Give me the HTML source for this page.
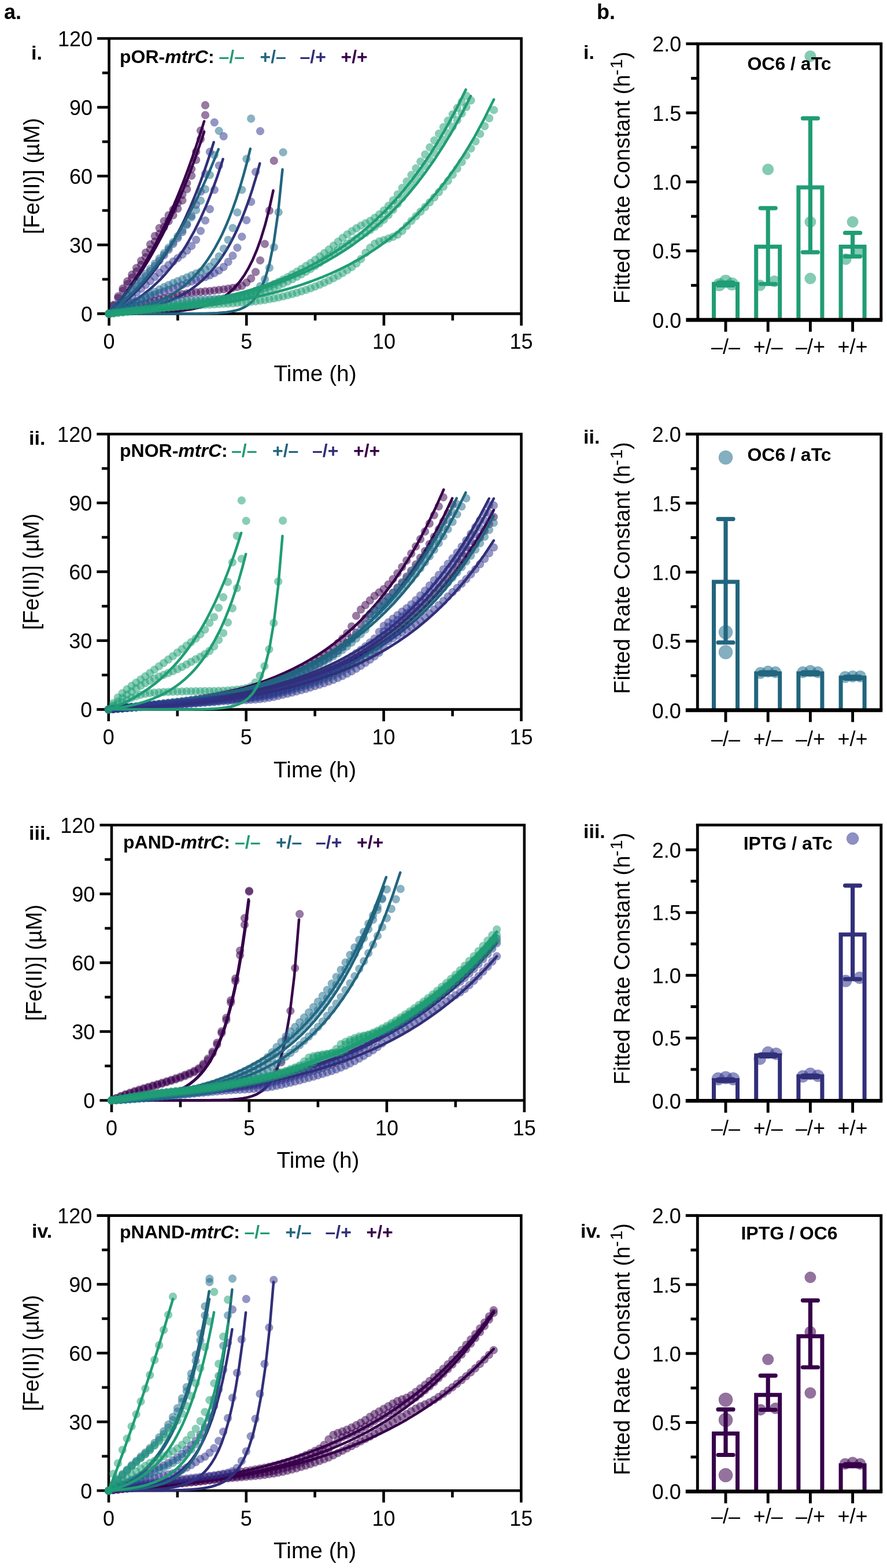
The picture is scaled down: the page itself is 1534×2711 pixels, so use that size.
<!DOCTYPE html>
<html lang="en"><head><meta charset="utf-8"><title>Figure</title>
<style>html,body{margin:0;padding:0;background:#fff}body{width:1534px;height:2711px;overflow:hidden}svg{display:block}text{font-family:'Liberation Sans', Arial, Helvetica, sans-serif}</style></head><body>
<svg width="1534" height="2711" viewBox="0 0 1534 2711">
<rect width="1534" height="2711" fill="#fff"/>
<text x="7" y="33" font-size="36" font-weight="bold">a.</text>
<text x="1032" y="33" font-size="36" font-weight="bold">b.</text>
<g>
<g stroke="#000" stroke-width="4.6" fill="none" stroke-linecap="butt">
<path d="M168.1 66.5 H901.6 V562.9"/>
<path d="M188.6 66.5 V562.9"/>
<path d="M168.1 542.4 H901.6"/>
<path d="M168.1 423.4 H188.6"/>
<path d="M168.1 304.4 H188.6"/>
<path d="M168.1 185.5 H188.6"/>
<path d="M176.8 482.9 H188.6"/>
<path d="M176.8 363.9 H188.6"/>
<path d="M176.8 245 H188.6"/>
<path d="M176.8 126 H188.6"/>
<path d="M426.3 542.4 V562.9"/>
<path d="M663.9 542.4 V562.9"/>
<path d="M307.4 542.4 V554.2"/>
<path d="M545.1 542.4 V554.2"/>
<path d="M782.8 542.4 V554.2"/>
</g>
<g fill="#3A004E" fill-opacity="0.52" stroke="#3A004E" stroke-opacity="0.25" stroke-width="1.0"><circle cx="188.6" cy="542.4" r="6.8"/><circle cx="196.5" cy="527" r="6.8"/><circle cx="204.4" cy="512.4" r="6.8"/><circle cx="212.4" cy="498.8" r="6.8"/><circle cx="220.3" cy="486.4" r="6.8"/><circle cx="228.2" cy="474.8" r="6.8"/><circle cx="236.1" cy="463.2" r="6.8"/><circle cx="244.1" cy="450.7" r="6.8"/><circle cx="252" cy="436.9" r="6.8"/><circle cx="259.9" cy="422.5" r="6.8"/><circle cx="267.8" cy="408.1" r="6.8"/><circle cx="275.7" cy="394.4" r="6.8"/><circle cx="283.7" cy="382.3" r="6.8"/><circle cx="291.6" cy="372.1" r="6.8"/><circle cx="299.5" cy="362.2" r="6.8"/><circle cx="307.4" cy="350.9" r="6.8"/><circle cx="315.4" cy="336.6" r="6.8"/><circle cx="323.3" cy="316.5" r="6.8"/><circle cx="331.2" cy="292.2" r="6.8"/><circle cx="339.1" cy="262.5" r="6.8"/><circle cx="347" cy="225.8" r="6.8"/><circle cx="355" cy="181.9" r="6.8"/></g>
<path d="M188.6 542.4 L192.7 537.6 L196.8 532.7 L200.9 527.6 L205 522.4 L209.2 517.1 L213.3 511.7 L217.4 506.1 L221.5 500.3 L225.6 494.4 L229.7 488.3 L233.8 482.1 L237.9 475.7 L242.1 469.2 L246.2 462.5 L250.3 455.6 L254.4 448.5 L258.5 441.2 L262.6 433.8 L266.7 426.1 L270.8 418.3 L274.9 410.2 L279.1 401.9 L283.2 393.4 L287.3 384.7 L291.4 375.8 L295.5 366.6 L299.6 357.2 L303.7 347.5 L307.8 337.6 L311.9 327.4 L316.1 317 L320.2 306.2 L324.3 295.2 L328.4 283.9 L332.5 272.4 L336.6 260.5 L340.7 248.3 L344.8 235.7 L349 222.9 L353.1 209.7" fill="none" stroke="#37004A" stroke-width="4.5" stroke-linecap="round" stroke-linejoin="round"/>
<g fill="#3A004E" fill-opacity="0.52" stroke="#3A004E" stroke-opacity="0.25" stroke-width="1.0"><circle cx="188.6" cy="542.4" r="6.8"/><circle cx="196.5" cy="528.5" r="6.8"/><circle cx="204.4" cy="515.3" r="6.8"/><circle cx="212.4" cy="502.7" r="6.8"/><circle cx="220.3" cy="491.2" r="6.8"/><circle cx="228.2" cy="480.4" r="6.8"/><circle cx="236.1" cy="469.5" r="6.8"/><circle cx="244.1" cy="457.7" r="6.8"/><circle cx="252" cy="444.8" r="6.8"/><circle cx="259.9" cy="431.2" r="6.8"/><circle cx="267.8" cy="417.7" r="6.8"/><circle cx="275.7" cy="404.6" r="6.8"/><circle cx="283.7" cy="392.7" r="6.8"/><circle cx="291.6" cy="382.4" r="6.8"/><circle cx="299.5" cy="372.3" r="6.8"/><circle cx="307.4" cy="360.8" r="6.8"/><circle cx="315.4" cy="346.5" r="6.8"/><circle cx="323.3" cy="326.9" r="6.8"/><circle cx="331.2" cy="303.7" r="6.8"/><circle cx="339.1" cy="276.4" r="6.8"/><circle cx="347" cy="240.5" r="6.8"/><circle cx="355" cy="199" r="6.8"/></g>
<path d="M188.6 542.4 L192.7 537.9 L196.8 533.2 L200.9 528.4 L205 523.5 L209.2 518.5 L213.3 513.3 L217.4 508 L221.5 502.6 L225.6 497 L229.7 491.3 L233.8 485.4 L237.9 479.4 L242.1 473.2 L246.2 466.9 L250.3 460.3 L254.4 453.6 L258.5 446.8 L262.6 439.7 L266.7 432.5 L270.8 425.1 L274.9 417.4 L279.1 409.6 L283.2 401.6 L287.3 393.4 L291.4 384.9 L295.5 376.2 L299.6 367.3 L303.7 358.2 L307.8 348.8 L311.9 339.2 L316.1 329.3 L320.2 319.2 L324.3 308.8 L328.4 298.1 L332.5 287.2 L336.6 275.9 L340.7 264.4 L344.8 252.5 L349 240.4 L353.1 227.9" fill="none" stroke="#37004A" stroke-width="4.5" stroke-linecap="round" stroke-linejoin="round"/>
<g fill="#3A004E" fill-opacity="0.52" stroke="#3A004E" stroke-opacity="0.25" stroke-width="1.0"><circle cx="188.6" cy="542.4" r="6.8"/><circle cx="196.5" cy="540" r="6.8"/><circle cx="204.4" cy="537.7" r="6.8"/><circle cx="212.4" cy="535.4" r="6.8"/><circle cx="220.3" cy="533.1" r="6.8"/><circle cx="228.2" cy="530.9" r="6.8"/><circle cx="236.1" cy="528.6" r="6.8"/><circle cx="244.1" cy="526.4" r="6.8"/><circle cx="252" cy="524.3" r="6.8"/><circle cx="259.9" cy="522.1" r="6.8"/><circle cx="267.8" cy="519.9" r="6.8"/><circle cx="275.7" cy="517.8" r="6.8"/><circle cx="283.7" cy="515.8" r="6.8"/><circle cx="291.6" cy="513.9" r="6.8"/><circle cx="299.5" cy="512" r="6.8"/><circle cx="307.4" cy="510.2" r="6.8"/><circle cx="315.4" cy="508.6" r="6.8"/><circle cx="323.3" cy="507.2" r="6.8"/><circle cx="331.2" cy="506.1" r="6.8"/><circle cx="339.1" cy="505.3" r="6.8"/><circle cx="347" cy="504.6" r="6.8"/><circle cx="355" cy="503.9" r="6.8"/><circle cx="362.9" cy="503.2" r="6.8"/><circle cx="370.8" cy="502.3" r="6.8"/><circle cx="378.7" cy="501.3" r="6.8"/><circle cx="386.7" cy="500.2" r="6.8"/><circle cx="394.6" cy="499" r="6.8"/><circle cx="402.5" cy="497.7" r="6.8"/><circle cx="410.4" cy="496.2" r="6.8"/><circle cx="418.3" cy="494.1" r="6.8"/><circle cx="426.3" cy="488.5" r="6.8"/><circle cx="434.2" cy="481.4" r="6.8"/><circle cx="442.1" cy="470.2" r="6.8"/><circle cx="450" cy="450.2" r="6.8"/><circle cx="458" cy="421.7" r="6.8"/><circle cx="465.9" cy="364.1" r="6.8"/><circle cx="473.8" cy="277.9" r="6.8"/></g>
<path d="M188.6 542.4 L195.7 542.3 L202.8 542.3 L209.9 542.2 L217 542.1 L224.1 542 L231.2 541.9 L238.3 541.8 L245.4 541.6 L252.5 541.4 L259.6 541.2 L266.7 540.9 L273.8 540.6 L280.9 540.2 L288 539.7 L295.1 539.2 L302.2 538.6 L309.3 537.8 L316.4 537 L323.5 535.9 L330.6 534.7 L337.7 533.3 L344.8 531.6 L351.9 529.6 L359 527.3 L366.1 524.6 L373.2 521.3 L380.3 517.5 L387.4 513 L394.5 507.7 L401.6 501.5 L408.7 494.1 L415.8 485.4 L422.9 475.2 L430 463.1 L437.1 448.9 L444.2 432.2 L451.3 412.4 L458.4 389.2 L465.5 361.7 L472.6 329.4" fill="none" stroke="#37004A" stroke-width="4.5" stroke-linecap="round" stroke-linejoin="round"/>
<g fill="#30358E" fill-opacity="0.52" stroke="#30358E" stroke-opacity="0.25" stroke-width="1.0"><circle cx="188.6" cy="542.4" r="6.8"/><circle cx="196.5" cy="534.9" r="6.8"/><circle cx="204.4" cy="527.2" r="6.8"/><circle cx="212.4" cy="519.4" r="6.8"/><circle cx="220.3" cy="511.4" r="6.8"/><circle cx="228.2" cy="503.2" r="6.8"/><circle cx="236.1" cy="494.8" r="6.8"/><circle cx="244.1" cy="486.3" r="6.8"/><circle cx="252" cy="477.7" r="6.8"/><circle cx="259.9" cy="468.9" r="6.8"/><circle cx="267.8" cy="459.9" r="6.8"/><circle cx="275.7" cy="450.7" r="6.8"/><circle cx="283.7" cy="441.3" r="6.8"/><circle cx="291.6" cy="431.6" r="6.8"/><circle cx="299.5" cy="421.6" r="6.8"/><circle cx="307.4" cy="411.7" r="6.8"/><circle cx="315.4" cy="401.1" r="6.8"/><circle cx="323.3" cy="388.7" r="6.8"/><circle cx="331.2" cy="373.1" r="6.8"/><circle cx="339.1" cy="354.1" r="6.8"/><circle cx="347" cy="331.4" r="6.8"/><circle cx="355" cy="300.5" r="6.8"/><circle cx="362.9" cy="262.5" r="6.8"/><circle cx="370.8" cy="211.6" r="6.8"/></g>
<path d="M188.6 542.4 L193.1 539.3 L197.7 536.2 L202.2 532.8 L206.7 529.4 L211.2 525.8 L215.8 522 L220.3 518.2 L224.8 514.1 L229.3 509.9 L233.9 505.5 L238.4 500.9 L242.9 496.2 L247.5 491.2 L252 486.1 L256.5 480.7 L261 475.1 L265.6 469.3 L270.1 463.3 L274.6 457 L279.2 450.4 L283.7 443.6 L288.2 436.5 L292.7 429.1 L297.3 421.5 L301.8 413.5 L306.3 405.1 L310.8 396.5 L315.4 387.5 L319.9 378.1 L324.4 368.3 L329 358.1 L333.5 347.5 L338 336.5 L342.5 325.1 L347.1 313.1 L351.6 300.7 L356.1 287.8 L360.6 274.3 L365.2 260.3 L369.7 245.8" fill="none" stroke="#312F79" stroke-width="4.5" stroke-linecap="round" stroke-linejoin="round"/>
<g fill="#30358E" fill-opacity="0.52" stroke="#30358E" stroke-opacity="0.25" stroke-width="1.0"><circle cx="188.6" cy="542.4" r="6.8"/><circle cx="196.5" cy="536.6" r="6.8"/><circle cx="204.4" cy="530.7" r="6.8"/><circle cx="212.4" cy="524.6" r="6.8"/><circle cx="220.3" cy="518.5" r="6.8"/><circle cx="228.2" cy="512.2" r="6.8"/><circle cx="236.1" cy="505.8" r="6.8"/><circle cx="244.1" cy="499.3" r="6.8"/><circle cx="252" cy="492.6" r="6.8"/><circle cx="259.9" cy="485.7" r="6.8"/><circle cx="267.8" cy="478.7" r="6.8"/><circle cx="275.7" cy="471.6" r="6.8"/><circle cx="283.7" cy="464.7" r="6.8"/><circle cx="291.6" cy="458.2" r="6.8"/><circle cx="299.5" cy="452.2" r="6.8"/><circle cx="307.4" cy="446.3" r="6.8"/><circle cx="315.4" cy="440.2" r="6.8"/><circle cx="323.3" cy="433.3" r="6.8"/><circle cx="331.2" cy="425.3" r="6.8"/><circle cx="339.1" cy="414.6" r="6.8"/><circle cx="347" cy="399.3" r="6.8"/><circle cx="355" cy="381.3" r="6.8"/><circle cx="362.9" cy="361.6" r="6.8"/><circle cx="370.8" cy="328.2" r="6.8"/><circle cx="378.7" cy="286.2" r="6.8"/><circle cx="386.7" cy="235.6" r="6.8"/></g>
<path d="M188.6 542.4 L193.5 540.4 L198.5 538.2 L203.4 535.9 L208.3 533.5 L213.2 531 L218.2 528.4 L223.1 525.6 L228 522.6 L232.9 519.5 L237.9 516.3 L242.8 512.8 L247.7 509.2 L252.6 505.4 L257.6 501.4 L262.5 497.2 L267.4 492.7 L272.3 488 L277.3 483.1 L282.2 477.9 L287.1 472.4 L292 466.6 L297 460.6 L301.9 454.2 L306.8 447.4 L311.7 440.3 L316.7 432.8 L321.6 425 L326.5 416.7 L331.4 407.9 L336.4 398.8 L341.3 389.1 L346.2 378.9 L351.1 368.1 L356.1 356.8 L361 344.9 L365.9 332.3 L370.8 319.1 L375.8 305.2 L380.7 290.5 L385.6 275.1" fill="none" stroke="#312F79" stroke-width="4.5" stroke-linecap="round" stroke-linejoin="round"/>
<g fill="#30358E" fill-opacity="0.52" stroke="#30358E" stroke-opacity="0.25" stroke-width="1.0"><circle cx="188.6" cy="542.4" r="6.8"/><circle cx="196.5" cy="538.4" r="6.8"/><circle cx="204.4" cy="534.5" r="6.8"/><circle cx="212.4" cy="530.8" r="6.8"/><circle cx="220.3" cy="527.2" r="6.8"/><circle cx="228.2" cy="523.8" r="6.8"/><circle cx="236.1" cy="520.6" r="6.8"/><circle cx="244.1" cy="517.5" r="6.8"/><circle cx="252" cy="514.7" r="6.8"/><circle cx="259.9" cy="512" r="6.8"/><circle cx="267.8" cy="509.3" r="6.8"/><circle cx="275.7" cy="506.6" r="6.8"/><circle cx="283.7" cy="503.9" r="6.8"/><circle cx="291.6" cy="501.1" r="6.8"/><circle cx="299.5" cy="498.2" r="6.8"/><circle cx="307.4" cy="495.3" r="6.8"/><circle cx="315.4" cy="492.5" r="6.8"/><circle cx="323.3" cy="489.6" r="6.8"/><circle cx="331.2" cy="486.8" r="6.8"/><circle cx="339.1" cy="484.2" r="6.8"/><circle cx="347" cy="481.6" r="6.8"/><circle cx="355" cy="478.9" r="6.8"/><circle cx="362.9" cy="475.9" r="6.8"/><circle cx="370.8" cy="472.3" r="6.8"/><circle cx="378.7" cy="467.8" r="6.8"/><circle cx="386.7" cy="461.6" r="6.8"/><circle cx="394.6" cy="452.8" r="6.8"/><circle cx="402.5" cy="442.1" r="6.8"/><circle cx="410.4" cy="428.2" r="6.8"/><circle cx="418.3" cy="409.3" r="6.8"/><circle cx="426.3" cy="380.7" r="6.8"/><circle cx="434.2" cy="348.9" r="6.8"/><circle cx="442.1" cy="297.2" r="6.8"/><circle cx="450" cy="226.7" r="6.8"/></g>
<path d="M188.6 542.4 L195.1 541.8 L201.6 541.1 L208.2 540.3 L214.7 539.5 L221.2 538.6 L227.7 537.6 L234.2 536.5 L240.7 535.3 L247.3 534 L253.8 532.6 L260.3 531 L266.8 529.2 L273.3 527.3 L279.9 525.2 L286.4 522.9 L292.9 520.4 L299.4 517.6 L305.9 514.6 L312.4 511.2 L319 507.6 L325.5 503.5 L332 499.1 L338.5 494.2 L345 488.9 L351.6 483.1 L358.1 476.6 L364.6 469.6 L371.1 461.9 L377.6 453.4 L384.1 444 L390.7 433.8 L397.2 422.6 L403.7 410.2 L410.2 396.7 L416.7 381.8 L423.2 365.5 L429.8 347.6 L436.3 327.9 L442.8 306.3 L449.3 282.6" fill="none" stroke="#312F79" stroke-width="4.5" stroke-linecap="round" stroke-linejoin="round"/>
<g fill="#1F6E8C" fill-opacity="0.52" stroke="#1F6E8C" stroke-opacity="0.25" stroke-width="1.0"><circle cx="188.6" cy="542.4" r="6.8"/><circle cx="196.5" cy="534" r="6.8"/><circle cx="204.4" cy="525.5" r="6.8"/><circle cx="212.4" cy="516.9" r="6.8"/><circle cx="220.3" cy="508.3" r="6.8"/><circle cx="228.2" cy="499.6" r="6.8"/><circle cx="236.1" cy="490.8" r="6.8"/><circle cx="244.1" cy="482.1" r="6.8"/><circle cx="252" cy="473.4" r="6.8"/><circle cx="259.9" cy="464.7" r="6.8"/><circle cx="267.8" cy="455.8" r="6.8"/><circle cx="275.7" cy="446.9" r="6.8"/><circle cx="283.7" cy="437.7" r="6.8"/><circle cx="291.6" cy="428.3" r="6.8"/><circle cx="299.5" cy="418.5" r="6.8"/><circle cx="307.4" cy="408.4" r="6.8"/><circle cx="315.4" cy="397.8" r="6.8"/><circle cx="323.3" cy="386.9" r="6.8"/><circle cx="331.2" cy="375.7" r="6.8"/><circle cx="339.1" cy="363.2" r="6.8"/><circle cx="347" cy="346.8" r="6.8"/><circle cx="355" cy="327.1" r="6.8"/><circle cx="362.9" cy="302.5" r="6.8"/><circle cx="370.8" cy="268.3" r="6.8"/><circle cx="378.7" cy="226.3" r="6.8"/></g>
<path d="M188.6 542.4 L193.3 538.7 L198.1 534.8 L202.8 530.8 L207.5 526.7 L212.2 522.5 L217 518.2 L221.7 513.7 L226.4 509.1 L231.2 504.3 L235.9 499.4 L240.6 494.4 L245.4 489.2 L250.1 483.8 L254.8 478.3 L259.5 472.6 L264.3 466.7 L269 460.7 L273.7 454.5 L278.5 448.1 L283.2 441.4 L287.9 434.6 L292.7 427.6 L297.4 420.4 L302.1 413 L306.8 405.3 L311.6 397.4 L316.3 389.3 L321 380.9 L325.8 372.2 L330.5 363.3 L335.2 354.2 L339.9 344.7 L344.7 335 L349.4 324.9 L354.1 314.6 L358.9 304 L363.6 293 L368.3 281.7 L373.1 270 L377.8 258" fill="none" stroke="#22657E" stroke-width="4.5" stroke-linecap="round" stroke-linejoin="round"/>
<g fill="#1F6E8C" fill-opacity="0.52" stroke="#1F6E8C" stroke-opacity="0.25" stroke-width="1.0"><circle cx="188.6" cy="542.4" r="6.8"/><circle cx="196.5" cy="539" r="6.8"/><circle cx="204.4" cy="535.5" r="6.8"/><circle cx="212.4" cy="531.9" r="6.8"/><circle cx="220.3" cy="528.3" r="6.8"/><circle cx="228.2" cy="524.6" r="6.8"/><circle cx="236.1" cy="520.8" r="6.8"/><circle cx="244.1" cy="517" r="6.8"/><circle cx="252" cy="513.1" r="6.8"/><circle cx="259.9" cy="508.9" r="6.8"/><circle cx="267.8" cy="504.6" r="6.8"/><circle cx="275.7" cy="500.4" r="6.8"/><circle cx="283.7" cy="496.4" r="6.8"/><circle cx="291.6" cy="492.7" r="6.8"/><circle cx="299.5" cy="489.3" r="6.8"/><circle cx="307.4" cy="486.1" r="6.8"/><circle cx="315.4" cy="482.9" r="6.8"/><circle cx="323.3" cy="479.5" r="6.8"/><circle cx="331.2" cy="476.1" r="6.8"/><circle cx="339.1" cy="472.9" r="6.8"/><circle cx="347" cy="469.6" r="6.8"/><circle cx="355" cy="465.7" r="6.8"/><circle cx="362.9" cy="460.9" r="6.8"/><circle cx="370.8" cy="453" r="6.8"/><circle cx="378.7" cy="443.3" r="6.8"/><circle cx="386.7" cy="430" r="6.8"/><circle cx="394.6" cy="414.7" r="6.8"/><circle cx="402.5" cy="394.3" r="6.8"/><circle cx="410.4" cy="367.2" r="6.8"/><circle cx="418.3" cy="328.2" r="6.8"/><circle cx="426.3" cy="274.7" r="6.8"/><circle cx="434.2" cy="205.1" r="6.8"/></g>
<path d="M188.6 542.4 L194.7 541.6 L200.8 540.7 L206.9 539.7 L213 538.7 L219.1 537.5 L225.2 536.3 L231.4 534.9 L237.5 533.4 L243.6 531.7 L249.7 529.9 L255.8 528 L261.9 525.9 L268 523.5 L274.1 521 L280.2 518.2 L286.3 515.2 L292.4 511.9 L298.5 508.3 L304.7 504.4 L310.8 500.1 L316.9 495.4 L323 490.3 L329.1 484.7 L335.2 478.7 L341.3 472 L347.4 464.8 L353.5 456.9 L359.6 448.3 L365.7 438.9 L371.8 428.6 L377.9 417.4 L384.1 405.2 L390.2 391.8 L396.3 377.2 L402.4 361.3 L408.5 344 L414.6 325.1 L420.7 304.4 L426.8 281.9 L432.9 257.3" fill="none" stroke="#22657E" stroke-width="4.5" stroke-linecap="round" stroke-linejoin="round"/>
<g fill="#1F6E8C" fill-opacity="0.52" stroke="#1F6E8C" stroke-opacity="0.25" stroke-width="1.0"><circle cx="188.6" cy="542.4" r="6.8"/><circle cx="196.5" cy="540.1" r="6.8"/><circle cx="204.4" cy="538" r="6.8"/><circle cx="212.4" cy="535.9" r="6.8"/><circle cx="220.3" cy="534" r="6.8"/><circle cx="228.2" cy="532.2" r="6.8"/><circle cx="236.1" cy="530.5" r="6.8"/><circle cx="244.1" cy="528.9" r="6.8"/><circle cx="252" cy="527.4" r="6.8"/><circle cx="259.9" cy="526" r="6.8"/><circle cx="267.8" cy="524.7" r="6.8"/><circle cx="275.7" cy="523.6" r="6.8"/><circle cx="283.7" cy="522.6" r="6.8"/><circle cx="291.6" cy="521.7" r="6.8"/><circle cx="299.5" cy="521" r="6.8"/><circle cx="307.4" cy="520.3" r="6.8"/><circle cx="315.4" cy="519.6" r="6.8"/><circle cx="323.3" cy="519.1" r="6.8"/><circle cx="331.2" cy="518.6" r="6.8"/><circle cx="339.1" cy="518.2" r="6.8"/><circle cx="347" cy="517.9" r="6.8"/><circle cx="355" cy="517.7" r="6.8"/><circle cx="362.9" cy="517.4" r="6.8"/><circle cx="370.8" cy="517.1" r="6.8"/><circle cx="378.7" cy="516.6" r="6.8"/><circle cx="386.7" cy="516.1" r="6.8"/><circle cx="394.6" cy="515.4" r="6.8"/><circle cx="402.5" cy="514.6" r="6.8"/><circle cx="410.4" cy="513.6" r="6.8"/><circle cx="418.3" cy="512.3" r="6.8"/><circle cx="426.3" cy="510.7" r="6.8"/><circle cx="434.2" cy="507.6" r="6.8"/><circle cx="442.1" cy="502.7" r="6.8"/><circle cx="450" cy="494.8" r="6.8"/><circle cx="458" cy="482.9" r="6.8"/><circle cx="465.9" cy="463" r="6.8"/><circle cx="473.8" cy="427.4" r="6.8"/><circle cx="481.7" cy="366.9" r="6.8"/><circle cx="489.6" cy="263.2" r="6.8"/></g>
<path d="M188.6 542.4 L196.1 542.4 L203.6 542.4 L211.1 542.4 L218.6 542.4 L226.1 542.4 L233.6 542.4 L241.1 542.4 L248.6 542.4 L256.1 542.4 L263.6 542.4 L271.1 542.4 L278.6 542.4 L286.1 542.4 L293.6 542.4 L301.1 542.4 L308.6 542.3 L316.1 542.3 L323.6 542.3 L331.1 542.3 L338.6 542.2 L346.1 542.1 L353.6 542 L361.1 541.8 L368.6 541.5 L376.1 541.2 L383.6 540.6 L391.1 539.9 L398.6 538.8 L406.1 537.3 L413.6 535.1 L421 532 L428.5 527.6 L436 521.4 L443.5 512.5 L451 499.8 L458.5 481.7 L466 456 L473.5 419.4 L481 367.2 L488.5 292.9" fill="none" stroke="#22657E" stroke-width="4.5" stroke-linecap="round" stroke-linejoin="round"/>
<g fill="#1FA075" fill-opacity="0.52" stroke="#1FA075" stroke-opacity="0.25" stroke-width="1.0"><circle cx="188.6" cy="542.4" r="6.8"/><circle cx="196.5" cy="541.4" r="6.8"/><circle cx="204.4" cy="540.4" r="6.8"/><circle cx="212.4" cy="539.4" r="6.8"/><circle cx="220.3" cy="538.4" r="6.8"/><circle cx="228.2" cy="537.4" r="6.8"/><circle cx="236.1" cy="536.5" r="6.8"/><circle cx="244.1" cy="535.5" r="6.8"/><circle cx="252" cy="534.5" r="6.8"/><circle cx="259.9" cy="533.6" r="6.8"/><circle cx="267.8" cy="532.6" r="6.8"/><circle cx="275.7" cy="531.7" r="6.8"/><circle cx="283.7" cy="530.7" r="6.8"/><circle cx="291.6" cy="529.8" r="6.8"/><circle cx="299.5" cy="528.8" r="6.8"/><circle cx="307.4" cy="527.8" r="6.8"/><circle cx="315.4" cy="526.7" r="6.8"/><circle cx="323.3" cy="525.7" r="6.8"/><circle cx="331.2" cy="524.6" r="6.8"/><circle cx="339.1" cy="523.4" r="6.8"/><circle cx="347" cy="522.3" r="6.8"/><circle cx="355" cy="521.2" r="6.8"/><circle cx="362.9" cy="520.1" r="6.8"/><circle cx="370.8" cy="519" r="6.8"/><circle cx="378.7" cy="517.8" r="6.8"/><circle cx="386.7" cy="516.5" r="6.8"/><circle cx="394.6" cy="515.2" r="6.8"/><circle cx="402.5" cy="513.7" r="6.8"/><circle cx="410.4" cy="512.2" r="6.8"/><circle cx="418.3" cy="510.5" r="6.8"/><circle cx="426.3" cy="508.7" r="6.8"/><circle cx="434.2" cy="506.6" r="6.8"/><circle cx="442.1" cy="504" r="6.8"/><circle cx="450" cy="501.1" r="6.8"/><circle cx="458" cy="497.9" r="6.8"/><circle cx="465.9" cy="494.6" r="6.8"/><circle cx="473.8" cy="491.1" r="6.8"/><circle cx="481.7" cy="487.4" r="6.8"/><circle cx="489.6" cy="483.3" r="6.8"/><circle cx="497.6" cy="479" r="6.8"/><circle cx="505.5" cy="474.4" r="6.8"/><circle cx="513.4" cy="469.7" r="6.8"/><circle cx="521.3" cy="464.8" r="6.8"/><circle cx="529.3" cy="459.8" r="6.8"/><circle cx="537.2" cy="454.7" r="6.8"/><circle cx="545.1" cy="449.2" r="6.8"/><circle cx="553" cy="443.4" r="6.8"/><circle cx="560.9" cy="437.5" r="6.8"/><circle cx="568.9" cy="431.4" r="6.8"/><circle cx="576.8" cy="424.8" r="6.8"/><circle cx="584.7" cy="417.9" r="6.8"/><circle cx="592.6" cy="411.3" r="6.8"/><circle cx="600.6" cy="405.2" r="6.8"/><circle cx="608.5" cy="399.7" r="6.8"/><circle cx="616.4" cy="394.6" r="6.8"/><circle cx="624.3" cy="390" r="6.8"/><circle cx="632.2" cy="386" r="6.8"/><circle cx="640.2" cy="381.8" r="6.8"/><circle cx="648.1" cy="376.6" r="6.8"/><circle cx="656" cy="370.7" r="6.8"/><circle cx="663.9" cy="363.9" r="6.8"/><circle cx="671.9" cy="355.8" r="6.8"/><circle cx="679.8" cy="346.4" r="6.8"/><circle cx="687.7" cy="336" r="6.8"/><circle cx="695.6" cy="324.9" r="6.8"/><circle cx="703.5" cy="313.7" r="6.8"/><circle cx="711.5" cy="302.5" r="6.8"/><circle cx="719.4" cy="291.1" r="6.8"/><circle cx="727.3" cy="279.2" r="6.8"/><circle cx="735.2" cy="267.1" r="6.8"/><circle cx="743.2" cy="254.8" r="6.8"/><circle cx="751.1" cy="242.7" r="6.8"/><circle cx="759" cy="231.1" r="6.8"/><circle cx="766.9" cy="219.8" r="6.8"/><circle cx="774.8" cy="208.6" r="6.8"/><circle cx="782.8" cy="197.6" r="6.8"/><circle cx="790.7" cy="186.8" r="6.8"/><circle cx="798.6" cy="176.1" r="6.8"/><circle cx="806.5" cy="165.6" r="6.8"/></g>
<path d="M188.6 542.4 L204 541.1 L219.4 539.6 L234.9 538.1 L250.3 536.4 L265.7 534.5 L281.1 532.5 L296.6 530.4 L312 528 L327.4 525.5 L342.8 522.7 L358.3 519.8 L373.7 516.5 L389.1 513 L404.5 509.2 L420 505.1 L435.4 500.6 L450.8 495.7 L466.2 490.4 L481.7 484.7 L497.1 478.5 L512.5 471.8 L527.9 464.5 L543.4 456.6 L558.8 448 L574.2 438.7 L589.6 428.6 L605.1 417.7 L620.5 405.8 L635.9 392.9 L651.3 379 L666.8 363.8 L682.2 347.4 L697.6 329.6 L713 310.3 L728.5 289.4 L743.9 266.7 L759.3 242 L774.7 215.3 L790.2 186.4 L805.6 154.9" fill="none" stroke="#209D75" stroke-width="4.5" stroke-linecap="round" stroke-linejoin="round"/>
<g fill="#1FA075" fill-opacity="0.52" stroke="#1FA075" stroke-opacity="0.25" stroke-width="1.0"><circle cx="188.6" cy="542.4" r="6.8"/><circle cx="196.5" cy="541.6" r="6.8"/><circle cx="204.4" cy="540.8" r="6.8"/><circle cx="212.4" cy="540.1" r="6.8"/><circle cx="220.3" cy="539.3" r="6.8"/><circle cx="228.2" cy="538.5" r="6.8"/><circle cx="236.1" cy="537.6" r="6.8"/><circle cx="244.1" cy="536.8" r="6.8"/><circle cx="252" cy="536" r="6.8"/><circle cx="259.9" cy="535.2" r="6.8"/><circle cx="267.8" cy="534.4" r="6.8"/><circle cx="275.7" cy="533.6" r="6.8"/><circle cx="283.7" cy="532.8" r="6.8"/><circle cx="291.6" cy="531.9" r="6.8"/><circle cx="299.5" cy="531.1" r="6.8"/><circle cx="307.4" cy="530.2" r="6.8"/><circle cx="315.4" cy="529.3" r="6.8"/><circle cx="323.3" cy="528.3" r="6.8"/><circle cx="331.2" cy="527.3" r="6.8"/><circle cx="339.1" cy="526.3" r="6.8"/><circle cx="347" cy="525.3" r="6.8"/><circle cx="355" cy="524.3" r="6.8"/><circle cx="362.9" cy="523.3" r="6.8"/><circle cx="370.8" cy="522.2" r="6.8"/><circle cx="378.7" cy="521.1" r="6.8"/><circle cx="386.7" cy="519.9" r="6.8"/><circle cx="394.6" cy="518.6" r="6.8"/><circle cx="402.5" cy="517.3" r="6.8"/><circle cx="410.4" cy="515.8" r="6.8"/><circle cx="418.3" cy="514.3" r="6.8"/><circle cx="426.3" cy="512.7" r="6.8"/><circle cx="434.2" cy="510.8" r="6.8"/><circle cx="442.1" cy="508.5" r="6.8"/><circle cx="450" cy="506" r="6.8"/><circle cx="458" cy="503.2" r="6.8"/><circle cx="465.9" cy="500.3" r="6.8"/><circle cx="473.8" cy="497.3" r="6.8"/><circle cx="481.7" cy="494" r="6.8"/><circle cx="489.6" cy="490.4" r="6.8"/><circle cx="497.6" cy="486.7" r="6.8"/><circle cx="505.5" cy="482.7" r="6.8"/><circle cx="513.4" cy="478.5" r="6.8"/><circle cx="521.3" cy="474.1" r="6.8"/><circle cx="529.3" cy="469.7" r="6.8"/><circle cx="537.2" cy="464.9" r="6.8"/><circle cx="545.1" cy="459.7" r="6.8"/><circle cx="553" cy="454.3" r="6.8"/><circle cx="560.9" cy="448.7" r="6.8"/><circle cx="568.9" cy="443.3" r="6.8"/><circle cx="576.8" cy="437.7" r="6.8"/><circle cx="584.7" cy="432" r="6.8"/><circle cx="592.6" cy="426.5" r="6.8"/><circle cx="600.6" cy="421.5" r="6.8"/><circle cx="608.5" cy="416.9" r="6.8"/><circle cx="616.4" cy="412.3" r="6.8"/><circle cx="624.3" cy="407.6" r="6.8"/><circle cx="632.2" cy="402.8" r="6.8"/><circle cx="640.2" cy="397.6" r="6.8"/><circle cx="648.1" cy="392.2" r="6.8"/><circle cx="656" cy="386.4" r="6.8"/><circle cx="663.9" cy="379.8" r="6.8"/><circle cx="671.9" cy="371.8" r="6.8"/><circle cx="679.8" cy="362.6" r="6.8"/><circle cx="687.7" cy="352.5" r="6.8"/><circle cx="695.6" cy="341.9" r="6.8"/><circle cx="703.5" cy="331" r="6.8"/><circle cx="711.5" cy="320.3" r="6.8"/><circle cx="719.4" cy="309.6" r="6.8"/><circle cx="727.3" cy="298.5" r="6.8"/><circle cx="735.2" cy="287.2" r="6.8"/><circle cx="743.2" cy="275.7" r="6.8"/><circle cx="751.1" cy="264.3" r="6.8"/><circle cx="759" cy="252.9" r="6.8"/><circle cx="766.9" cy="241.6" r="6.8"/><circle cx="774.8" cy="230.3" r="6.8"/><circle cx="782.8" cy="219" r="6.8"/><circle cx="790.7" cy="207.7" r="6.8"/><circle cx="798.6" cy="196.3" r="6.8"/><circle cx="806.5" cy="185" r="6.8"/><circle cx="814.5" cy="173.6" r="6.8"/></g>
<path d="M188.6 542.4 L204.2 541.2 L219.9 539.8 L235.5 538.3 L251.2 536.7 L266.8 535 L282.4 533.1 L298.1 531.1 L313.7 528.8 L329.3 526.4 L345 523.8 L360.6 521 L376.3 517.9 L391.9 514.5 L407.5 510.9 L423.2 507 L438.8 502.7 L454.5 498 L470.1 493 L485.7 487.5 L501.4 481.5 L517 475 L532.6 468 L548.3 460.4 L563.9 452.1 L579.6 443.1 L595.2 433.4 L610.8 422.8 L626.5 411.3 L642.1 398.8 L657.8 385.2 L673.4 370.5 L689 354.5 L704.7 337.2 L720.3 318.3 L735.9 297.9 L751.6 275.6 L767.2 251.5 L782.9 225.3 L798.5 196.9 L814.1 166" fill="none" stroke="#209D75" stroke-width="4.5" stroke-linecap="round" stroke-linejoin="round"/>
<g fill="#1FA075" fill-opacity="0.52" stroke="#1FA075" stroke-opacity="0.25" stroke-width="1.0"><circle cx="188.6" cy="542.4" r="6.8"/><circle cx="196.5" cy="541.3" r="6.8"/><circle cx="204.4" cy="540.2" r="6.8"/><circle cx="212.4" cy="539.2" r="6.8"/><circle cx="220.3" cy="538.2" r="6.8"/><circle cx="228.2" cy="537.3" r="6.8"/><circle cx="236.1" cy="536.5" r="6.8"/><circle cx="244.1" cy="535.7" r="6.8"/><circle cx="252" cy="534.9" r="6.8"/><circle cx="259.9" cy="534.2" r="6.8"/><circle cx="267.8" cy="533.5" r="6.8"/><circle cx="275.7" cy="532.8" r="6.8"/><circle cx="283.7" cy="532.1" r="6.8"/><circle cx="291.6" cy="531.5" r="6.8"/><circle cx="299.5" cy="530.9" r="6.8"/><circle cx="307.4" cy="530.3" r="6.8"/><circle cx="315.4" cy="529.7" r="6.8"/><circle cx="323.3" cy="529.1" r="6.8"/><circle cx="331.2" cy="528.5" r="6.8"/><circle cx="339.1" cy="528" r="6.8"/><circle cx="347" cy="527.5" r="6.8"/><circle cx="355" cy="527" r="6.8"/><circle cx="362.9" cy="526.6" r="6.8"/><circle cx="370.8" cy="526.2" r="6.8"/><circle cx="378.7" cy="525.8" r="6.8"/><circle cx="386.7" cy="525.3" r="6.8"/><circle cx="394.6" cy="524.9" r="6.8"/><circle cx="402.5" cy="524.4" r="6.8"/><circle cx="410.4" cy="523.8" r="6.8"/><circle cx="418.3" cy="523.2" r="6.8"/><circle cx="426.3" cy="522.6" r="6.8"/><circle cx="434.2" cy="521.8" r="6.8"/><circle cx="442.1" cy="520.9" r="6.8"/><circle cx="450" cy="519.8" r="6.8"/><circle cx="458" cy="518.6" r="6.8"/><circle cx="465.9" cy="517.3" r="6.8"/><circle cx="473.8" cy="515.9" r="6.8"/><circle cx="481.7" cy="514.3" r="6.8"/><circle cx="489.6" cy="512.5" r="6.8"/><circle cx="497.6" cy="510.5" r="6.8"/><circle cx="505.5" cy="508.4" r="6.8"/><circle cx="513.4" cy="506.1" r="6.8"/><circle cx="521.3" cy="503.6" r="6.8"/><circle cx="529.3" cy="501.1" r="6.8"/><circle cx="537.2" cy="498.4" r="6.8"/><circle cx="545.1" cy="495.4" r="6.8"/><circle cx="553" cy="492.1" r="6.8"/><circle cx="560.9" cy="488.6" r="6.8"/><circle cx="568.9" cy="484.9" r="6.8"/><circle cx="576.8" cy="481" r="6.8"/><circle cx="584.7" cy="476.7" r="6.8"/><circle cx="592.6" cy="472" r="6.8"/><circle cx="600.6" cy="467" r="6.8"/><circle cx="608.5" cy="461.6" r="6.8"/><circle cx="616.4" cy="455.5" r="6.8"/><circle cx="624.3" cy="447.7" r="6.8"/><circle cx="632.2" cy="437.1" r="6.8"/><circle cx="640.2" cy="428.4" r="6.8"/><circle cx="648.1" cy="421.3" r="6.8"/><circle cx="656" cy="417.4" r="6.8"/><circle cx="663.9" cy="415.1" r="6.8"/><circle cx="671.9" cy="412.4" r="6.8"/><circle cx="679.8" cy="409.4" r="6.8"/><circle cx="687.7" cy="405.6" r="6.8"/><circle cx="695.6" cy="399.2" r="6.8"/><circle cx="703.5" cy="390.5" r="6.8"/><circle cx="711.5" cy="381.8" r="6.8"/><circle cx="719.4" cy="373.8" r="6.8"/><circle cx="727.3" cy="365.9" r="6.8"/><circle cx="735.2" cy="357.9" r="6.8"/><circle cx="743.2" cy="349.7" r="6.8"/><circle cx="751.1" cy="341.2" r="6.8"/><circle cx="759" cy="332.2" r="6.8"/><circle cx="766.9" cy="322.7" r="6.8"/><circle cx="774.8" cy="312.7" r="6.8"/><circle cx="782.8" cy="302.3" r="6.8"/><circle cx="790.7" cy="291.5" r="6.8"/><circle cx="798.6" cy="280.3" r="6.8"/><circle cx="806.5" cy="268.8" r="6.8"/><circle cx="814.5" cy="256.8" r="6.8"/><circle cx="822.4" cy="244.4" r="6.8"/><circle cx="830.3" cy="231.5" r="6.8"/><circle cx="838.2" cy="218.1" r="6.8"/><circle cx="846.1" cy="204.4" r="6.8"/><circle cx="854.1" cy="190.2" r="6.8"/></g>
<path d="M188.6 542.4 L205.2 541.5 L221.9 540.5 L238.5 539.4 L255.1 538.2 L271.8 536.9 L288.4 535.5 L305.1 533.9 L321.7 532.2 L338.3 530.3 L355 528.2 L371.6 525.9 L388.2 523.4 L404.9 520.7 L421.5 517.6 L438.1 514.3 L454.8 510.7 L471.4 506.7 L488.1 502.3 L504.7 497.6 L521.3 492.3 L538 486.5 L554.6 480.2 L571.2 473.2 L587.9 465.6 L604.5 457.2 L621.2 448.1 L637.8 438 L654.4 426.9 L671.1 414.8 L687.7 401.5 L704.3 386.9 L721 370.9 L737.6 353.3 L754.2 334 L770.9 312.9 L787.5 289.7 L804.2 264.2 L820.8 236.3 L837.4 205.6 L854.1 172" fill="none" stroke="#209D75" stroke-width="4.5" stroke-linecap="round" stroke-linejoin="round"/>
<g font-size="36" fill="#000">
<text x="160" y="556" text-anchor="end">0</text>
<text x="160" y="437" text-anchor="end">30</text>
<text x="160" y="318.1" text-anchor="end">60</text>
<text x="160" y="199.1" text-anchor="end">90</text>
<text x="160" y="80.1" text-anchor="end">120</text>
<text x="188.6" y="603.1" text-anchor="middle">0</text>
<text x="426.3" y="603.1" text-anchor="middle">5</text>
<text x="663.9" y="603.1" text-anchor="middle">10</text>
<text x="901.6" y="603.1" text-anchor="middle">15</text>
</g>
<text x="545.1" y="659.2" font-size="38.8" text-anchor="middle">Time (h)</text>
<text transform="translate(68 304.4) rotate(-90)" font-size="38" text-anchor="middle">[Fe(II)] (µM)</text>
<text x="54" y="103" font-size="34" font-weight="bold">i.</text>
<text y="109.1" font-size="32" font-weight="bold"><tspan x="207">pOR-<tspan font-style="italic">mtrC</tspan>:</tspan>
<tspan x="378.5" fill="#209D75">–/–</tspan>
<tspan x="449.5" fill="#22657E">+/–</tspan>
<tspan x="518.5" fill="#312F79">–/+</tspan>
<tspan x="589.5" fill="#37004A">+/+</tspan>
</text>
</g>
<g>
<g stroke="#000" stroke-width="4.6" fill="none" stroke-linecap="butt">
<path d="M167.3 750.5 H901.5 V1247.1"/>
<path d="M187.8 750.5 V1247.1"/>
<path d="M167.3 1226.6 H901.5"/>
<path d="M167.3 1107.6 H187.8"/>
<path d="M167.3 988.5 H187.8"/>
<path d="M167.3 869.5 H187.8"/>
<path d="M176 1167.1 H187.8"/>
<path d="M176 1048.1 H187.8"/>
<path d="M176 929 H187.8"/>
<path d="M176 810 H187.8"/>
<path d="M425.7 1226.6 V1247.1"/>
<path d="M663.6 1226.6 V1247.1"/>
<path d="M306.8 1226.6 V1238.4"/>
<path d="M544.7 1226.6 V1238.4"/>
<path d="M782.6 1226.6 V1238.4"/>
</g>
<g fill="#1FA075" fill-opacity="0.52" stroke="#1FA075" stroke-opacity="0.25" stroke-width="1.0"><circle cx="187.8" cy="1226.6" r="6.8"/><circle cx="195.7" cy="1222.1" r="6.8"/><circle cx="203.7" cy="1217.9" r="6.8"/><circle cx="211.6" cy="1213.9" r="6.8"/><circle cx="219.5" cy="1210" r="6.8"/><circle cx="227.5" cy="1206.4" r="6.8"/><circle cx="235.4" cy="1203.6" r="6.8"/><circle cx="243.3" cy="1201.3" r="6.8"/><circle cx="251.2" cy="1199.5" r="6.8"/><circle cx="259.2" cy="1198.3" r="6.8"/><circle cx="267.1" cy="1197.6" r="6.8"/><circle cx="275" cy="1197.1" r="6.8"/><circle cx="283" cy="1196.6" r="6.8"/><circle cx="290.9" cy="1196.2" r="6.8"/><circle cx="298.8" cy="1195.9" r="6.8"/><circle cx="306.8" cy="1195.7" r="6.8"/><circle cx="314.7" cy="1195.5" r="6.8"/><circle cx="322.6" cy="1195.3" r="6.8"/><circle cx="330.5" cy="1195.2" r="6.8"/><circle cx="338.5" cy="1195.1" r="6.8"/><circle cx="346.4" cy="1195" r="6.8"/><circle cx="354.3" cy="1194.9" r="6.8"/><circle cx="362.3" cy="1194.8" r="6.8"/><circle cx="370.2" cy="1194.7" r="6.8"/><circle cx="378.1" cy="1194.5" r="6.8"/><circle cx="386.1" cy="1194.2" r="6.8"/><circle cx="394" cy="1193.7" r="6.8"/><circle cx="401.9" cy="1193.2" r="6.8"/><circle cx="409.8" cy="1192.4" r="6.8"/><circle cx="417.8" cy="1191.5" r="6.8"/><circle cx="425.7" cy="1189.8" r="6.8"/><circle cx="433.6" cy="1187" r="6.8"/><circle cx="441.6" cy="1180" r="6.8"/><circle cx="449.5" cy="1168.3" r="6.8"/><circle cx="457.4" cy="1151.7" r="6.8"/><circle cx="465.4" cy="1122.6" r="6.8"/><circle cx="473.3" cy="1077" r="6.8"/><circle cx="481.2" cy="1005.4" r="6.8"/><circle cx="489.1" cy="900.1" r="6.8"/></g>
<g fill="#3A004E" fill-opacity="0.52" stroke="#3A004E" stroke-opacity="0.25" stroke-width="1.0"><circle cx="187.8" cy="1226.6" r="6.8"/><circle cx="195.7" cy="1225.8" r="6.8"/><circle cx="203.7" cy="1224.9" r="6.8"/><circle cx="211.6" cy="1224.1" r="6.8"/><circle cx="219.5" cy="1223.2" r="6.8"/><circle cx="227.5" cy="1222.4" r="6.8"/><circle cx="235.4" cy="1221.5" r="6.8"/><circle cx="243.3" cy="1220.7" r="6.8"/><circle cx="251.2" cy="1219.8" r="6.8"/><circle cx="259.2" cy="1218.9" r="6.8"/><circle cx="267.1" cy="1218" r="6.8"/><circle cx="275" cy="1217.1" r="6.8"/><circle cx="283" cy="1216.2" r="6.8"/><circle cx="290.9" cy="1215.3" r="6.8"/><circle cx="298.8" cy="1214.4" r="6.8"/><circle cx="306.8" cy="1213.5" r="6.8"/><circle cx="314.7" cy="1212.5" r="6.8"/><circle cx="322.6" cy="1211.5" r="6.8"/><circle cx="330.5" cy="1210.4" r="6.8"/><circle cx="338.5" cy="1209.3" r="6.8"/><circle cx="346.4" cy="1208.1" r="6.8"/><circle cx="354.3" cy="1206.9" r="6.8"/><circle cx="362.3" cy="1205.6" r="6.8"/><circle cx="370.2" cy="1204.2" r="6.8"/><circle cx="378.1" cy="1202.7" r="6.8"/><circle cx="386.1" cy="1201.1" r="6.8"/><circle cx="394" cy="1199.5" r="6.8"/><circle cx="401.9" cy="1197.9" r="6.8"/><circle cx="409.8" cy="1196.2" r="6.8"/><circle cx="417.8" cy="1194.4" r="6.8"/><circle cx="425.7" cy="1192.5" r="6.8"/><circle cx="433.6" cy="1190.4" r="6.8"/><circle cx="441.6" cy="1188.2" r="6.8"/><circle cx="449.5" cy="1185.8" r="6.8"/><circle cx="457.4" cy="1183.2" r="6.8"/><circle cx="465.4" cy="1180.4" r="6.8"/><circle cx="473.3" cy="1177.3" r="6.8"/><circle cx="481.2" cy="1174.1" r="6.8"/><circle cx="489.1" cy="1170.6" r="6.8"/><circle cx="497.1" cy="1167" r="6.8"/><circle cx="505" cy="1163.2" r="6.8"/><circle cx="512.9" cy="1159.3" r="6.8"/><circle cx="520.9" cy="1155.1" r="6.8"/><circle cx="528.8" cy="1150.8" r="6.8"/><circle cx="536.7" cy="1146.2" r="6.8"/><circle cx="544.7" cy="1141.4" r="6.8"/><circle cx="552.6" cy="1136.4" r="6.8"/><circle cx="560.5" cy="1131.1" r="6.8"/><circle cx="568.4" cy="1125.6" r="6.8"/><circle cx="576.4" cy="1119.4" r="6.8"/><circle cx="584.3" cy="1112.1" r="6.8"/><circle cx="592.2" cy="1104" r="6.8"/><circle cx="600.2" cy="1094.9" r="6.8"/><circle cx="608.1" cy="1083.1" r="6.8"/><circle cx="616" cy="1064.7" r="6.8"/><circle cx="624" cy="1053.9" r="6.8"/><circle cx="631.9" cy="1046.1" r="6.8"/><circle cx="639.8" cy="1038.1" r="6.8"/><circle cx="647.7" cy="1030.3" r="6.8"/><circle cx="655.7" cy="1024.3" r="6.8"/><circle cx="663.6" cy="1018.5" r="6.8"/><circle cx="671.5" cy="1010.6" r="6.8"/><circle cx="679.5" cy="1001.3" r="6.8"/><circle cx="687.4" cy="991.2" r="6.8"/><circle cx="695.3" cy="980.4" r="6.8"/><circle cx="703.2" cy="969" r="6.8"/><circle cx="711.2" cy="957.1" r="6.8"/><circle cx="719.1" cy="944.8" r="6.8"/><circle cx="727" cy="932.1" r="6.8"/><circle cx="735" cy="918.9" r="6.8"/><circle cx="742.9" cy="905.1" r="6.8"/><circle cx="750.8" cy="890.7" r="6.8"/><circle cx="758.8" cy="875.6" r="6.8"/><circle cx="766.7" cy="859.7" r="6.8"/></g>
<path d="M187.8 1226.6 L202.3 1225.5 L216.8 1224.3 L231.3 1223 L245.8 1221.5 L260.2 1220 L274.7 1218.3 L289.2 1216.4 L303.7 1214.4 L318.2 1212.2 L332.7 1209.8 L347.2 1207.1 L361.7 1204.3 L376.1 1201.1 L390.6 1197.7 L405.1 1194 L419.6 1189.9 L434.1 1185.5 L448.6 1180.7 L463.1 1175.4 L477.6 1169.6 L492.1 1163.4 L506.5 1156.5 L521 1149.1 L535.5 1140.9 L550 1132.1 L564.5 1122.4 L579 1111.8 L593.5 1100.3 L608 1087.8 L622.4 1074.1 L636.9 1059.2 L651.4 1042.9 L665.9 1025.1 L680.4 1005.7 L694.9 984.6 L709.4 961.6 L723.9 936.4 L738.3 909 L752.8 879.1 L767.3 846.5" fill="none" stroke="#37004A" stroke-width="4.5" stroke-linecap="round" stroke-linejoin="round"/>
<g fill="#3A004E" fill-opacity="0.52" stroke="#3A004E" stroke-opacity="0.25" stroke-width="1.0"><circle cx="187.8" cy="1226.6" r="6.8"/><circle cx="195.7" cy="1225.8" r="6.8"/><circle cx="203.7" cy="1225" r="6.8"/><circle cx="211.6" cy="1224.2" r="6.8"/><circle cx="219.5" cy="1223.4" r="6.8"/><circle cx="227.5" cy="1222.7" r="6.8"/><circle cx="235.4" cy="1221.9" r="6.8"/><circle cx="243.3" cy="1221.1" r="6.8"/><circle cx="251.2" cy="1220.3" r="6.8"/><circle cx="259.2" cy="1219.5" r="6.8"/><circle cx="267.1" cy="1218.7" r="6.8"/><circle cx="275" cy="1217.9" r="6.8"/><circle cx="283" cy="1217.1" r="6.8"/><circle cx="290.9" cy="1216.3" r="6.8"/><circle cx="298.8" cy="1215.4" r="6.8"/><circle cx="306.8" cy="1214.6" r="6.8"/><circle cx="314.7" cy="1213.7" r="6.8"/><circle cx="322.6" cy="1212.8" r="6.8"/><circle cx="330.5" cy="1211.9" r="6.8"/><circle cx="338.5" cy="1210.9" r="6.8"/><circle cx="346.4" cy="1209.9" r="6.8"/><circle cx="354.3" cy="1208.8" r="6.8"/><circle cx="362.3" cy="1207.6" r="6.8"/><circle cx="370.2" cy="1206.4" r="6.8"/><circle cx="378.1" cy="1205" r="6.8"/><circle cx="386.1" cy="1203.7" r="6.8"/><circle cx="394" cy="1202.3" r="6.8"/><circle cx="401.9" cy="1200.9" r="6.8"/><circle cx="409.8" cy="1199.4" r="6.8"/><circle cx="417.8" cy="1197.8" r="6.8"/><circle cx="425.7" cy="1196.1" r="6.8"/><circle cx="433.6" cy="1194.3" r="6.8"/><circle cx="441.6" cy="1192.4" r="6.8"/><circle cx="449.5" cy="1190.3" r="6.8"/><circle cx="457.4" cy="1188" r="6.8"/><circle cx="465.4" cy="1185.5" r="6.8"/><circle cx="473.3" cy="1182.8" r="6.8"/><circle cx="481.2" cy="1179.9" r="6.8"/><circle cx="489.1" cy="1176.8" r="6.8"/><circle cx="497.1" cy="1173.6" r="6.8"/><circle cx="505" cy="1170.2" r="6.8"/><circle cx="512.9" cy="1166.7" r="6.8"/><circle cx="520.9" cy="1163" r="6.8"/><circle cx="528.8" cy="1159.2" r="6.8"/><circle cx="536.7" cy="1155.1" r="6.8"/><circle cx="544.7" cy="1150.9" r="6.8"/><circle cx="552.6" cy="1146.4" r="6.8"/><circle cx="560.5" cy="1141.8" r="6.8"/><circle cx="568.4" cy="1136.9" r="6.8"/><circle cx="576.4" cy="1131.5" r="6.8"/><circle cx="584.3" cy="1125.4" r="6.8"/><circle cx="592.2" cy="1118.7" r="6.8"/><circle cx="600.2" cy="1111.2" r="6.8"/><circle cx="608.1" cy="1103.1" r="6.8"/><circle cx="616" cy="1093.9" r="6.8"/><circle cx="624" cy="1079.5" r="6.8"/><circle cx="631.9" cy="1068.8" r="6.8"/><circle cx="639.8" cy="1061.6" r="6.8"/><circle cx="647.7" cy="1054.2" r="6.8"/><circle cx="655.7" cy="1046.5" r="6.8"/><circle cx="663.6" cy="1039.4" r="6.8"/><circle cx="671.5" cy="1032.3" r="6.8"/><circle cx="679.5" cy="1024.5" r="6.8"/><circle cx="687.4" cy="1015.9" r="6.8"/><circle cx="695.3" cy="1006.7" r="6.8"/><circle cx="703.2" cy="996.9" r="6.8"/><circle cx="711.2" cy="986.5" r="6.8"/><circle cx="719.1" cy="975.7" r="6.8"/><circle cx="727" cy="964.4" r="6.8"/><circle cx="735" cy="952.7" r="6.8"/><circle cx="742.9" cy="940.6" r="6.8"/><circle cx="750.8" cy="928.1" r="6.8"/><circle cx="758.8" cy="915.1" r="6.8"/><circle cx="766.7" cy="901.5" r="6.8"/><circle cx="774.6" cy="887.3" r="6.8"/><circle cx="782.6" cy="872.4" r="6.8"/></g>
<path d="M187.8 1226.6 L202.7 1225.6 L217.5 1224.4 L232.4 1223.2 L247.2 1221.8 L262.1 1220.4 L276.9 1218.7 L291.8 1217 L306.7 1215.1 L321.5 1213 L336.4 1210.7 L351.2 1208.2 L366.1 1205.5 L380.9 1202.5 L395.8 1199.2 L410.7 1195.7 L425.5 1191.8 L440.4 1187.6 L455.2 1183 L470.1 1178 L484.9 1172.5 L499.8 1166.5 L514.7 1160 L529.5 1152.9 L544.4 1145.1 L559.2 1136.6 L574.1 1127.3 L588.9 1117.2 L603.8 1106.2 L618.6 1094.1 L633.5 1081 L648.4 1066.6 L663.2 1051 L678.1 1033.9 L692.9 1015.2 L707.8 994.9 L722.6 972.7 L737.5 948.4 L752.4 922 L767.2 893.1 L782.1 861.6" fill="none" stroke="#37004A" stroke-width="4.5" stroke-linecap="round" stroke-linejoin="round"/>
<g fill="#3A004E" fill-opacity="0.52" stroke="#3A004E" stroke-opacity="0.25" stroke-width="1.0"><circle cx="187.8" cy="1226.6" r="6.8"/><circle cx="195.7" cy="1225.9" r="6.8"/><circle cx="203.7" cy="1225.2" r="6.8"/><circle cx="211.6" cy="1224.6" r="6.8"/><circle cx="219.5" cy="1223.9" r="6.8"/><circle cx="227.5" cy="1223.3" r="6.8"/><circle cx="235.4" cy="1222.6" r="6.8"/><circle cx="243.3" cy="1222" r="6.8"/><circle cx="251.2" cy="1221.4" r="6.8"/><circle cx="259.2" cy="1220.8" r="6.8"/><circle cx="267.1" cy="1220.1" r="6.8"/><circle cx="275" cy="1219.5" r="6.8"/><circle cx="283" cy="1218.9" r="6.8"/><circle cx="290.9" cy="1218.4" r="6.8"/><circle cx="298.8" cy="1217.8" r="6.8"/><circle cx="306.8" cy="1217.2" r="6.8"/><circle cx="314.7" cy="1216.6" r="6.8"/><circle cx="322.6" cy="1216" r="6.8"/><circle cx="330.5" cy="1215.3" r="6.8"/><circle cx="338.5" cy="1214.7" r="6.8"/><circle cx="346.4" cy="1214" r="6.8"/><circle cx="354.3" cy="1213.3" r="6.8"/><circle cx="362.3" cy="1212.5" r="6.8"/><circle cx="370.2" cy="1211.7" r="6.8"/><circle cx="378.1" cy="1210.9" r="6.8"/><circle cx="386.1" cy="1210" r="6.8"/><circle cx="394" cy="1209.3" r="6.8"/><circle cx="401.9" cy="1208.5" r="6.8"/><circle cx="409.8" cy="1207.8" r="6.8"/><circle cx="417.8" cy="1207.1" r="6.8"/><circle cx="425.7" cy="1206.3" r="6.8"/><circle cx="433.6" cy="1205.4" r="6.8"/><circle cx="441.6" cy="1204.3" r="6.8"/><circle cx="449.5" cy="1203.2" r="6.8"/><circle cx="457.4" cy="1201.8" r="6.8"/><circle cx="465.4" cy="1200.2" r="6.8"/><circle cx="473.3" cy="1198.4" r="6.8"/><circle cx="481.2" cy="1196.4" r="6.8"/><circle cx="489.1" cy="1194.3" r="6.8"/><circle cx="497.1" cy="1192.1" r="6.8"/><circle cx="505" cy="1189.8" r="6.8"/><circle cx="512.9" cy="1187.5" r="6.8"/><circle cx="520.9" cy="1185" r="6.8"/><circle cx="528.8" cy="1182.4" r="6.8"/><circle cx="536.7" cy="1179.7" r="6.8"/><circle cx="544.7" cy="1176.9" r="6.8"/><circle cx="552.6" cy="1174" r="6.8"/><circle cx="560.5" cy="1170.9" r="6.8"/><circle cx="568.4" cy="1167.7" r="6.8"/><circle cx="576.4" cy="1164.3" r="6.8"/><circle cx="584.3" cy="1160.4" r="6.8"/><circle cx="592.2" cy="1156.2" r="6.8"/><circle cx="600.2" cy="1151.7" r="6.8"/><circle cx="608.1" cy="1146.7" r="6.8"/><circle cx="616" cy="1141.4" r="6.8"/><circle cx="624" cy="1135.8" r="6.8"/><circle cx="631.9" cy="1129.7" r="6.8"/><circle cx="639.8" cy="1123.3" r="6.8"/><circle cx="647.7" cy="1115" r="6.8"/><circle cx="655.7" cy="1104.5" r="6.8"/><circle cx="663.6" cy="1098.5" r="6.8"/><circle cx="671.5" cy="1093.1" r="6.8"/><circle cx="679.5" cy="1087.7" r="6.8"/><circle cx="687.4" cy="1082" r="6.8"/><circle cx="695.3" cy="1076.3" r="6.8"/><circle cx="703.2" cy="1070.3" r="6.8"/><circle cx="711.2" cy="1063.8" r="6.8"/><circle cx="719.1" cy="1056.9" r="6.8"/><circle cx="727" cy="1049.7" r="6.8"/><circle cx="735" cy="1042.1" r="6.8"/><circle cx="742.9" cy="1034.2" r="6.8"/><circle cx="750.8" cy="1026.1" r="6.8"/><circle cx="758.8" cy="1017.6" r="6.8"/><circle cx="766.7" cy="1008.9" r="6.8"/><circle cx="774.6" cy="1000.1" r="6.8"/><circle cx="782.6" cy="991" r="6.8"/><circle cx="790.5" cy="981.6" r="6.8"/><circle cx="798.4" cy="971.8" r="6.8"/><circle cx="806.3" cy="961.7" r="6.8"/><circle cx="814.3" cy="951.2" r="6.8"/><circle cx="822.2" cy="940.4" r="6.8"/><circle cx="830.1" cy="929.4" r="6.8"/><circle cx="838.1" cy="917.9" r="6.8"/><circle cx="846" cy="906.1" r="6.8"/><circle cx="853.9" cy="893.7" r="6.8"/></g>
<path d="M187.8 1226.6 L204.5 1225.7 L221.1 1224.6 L237.8 1223.5 L254.4 1222.3 L271.1 1221 L287.7 1219.5 L304.4 1217.9 L321 1216.2 L337.7 1214.3 L354.3 1212.2 L371 1209.9 L387.6 1207.4 L404.3 1204.7 L420.9 1201.7 L437.6 1198.5 L454.2 1194.9 L470.9 1191 L487.6 1186.8 L504.2 1182.1 L520.9 1177.1 L537.5 1171.5 L554.2 1165.4 L570.8 1158.8 L587.5 1151.5 L604.1 1143.6 L620.8 1134.9 L637.4 1125.4 L654.1 1115 L670.7 1103.7 L687.4 1091.3 L704 1077.7 L720.7 1062.9 L737.3 1046.6 L754 1028.9 L770.7 1009.5 L787.3 988.3 L804 965.2 L820.6 939.8 L837.3 912.1 L853.9 881.8" fill="none" stroke="#37004A" stroke-width="4.5" stroke-linecap="round" stroke-linejoin="round"/>
<g fill="#1F6E8C" fill-opacity="0.52" stroke="#1F6E8C" stroke-opacity="0.25" stroke-width="1.0"><circle cx="187.8" cy="1226.6" r="6.8"/><circle cx="195.7" cy="1225.8" r="6.8"/><circle cx="203.7" cy="1224.9" r="6.8"/><circle cx="211.6" cy="1224.1" r="6.8"/><circle cx="219.5" cy="1223.2" r="6.8"/><circle cx="227.5" cy="1222.4" r="6.8"/><circle cx="235.4" cy="1221.5" r="6.8"/><circle cx="243.3" cy="1220.7" r="6.8"/><circle cx="251.2" cy="1219.8" r="6.8"/><circle cx="259.2" cy="1218.9" r="6.8"/><circle cx="267.1" cy="1218.1" r="6.8"/><circle cx="275" cy="1217.2" r="6.8"/><circle cx="283" cy="1216.4" r="6.8"/><circle cx="290.9" cy="1215.5" r="6.8"/><circle cx="298.8" cy="1214.6" r="6.8"/><circle cx="306.8" cy="1213.7" r="6.8"/><circle cx="314.7" cy="1212.8" r="6.8"/><circle cx="322.6" cy="1211.8" r="6.8"/><circle cx="330.5" cy="1210.8" r="6.8"/><circle cx="338.5" cy="1209.8" r="6.8"/><circle cx="346.4" cy="1208.7" r="6.8"/><circle cx="354.3" cy="1207.5" r="6.8"/><circle cx="362.3" cy="1206.3" r="6.8"/><circle cx="370.2" cy="1205" r="6.8"/><circle cx="378.1" cy="1203.6" r="6.8"/><circle cx="386.1" cy="1202.2" r="6.8"/><circle cx="394" cy="1200.7" r="6.8"/><circle cx="401.9" cy="1199.3" r="6.8"/><circle cx="409.8" cy="1197.7" r="6.8"/><circle cx="417.8" cy="1196.1" r="6.8"/><circle cx="425.7" cy="1194.4" r="6.8"/><circle cx="433.6" cy="1192.6" r="6.8"/><circle cx="441.6" cy="1190.6" r="6.8"/><circle cx="449.5" cy="1188.4" r="6.8"/><circle cx="457.4" cy="1186.1" r="6.8"/><circle cx="465.4" cy="1183.6" r="6.8"/><circle cx="473.3" cy="1180.9" r="6.8"/><circle cx="481.2" cy="1177.9" r="6.8"/><circle cx="489.1" cy="1174.9" r="6.8"/><circle cx="497.1" cy="1171.7" r="6.8"/><circle cx="505" cy="1168.3" r="6.8"/><circle cx="512.9" cy="1164.8" r="6.8"/><circle cx="520.9" cy="1161.2" r="6.8"/><circle cx="528.8" cy="1157.3" r="6.8"/><circle cx="536.7" cy="1153.3" r="6.8"/><circle cx="544.7" cy="1149.2" r="6.8"/><circle cx="552.6" cy="1144.8" r="6.8"/><circle cx="560.5" cy="1140.2" r="6.8"/><circle cx="568.4" cy="1135.5" r="6.8"/><circle cx="576.4" cy="1130.4" r="6.8"/><circle cx="584.3" cy="1124.8" r="6.8"/><circle cx="592.2" cy="1118.7" r="6.8"/><circle cx="600.2" cy="1112.1" r="6.8"/><circle cx="608.1" cy="1105" r="6.8"/><circle cx="616" cy="1097.4" r="6.8"/><circle cx="624" cy="1089.3" r="6.8"/><circle cx="631.9" cy="1079.5" r="6.8"/><circle cx="639.8" cy="1065.7" r="6.8"/><circle cx="647.7" cy="1056.4" r="6.8"/><circle cx="655.7" cy="1048.8" r="6.8"/><circle cx="663.6" cy="1041.1" r="6.8"/><circle cx="671.5" cy="1033.1" r="6.8"/><circle cx="679.5" cy="1025.2" r="6.8"/><circle cx="687.4" cy="1017.2" r="6.8"/><circle cx="695.3" cy="1008.7" r="6.8"/><circle cx="703.2" cy="999.8" r="6.8"/><circle cx="711.2" cy="990.3" r="6.8"/><circle cx="719.1" cy="980.5" r="6.8"/><circle cx="727" cy="970.2" r="6.8"/><circle cx="735" cy="959.5" r="6.8"/><circle cx="742.9" cy="948.4" r="6.8"/><circle cx="750.8" cy="936.8" r="6.8"/><circle cx="758.8" cy="924.8" r="6.8"/><circle cx="766.7" cy="912.4" r="6.8"/><circle cx="774.6" cy="899.4" r="6.8"/><circle cx="782.6" cy="885.9" r="6.8"/><circle cx="790.5" cy="871.8" r="6.8"/></g>
<path d="M187.8 1226.6 L202.8 1225.4 L217.9 1224.2 L232.9 1222.8 L248 1221.3 L263 1219.7 L278.1 1217.9 L293.1 1216 L308.2 1214 L323.2 1211.7 L338.3 1209.2 L353.3 1206.6 L368.4 1203.6 L383.4 1200.5 L398.5 1197 L413.5 1193.3 L428.6 1189.2 L443.6 1184.8 L458.6 1180 L473.7 1174.8 L488.7 1169.1 L503.8 1162.9 L518.8 1156.2 L533.9 1148.8 L548.9 1140.9 L564 1132.2 L579 1122.8 L594.1 1112.6 L609.1 1101.5 L624.2 1089.4 L639.2 1076.2 L654.3 1061.9 L669.3 1046.4 L684.4 1029.5 L699.4 1011.1 L714.5 991.1 L729.5 969.3 L744.5 945.7 L759.6 920 L774.6 892 L789.7 861.6" fill="none" stroke="#22657E" stroke-width="4.5" stroke-linecap="round" stroke-linejoin="round"/>
<g fill="#1F6E8C" fill-opacity="0.52" stroke="#1F6E8C" stroke-opacity="0.25" stroke-width="1.0"><circle cx="187.8" cy="1226.6" r="6.8"/><circle cx="195.7" cy="1225.8" r="6.8"/><circle cx="203.7" cy="1224.9" r="6.8"/><circle cx="211.6" cy="1224.1" r="6.8"/><circle cx="219.5" cy="1223.3" r="6.8"/><circle cx="227.5" cy="1222.4" r="6.8"/><circle cx="235.4" cy="1221.6" r="6.8"/><circle cx="243.3" cy="1220.8" r="6.8"/><circle cx="251.2" cy="1219.9" r="6.8"/><circle cx="259.2" cy="1219.1" r="6.8"/><circle cx="267.1" cy="1218.2" r="6.8"/><circle cx="275" cy="1217.4" r="6.8"/><circle cx="283" cy="1216.6" r="6.8"/><circle cx="290.9" cy="1215.7" r="6.8"/><circle cx="298.8" cy="1214.9" r="6.8"/><circle cx="306.8" cy="1214" r="6.8"/><circle cx="314.7" cy="1213.1" r="6.8"/><circle cx="322.6" cy="1212.2" r="6.8"/><circle cx="330.5" cy="1211.2" r="6.8"/><circle cx="338.5" cy="1210.2" r="6.8"/><circle cx="346.4" cy="1209.1" r="6.8"/><circle cx="354.3" cy="1208" r="6.8"/><circle cx="362.3" cy="1206.9" r="6.8"/><circle cx="370.2" cy="1205.6" r="6.8"/><circle cx="378.1" cy="1204.3" r="6.8"/><circle cx="386.1" cy="1202.9" r="6.8"/><circle cx="394" cy="1201.5" r="6.8"/><circle cx="401.9" cy="1200.1" r="6.8"/><circle cx="409.8" cy="1198.7" r="6.8"/><circle cx="417.8" cy="1197.1" r="6.8"/><circle cx="425.7" cy="1195.5" r="6.8"/><circle cx="433.6" cy="1193.7" r="6.8"/><circle cx="441.6" cy="1191.9" r="6.8"/><circle cx="449.5" cy="1189.8" r="6.8"/><circle cx="457.4" cy="1187.6" r="6.8"/><circle cx="465.4" cy="1185.2" r="6.8"/><circle cx="473.3" cy="1182.6" r="6.8"/><circle cx="481.2" cy="1179.8" r="6.8"/><circle cx="489.1" cy="1176.9" r="6.8"/><circle cx="497.1" cy="1173.8" r="6.8"/><circle cx="505" cy="1170.6" r="6.8"/><circle cx="512.9" cy="1167.3" r="6.8"/><circle cx="520.9" cy="1163.8" r="6.8"/><circle cx="528.8" cy="1160.2" r="6.8"/><circle cx="536.7" cy="1156.4" r="6.8"/><circle cx="544.7" cy="1152.5" r="6.8"/><circle cx="552.6" cy="1148.3" r="6.8"/><circle cx="560.5" cy="1144" r="6.8"/><circle cx="568.4" cy="1139.5" r="6.8"/><circle cx="576.4" cy="1134.7" r="6.8"/><circle cx="584.3" cy="1129.4" r="6.8"/><circle cx="592.2" cy="1123.7" r="6.8"/><circle cx="600.2" cy="1117.6" r="6.8"/><circle cx="608.1" cy="1111" r="6.8"/><circle cx="616" cy="1104" r="6.8"/><circle cx="624" cy="1096.4" r="6.8"/><circle cx="631.9" cy="1088.5" r="6.8"/><circle cx="639.8" cy="1076.9" r="6.8"/><circle cx="647.7" cy="1064.2" r="6.8"/><circle cx="655.7" cy="1056.7" r="6.8"/><circle cx="663.6" cy="1049.4" r="6.8"/><circle cx="671.5" cy="1041.9" r="6.8"/><circle cx="679.5" cy="1034.3" r="6.8"/><circle cx="687.4" cy="1026.8" r="6.8"/><circle cx="695.3" cy="1019" r="6.8"/><circle cx="703.2" cy="1010.6" r="6.8"/><circle cx="711.2" cy="1001.7" r="6.8"/><circle cx="719.1" cy="992.3" r="6.8"/><circle cx="727" cy="982.5" r="6.8"/><circle cx="735" cy="972.2" r="6.8"/><circle cx="742.9" cy="961.6" r="6.8"/><circle cx="750.8" cy="950.5" r="6.8"/><circle cx="758.8" cy="939" r="6.8"/><circle cx="766.7" cy="927.2" r="6.8"/><circle cx="774.6" cy="915" r="6.8"/><circle cx="782.6" cy="902.4" r="6.8"/><circle cx="790.5" cy="889.3" r="6.8"/><circle cx="798.4" cy="875.7" r="6.8"/><circle cx="806.3" cy="861.5" r="6.8"/></g>
<path d="M187.8 1226.6 L203.2 1225.4 L218.7 1224.2 L234.1 1222.8 L249.6 1221.3 L265 1219.6 L280.4 1217.8 L295.9 1215.9 L311.3 1213.8 L326.8 1211.5 L342.2 1209 L357.6 1206.3 L373.1 1203.3 L388.5 1200.1 L404 1196.6 L419.4 1192.8 L434.8 1188.6 L450.3 1184.1 L465.7 1179.2 L481.2 1173.9 L496.6 1168.1 L512 1161.7 L527.5 1154.9 L542.9 1147.4 L558.4 1139.2 L573.8 1130.4 L589.2 1120.7 L604.7 1110.2 L620.1 1098.8 L635.6 1086.4 L651 1072.9 L666.4 1058.2 L681.9 1042.2 L697.3 1024.8 L712.8 1005.9 L728.2 985.3 L743.6 962.9 L759.1 938.5 L774.5 912 L789.9 883.1 L805.4 851.7" fill="none" stroke="#22657E" stroke-width="4.5" stroke-linecap="round" stroke-linejoin="round"/>
<g fill="#1F6E8C" fill-opacity="0.52" stroke="#1F6E8C" stroke-opacity="0.25" stroke-width="1.0"><circle cx="187.8" cy="1226.6" r="6.8"/><circle cx="195.7" cy="1226" r="6.8"/><circle cx="203.7" cy="1225.3" r="6.8"/><circle cx="211.6" cy="1224.7" r="6.8"/><circle cx="219.5" cy="1224.1" r="6.8"/><circle cx="227.5" cy="1223.5" r="6.8"/><circle cx="235.4" cy="1222.9" r="6.8"/><circle cx="243.3" cy="1222.3" r="6.8"/><circle cx="251.2" cy="1221.7" r="6.8"/><circle cx="259.2" cy="1221.1" r="6.8"/><circle cx="267.1" cy="1220.5" r="6.8"/><circle cx="275" cy="1220" r="6.8"/><circle cx="283" cy="1219.4" r="6.8"/><circle cx="290.9" cy="1218.9" r="6.8"/><circle cx="298.8" cy="1218.4" r="6.8"/><circle cx="306.8" cy="1217.8" r="6.8"/><circle cx="314.7" cy="1217.3" r="6.8"/><circle cx="322.6" cy="1216.7" r="6.8"/><circle cx="330.5" cy="1216.2" r="6.8"/><circle cx="338.5" cy="1215.6" r="6.8"/><circle cx="346.4" cy="1214.9" r="6.8"/><circle cx="354.3" cy="1214.3" r="6.8"/><circle cx="362.3" cy="1213.6" r="6.8"/><circle cx="370.2" cy="1212.9" r="6.8"/><circle cx="378.1" cy="1212.1" r="6.8"/><circle cx="386.1" cy="1211.3" r="6.8"/><circle cx="394" cy="1210.6" r="6.8"/><circle cx="401.9" cy="1210" r="6.8"/><circle cx="409.8" cy="1209.3" r="6.8"/><circle cx="417.8" cy="1208.7" r="6.8"/><circle cx="425.7" cy="1207.9" r="6.8"/><circle cx="433.6" cy="1207.1" r="6.8"/><circle cx="441.6" cy="1206.2" r="6.8"/><circle cx="449.5" cy="1205.1" r="6.8"/><circle cx="457.4" cy="1203.8" r="6.8"/><circle cx="465.4" cy="1202.4" r="6.8"/><circle cx="473.3" cy="1200.6" r="6.8"/><circle cx="481.2" cy="1198.7" r="6.8"/><circle cx="489.1" cy="1196.8" r="6.8"/><circle cx="497.1" cy="1194.7" r="6.8"/><circle cx="505" cy="1192.5" r="6.8"/><circle cx="512.9" cy="1190.3" r="6.8"/><circle cx="520.9" cy="1187.9" r="6.8"/><circle cx="528.8" cy="1185.4" r="6.8"/><circle cx="536.7" cy="1182.9" r="6.8"/><circle cx="544.7" cy="1180.2" r="6.8"/><circle cx="552.6" cy="1177.4" r="6.8"/><circle cx="560.5" cy="1174.4" r="6.8"/><circle cx="568.4" cy="1171.4" r="6.8"/><circle cx="576.4" cy="1168.1" r="6.8"/><circle cx="584.3" cy="1164.5" r="6.8"/><circle cx="592.2" cy="1160.6" r="6.8"/><circle cx="600.2" cy="1156.4" r="6.8"/><circle cx="608.1" cy="1151.8" r="6.8"/><circle cx="616" cy="1146.9" r="6.8"/><circle cx="624" cy="1141.7" r="6.8"/><circle cx="631.9" cy="1136.1" r="6.8"/><circle cx="639.8" cy="1130.2" r="6.8"/><circle cx="647.7" cy="1123.9" r="6.8"/><circle cx="655.7" cy="1116.4" r="6.8"/><circle cx="663.6" cy="1105.6" r="6.8"/><circle cx="671.5" cy="1098.6" r="6.8"/><circle cx="679.5" cy="1093.2" r="6.8"/><circle cx="687.4" cy="1087.6" r="6.8"/><circle cx="695.3" cy="1081.9" r="6.8"/><circle cx="703.2" cy="1076" r="6.8"/><circle cx="711.2" cy="1069.9" r="6.8"/><circle cx="719.1" cy="1063.4" r="6.8"/><circle cx="727" cy="1056.4" r="6.8"/><circle cx="735" cy="1049.1" r="6.8"/><circle cx="742.9" cy="1041.4" r="6.8"/><circle cx="750.8" cy="1033.3" r="6.8"/><circle cx="758.8" cy="1025" r="6.8"/><circle cx="766.7" cy="1016.3" r="6.8"/><circle cx="774.6" cy="1007.5" r="6.8"/><circle cx="782.6" cy="998.7" r="6.8"/><circle cx="790.5" cy="989.7" r="6.8"/><circle cx="798.4" cy="980.5" r="6.8"/><circle cx="806.3" cy="970.8" r="6.8"/><circle cx="814.3" cy="960.6" r="6.8"/><circle cx="822.2" cy="950.2" r="6.8"/><circle cx="830.1" cy="939.3" r="6.8"/><circle cx="838.1" cy="928" r="6.8"/><circle cx="846" cy="916.3" r="6.8"/><circle cx="853.9" cy="904" r="6.8"/></g>
<path d="M187.8 1226.6 L204.5 1225.7 L221.1 1224.8 L237.8 1223.8 L254.4 1222.6 L271.1 1221.4 L287.7 1220.1 L304.4 1218.6 L321 1216.9 L337.7 1215.2 L354.3 1213.2 L371 1211.1 L387.6 1208.7 L404.3 1206.2 L420.9 1203.4 L437.6 1200.3 L454.2 1196.9 L470.9 1193.3 L487.6 1189.2 L504.2 1184.8 L520.9 1180 L537.5 1174.7 L554.2 1168.9 L570.8 1162.5 L587.5 1155.5 L604.1 1147.9 L620.8 1139.5 L637.4 1130.4 L654.1 1120.4 L670.7 1109.4 L687.4 1097.4 L704 1084.2 L720.7 1069.8 L737.3 1054 L754 1036.7 L770.7 1017.7 L787.3 996.9 L804 974.2 L820.6 949.3 L837.3 922 L853.9 892.1" fill="none" stroke="#22657E" stroke-width="4.5" stroke-linecap="round" stroke-linejoin="round"/>
<g fill="#30358E" fill-opacity="0.52" stroke="#30358E" stroke-opacity="0.25" stroke-width="1.0"><circle cx="187.8" cy="1226.6" r="6.8"/><circle cx="195.7" cy="1225.8" r="6.8"/><circle cx="203.7" cy="1225.1" r="6.8"/><circle cx="211.6" cy="1224.4" r="6.8"/><circle cx="219.5" cy="1223.6" r="6.8"/><circle cx="227.5" cy="1222.9" r="6.8"/><circle cx="235.4" cy="1222.2" r="6.8"/><circle cx="243.3" cy="1221.5" r="6.8"/><circle cx="251.2" cy="1220.7" r="6.8"/><circle cx="259.2" cy="1220" r="6.8"/><circle cx="267.1" cy="1219.3" r="6.8"/><circle cx="275" cy="1218.6" r="6.8"/><circle cx="283" cy="1217.9" r="6.8"/><circle cx="290.9" cy="1217.2" r="6.8"/><circle cx="298.8" cy="1216.5" r="6.8"/><circle cx="306.8" cy="1215.9" r="6.8"/><circle cx="314.7" cy="1215.1" r="6.8"/><circle cx="322.6" cy="1214.4" r="6.8"/><circle cx="330.5" cy="1213.7" r="6.8"/><circle cx="338.5" cy="1212.9" r="6.8"/><circle cx="346.4" cy="1212" r="6.8"/><circle cx="354.3" cy="1211.2" r="6.8"/><circle cx="362.3" cy="1210.2" r="6.8"/><circle cx="370.2" cy="1209.3" r="6.8"/><circle cx="378.1" cy="1208.2" r="6.8"/><circle cx="386.1" cy="1207.1" r="6.8"/><circle cx="394" cy="1206.1" r="6.8"/><circle cx="401.9" cy="1205" r="6.8"/><circle cx="409.8" cy="1203.8" r="6.8"/><circle cx="417.8" cy="1202.7" r="6.8"/><circle cx="425.7" cy="1201.4" r="6.8"/><circle cx="433.6" cy="1200.1" r="6.8"/><circle cx="441.6" cy="1198.6" r="6.8"/><circle cx="449.5" cy="1197" r="6.8"/><circle cx="457.4" cy="1195.3" r="6.8"/><circle cx="465.4" cy="1193.4" r="6.8"/><circle cx="473.3" cy="1191.3" r="6.8"/><circle cx="481.2" cy="1189" r="6.8"/><circle cx="489.1" cy="1186.6" r="6.8"/><circle cx="497.1" cy="1184.2" r="6.8"/><circle cx="505" cy="1181.6" r="6.8"/><circle cx="512.9" cy="1178.9" r="6.8"/><circle cx="520.9" cy="1176.2" r="6.8"/><circle cx="528.8" cy="1173.2" r="6.8"/><circle cx="536.7" cy="1170.2" r="6.8"/><circle cx="544.7" cy="1167.1" r="6.8"/><circle cx="552.6" cy="1163.8" r="6.8"/><circle cx="560.5" cy="1160.3" r="6.8"/><circle cx="568.4" cy="1156.8" r="6.8"/><circle cx="576.4" cy="1153" r="6.8"/><circle cx="584.3" cy="1148.9" r="6.8"/><circle cx="592.2" cy="1144.5" r="6.8"/><circle cx="600.2" cy="1139.8" r="6.8"/><circle cx="608.1" cy="1134.7" r="6.8"/><circle cx="616" cy="1129.3" r="6.8"/><circle cx="624" cy="1123.6" r="6.8"/><circle cx="631.9" cy="1117.5" r="6.8"/><circle cx="639.8" cy="1111" r="6.8"/><circle cx="647.7" cy="1104.1" r="6.8"/><circle cx="655.7" cy="1092.5" r="6.8"/><circle cx="663.6" cy="1082" r="6.8"/><circle cx="671.5" cy="1076" r="6.8"/><circle cx="679.5" cy="1069.9" r="6.8"/><circle cx="687.4" cy="1063.6" r="6.8"/><circle cx="695.3" cy="1057.5" r="6.8"/><circle cx="703.2" cy="1051.6" r="6.8"/><circle cx="711.2" cy="1045" r="6.8"/><circle cx="719.1" cy="1037.5" r="6.8"/><circle cx="727" cy="1029.6" r="6.8"/><circle cx="735" cy="1021.2" r="6.8"/><circle cx="742.9" cy="1012.4" r="6.8"/><circle cx="750.8" cy="1003.4" r="6.8"/><circle cx="758.8" cy="994" r="6.8"/><circle cx="766.7" cy="984.4" r="6.8"/><circle cx="774.6" cy="974.8" r="6.8"/><circle cx="782.6" cy="965.2" r="6.8"/><circle cx="790.5" cy="955.4" r="6.8"/><circle cx="798.4" cy="945" r="6.8"/><circle cx="806.3" cy="934.2" r="6.8"/><circle cx="814.3" cy="923" r="6.8"/><circle cx="822.2" cy="911.3" r="6.8"/><circle cx="830.1" cy="899.2" r="6.8"/><circle cx="838.1" cy="886.7" r="6.8"/><circle cx="846" cy="873.6" r="6.8"/></g>
<path d="M187.8 1226.6 L204.3 1225.5 L220.7 1224.4 L237.2 1223.1 L253.6 1221.7 L270.1 1220.2 L286.5 1218.5 L303 1216.7 L319.4 1214.8 L335.9 1212.6 L352.3 1210.3 L368.8 1207.8 L385.2 1205 L401.7 1202 L418.1 1198.7 L434.6 1195.1 L451 1191.2 L467.5 1186.9 L483.9 1182.2 L500.4 1177.2 L516.8 1171.6 L533.3 1165.6 L549.7 1159 L566.2 1151.9 L582.6 1144 L599.1 1135.5 L615.5 1126.2 L632 1116.1 L648.4 1105 L664.9 1093 L681.3 1079.8 L697.8 1065.5 L714.2 1049.9 L730.7 1032.9 L747.1 1014.3 L763.6 994.1 L780 972 L796.5 948 L812.9 921.8 L829.4 893.2 L845.8 862" fill="none" stroke="#312F79" stroke-width="4.5" stroke-linecap="round" stroke-linejoin="round"/>
<g fill="#30358E" fill-opacity="0.52" stroke="#30358E" stroke-opacity="0.25" stroke-width="1.0"><circle cx="187.8" cy="1226.6" r="6.8"/><circle cx="195.7" cy="1225.9" r="6.8"/><circle cx="203.7" cy="1225.2" r="6.8"/><circle cx="211.6" cy="1224.5" r="6.8"/><circle cx="219.5" cy="1223.8" r="6.8"/><circle cx="227.5" cy="1223.1" r="6.8"/><circle cx="235.4" cy="1222.5" r="6.8"/><circle cx="243.3" cy="1221.8" r="6.8"/><circle cx="251.2" cy="1221.1" r="6.8"/><circle cx="259.2" cy="1220.5" r="6.8"/><circle cx="267.1" cy="1219.8" r="6.8"/><circle cx="275" cy="1219.2" r="6.8"/><circle cx="283" cy="1218.6" r="6.8"/><circle cx="290.9" cy="1217.9" r="6.8"/><circle cx="298.8" cy="1217.3" r="6.8"/><circle cx="306.8" cy="1216.7" r="6.8"/><circle cx="314.7" cy="1216" r="6.8"/><circle cx="322.6" cy="1215.4" r="6.8"/><circle cx="330.5" cy="1214.7" r="6.8"/><circle cx="338.5" cy="1214" r="6.8"/><circle cx="346.4" cy="1213.2" r="6.8"/><circle cx="354.3" cy="1212.5" r="6.8"/><circle cx="362.3" cy="1211.6" r="6.8"/><circle cx="370.2" cy="1210.8" r="6.8"/><circle cx="378.1" cy="1209.9" r="6.8"/><circle cx="386.1" cy="1209" r="6.8"/><circle cx="394" cy="1208.1" r="6.8"/><circle cx="401.9" cy="1207.3" r="6.8"/><circle cx="409.8" cy="1206.5" r="6.8"/><circle cx="417.8" cy="1205.7" r="6.8"/><circle cx="425.7" cy="1204.8" r="6.8"/><circle cx="433.6" cy="1203.8" r="6.8"/><circle cx="441.6" cy="1202.7" r="6.8"/><circle cx="449.5" cy="1201.4" r="6.8"/><circle cx="457.4" cy="1199.9" r="6.8"/><circle cx="465.4" cy="1198.3" r="6.8"/><circle cx="473.3" cy="1196.3" r="6.8"/><circle cx="481.2" cy="1194.2" r="6.8"/><circle cx="489.1" cy="1192" r="6.8"/><circle cx="497.1" cy="1189.7" r="6.8"/><circle cx="505" cy="1187.3" r="6.8"/><circle cx="512.9" cy="1184.8" r="6.8"/><circle cx="520.9" cy="1182.1" r="6.8"/><circle cx="528.8" cy="1179.4" r="6.8"/><circle cx="536.7" cy="1176.6" r="6.8"/><circle cx="544.7" cy="1173.6" r="6.8"/><circle cx="552.6" cy="1170.5" r="6.8"/><circle cx="560.5" cy="1167.2" r="6.8"/><circle cx="568.4" cy="1163.9" r="6.8"/><circle cx="576.4" cy="1160.3" r="6.8"/><circle cx="584.3" cy="1156.3" r="6.8"/><circle cx="592.2" cy="1152.1" r="6.8"/><circle cx="600.2" cy="1147.5" r="6.8"/><circle cx="608.1" cy="1142.6" r="6.8"/><circle cx="616" cy="1137.3" r="6.8"/><circle cx="624" cy="1131.7" r="6.8"/><circle cx="631.9" cy="1125.7" r="6.8"/><circle cx="639.8" cy="1119.3" r="6.8"/><circle cx="647.7" cy="1112.6" r="6.8"/><circle cx="655.7" cy="1104.3" r="6.8"/><circle cx="663.6" cy="1091.8" r="6.8"/><circle cx="671.5" cy="1084.1" r="6.8"/><circle cx="679.5" cy="1078.2" r="6.8"/><circle cx="687.4" cy="1072.1" r="6.8"/><circle cx="695.3" cy="1066" r="6.8"/><circle cx="703.2" cy="1060.2" r="6.8"/><circle cx="711.2" cy="1054.2" r="6.8"/><circle cx="719.1" cy="1047.3" r="6.8"/><circle cx="727" cy="1039.7" r="6.8"/><circle cx="735" cy="1031.7" r="6.8"/><circle cx="742.9" cy="1023.3" r="6.8"/><circle cx="750.8" cy="1014.5" r="6.8"/><circle cx="758.8" cy="1005.4" r="6.8"/><circle cx="766.7" cy="996" r="6.8"/><circle cx="774.6" cy="986.5" r="6.8"/><circle cx="782.6" cy="976.9" r="6.8"/><circle cx="790.5" cy="967.1" r="6.8"/><circle cx="798.4" cy="957" r="6.8"/><circle cx="806.3" cy="946.4" r="6.8"/><circle cx="814.3" cy="935.4" r="6.8"/><circle cx="822.2" cy="924" r="6.8"/><circle cx="830.1" cy="912.2" r="6.8"/><circle cx="838.1" cy="899.9" r="6.8"/><circle cx="846" cy="887.2" r="6.8"/><circle cx="853.9" cy="873.9" r="6.8"/></g>
<path d="M187.8 1226.6 L204.5 1225.6 L221.1 1224.5 L237.8 1223.4 L254.4 1222.1 L271.1 1220.7 L287.7 1219.1 L304.4 1217.4 L321 1215.6 L337.7 1213.6 L354.3 1211.4 L371 1209 L387.6 1206.3 L404.3 1203.5 L420.9 1200.3 L437.6 1196.9 L454.2 1193.1 L470.9 1189 L487.6 1184.5 L504.2 1179.6 L520.9 1174.2 L537.5 1168.3 L554.2 1161.9 L570.8 1154.9 L587.5 1147.2 L604.1 1138.8 L620.8 1129.6 L637.4 1119.6 L654.1 1108.6 L670.7 1096.6 L687.4 1083.5 L704 1069.1 L720.7 1053.4 L737.3 1036.3 L754 1017.5 L770.7 997 L787.3 974.6 L804 950.1 L820.6 923.3 L837.3 894 L853.9 862" fill="none" stroke="#312F79" stroke-width="4.5" stroke-linecap="round" stroke-linejoin="round"/>
<g fill="#30358E" fill-opacity="0.52" stroke="#30358E" stroke-opacity="0.25" stroke-width="1.0"><circle cx="187.8" cy="1226.6" r="6.8"/><circle cx="195.7" cy="1226" r="6.8"/><circle cx="203.7" cy="1225.3" r="6.8"/><circle cx="211.6" cy="1224.7" r="6.8"/><circle cx="219.5" cy="1224.1" r="6.8"/><circle cx="227.5" cy="1223.5" r="6.8"/><circle cx="235.4" cy="1223" r="6.8"/><circle cx="243.3" cy="1222.4" r="6.8"/><circle cx="251.2" cy="1221.8" r="6.8"/><circle cx="259.2" cy="1221.3" r="6.8"/><circle cx="267.1" cy="1220.7" r="6.8"/><circle cx="275" cy="1220.2" r="6.8"/><circle cx="283" cy="1219.7" r="6.8"/><circle cx="290.9" cy="1219.2" r="6.8"/><circle cx="298.8" cy="1218.7" r="6.8"/><circle cx="306.8" cy="1218.2" r="6.8"/><circle cx="314.7" cy="1217.7" r="6.8"/><circle cx="322.6" cy="1217.1" r="6.8"/><circle cx="330.5" cy="1216.6" r="6.8"/><circle cx="338.5" cy="1216.1" r="6.8"/><circle cx="346.4" cy="1215.5" r="6.8"/><circle cx="354.3" cy="1214.9" r="6.8"/><circle cx="362.3" cy="1214.3" r="6.8"/><circle cx="370.2" cy="1213.6" r="6.8"/><circle cx="378.1" cy="1213" r="6.8"/><circle cx="386.1" cy="1212.3" r="6.8"/><circle cx="394" cy="1211.9" r="6.8"/><circle cx="401.9" cy="1211.5" r="6.8"/><circle cx="409.8" cy="1211.1" r="6.8"/><circle cx="417.8" cy="1210.8" r="6.8"/><circle cx="425.7" cy="1210.4" r="6.8"/><circle cx="433.6" cy="1209.9" r="6.8"/><circle cx="441.6" cy="1209.4" r="6.8"/><circle cx="449.5" cy="1208.6" r="6.8"/><circle cx="457.4" cy="1207.6" r="6.8"/><circle cx="465.4" cy="1206.4" r="6.8"/><circle cx="473.3" cy="1204.9" r="6.8"/><circle cx="481.2" cy="1203.1" r="6.8"/><circle cx="489.1" cy="1201.3" r="6.8"/><circle cx="497.1" cy="1199.4" r="6.8"/><circle cx="505" cy="1197.5" r="6.8"/><circle cx="512.9" cy="1195.4" r="6.8"/><circle cx="520.9" cy="1193.3" r="6.8"/><circle cx="528.8" cy="1191.1" r="6.8"/><circle cx="536.7" cy="1188.7" r="6.8"/><circle cx="544.7" cy="1186.3" r="6.8"/><circle cx="552.6" cy="1183.8" r="6.8"/><circle cx="560.5" cy="1181.2" r="6.8"/><circle cx="568.4" cy="1178.4" r="6.8"/><circle cx="576.4" cy="1175.5" r="6.8"/><circle cx="584.3" cy="1172.2" r="6.8"/><circle cx="592.2" cy="1168.7" r="6.8"/><circle cx="600.2" cy="1164.8" r="6.8"/><circle cx="608.1" cy="1160.6" r="6.8"/><circle cx="616" cy="1156.1" r="6.8"/><circle cx="624" cy="1151.2" r="6.8"/><circle cx="631.9" cy="1146" r="6.8"/><circle cx="639.8" cy="1140.5" r="6.8"/><circle cx="647.7" cy="1134.7" r="6.8"/><circle cx="655.7" cy="1128.5" r="6.8"/><circle cx="663.6" cy="1118.9" r="6.8"/><circle cx="671.5" cy="1108.5" r="6.8"/><circle cx="679.5" cy="1103.4" r="6.8"/><circle cx="687.4" cy="1098.6" r="6.8"/><circle cx="695.3" cy="1093.6" r="6.8"/><circle cx="703.2" cy="1088.8" r="6.8"/><circle cx="711.2" cy="1084.3" r="6.8"/><circle cx="719.1" cy="1079.4" r="6.8"/><circle cx="727" cy="1073.5" r="6.8"/><circle cx="735" cy="1067.2" r="6.8"/><circle cx="742.9" cy="1060.6" r="6.8"/><circle cx="750.8" cy="1053.7" r="6.8"/><circle cx="758.8" cy="1046.4" r="6.8"/><circle cx="766.7" cy="1039" r="6.8"/><circle cx="774.6" cy="1031.4" r="6.8"/><circle cx="782.6" cy="1023.9" r="6.8"/><circle cx="790.5" cy="1016.5" r="6.8"/><circle cx="798.4" cy="1009.1" r="6.8"/><circle cx="806.3" cy="1001.2" r="6.8"/><circle cx="814.3" cy="992.9" r="6.8"/><circle cx="822.2" cy="984.3" r="6.8"/><circle cx="830.1" cy="975.4" r="6.8"/><circle cx="838.1" cy="966.2" r="6.8"/><circle cx="846" cy="956.5" r="6.8"/><circle cx="853.9" cy="946.5" r="6.8"/></g>
<path d="M187.8 1226.6 L204.5 1225.8 L221.1 1224.9 L237.8 1223.9 L254.4 1222.8 L271.1 1221.6 L287.7 1220.3 L304.4 1218.9 L321 1217.4 L337.7 1215.7 L354.3 1213.9 L371 1211.9 L387.6 1209.7 L404.3 1207.3 L420.9 1204.7 L437.6 1201.9 L454.2 1198.8 L470.9 1195.4 L487.6 1191.8 L504.2 1187.8 L520.9 1183.4 L537.5 1178.6 L554.2 1173.4 L570.8 1167.7 L587.5 1161.4 L604.1 1154.7 L620.8 1147.2 L637.4 1139.2 L654.1 1130.3 L670.7 1120.7 L687.4 1110.2 L704 1098.7 L720.7 1086.2 L737.3 1072.5 L754 1057.6 L770.7 1041.3 L787.3 1023.5 L804 1004.1 L820.6 982.9 L837.3 959.8 L853.9 934.6" fill="none" stroke="#312F79" stroke-width="4.5" stroke-linecap="round" stroke-linejoin="round"/>
<path d="M187.8 1226.6 L195.3 1226.6 L202.8 1226.6 L210.4 1226.6 L217.9 1226.6 L225.4 1226.6 L232.9 1226.6 L240.4 1226.6 L247.9 1226.6 L255.5 1226.6 L263 1226.6 L270.5 1226.6 L278 1226.6 L285.5 1226.6 L293 1226.6 L300.6 1226.5 L308.1 1226.5 L315.6 1226.5 L323.1 1226.5 L330.6 1226.4 L338.2 1226.3 L345.7 1226.2 L353.2 1226 L360.7 1225.8 L368.2 1225.4 L375.7 1225 L383.3 1224.3 L390.8 1223.3 L398.3 1222 L405.8 1220 L413.3 1217.3 L420.8 1213.5 L428.4 1208 L435.9 1200.3 L443.4 1189.3 L450.9 1173.8 L458.4 1151.9 L466 1120.9 L473.5 1076.9 L481 1014.7 L488.5 926.7" fill="none" stroke="#209D75" stroke-width="4.5" stroke-linecap="round" stroke-linejoin="round"/>
<g fill="#1FA075" fill-opacity="0.52" stroke="#1FA075" stroke-opacity="0.25" stroke-width="1.0"><circle cx="187.8" cy="1226.6" r="6.8"/><circle cx="195.7" cy="1219.6" r="6.8"/><circle cx="203.7" cy="1213" r="6.8"/><circle cx="211.6" cy="1206.8" r="6.8"/><circle cx="219.5" cy="1201" r="6.8"/><circle cx="227.5" cy="1195.6" r="6.8"/><circle cx="235.4" cy="1190.4" r="6.8"/><circle cx="243.3" cy="1185.6" r="6.8"/><circle cx="251.2" cy="1181.1" r="6.8"/><circle cx="259.2" cy="1176.9" r="6.8"/><circle cx="267.1" cy="1173.2" r="6.8"/><circle cx="275" cy="1169.9" r="6.8"/><circle cx="283" cy="1166.7" r="6.8"/><circle cx="290.9" cy="1163.6" r="6.8"/><circle cx="298.8" cy="1160.4" r="6.8"/><circle cx="306.8" cy="1157" r="6.8"/><circle cx="314.7" cy="1153.1" r="6.8"/><circle cx="322.6" cy="1148.9" r="6.8"/><circle cx="330.5" cy="1144.4" r="6.8"/><circle cx="338.5" cy="1139.9" r="6.8"/><circle cx="346.4" cy="1135.6" r="6.8"/><circle cx="354.3" cy="1131" r="6.8"/><circle cx="362.3" cy="1125.4" r="6.8"/><circle cx="370.2" cy="1117.5" r="6.8"/><circle cx="378.1" cy="1106.4" r="6.8"/><circle cx="386.1" cy="1094.5" r="6.8"/><circle cx="394" cy="1076.2" r="6.8"/><circle cx="401.9" cy="1051.6" r="6.8"/><circle cx="409.8" cy="1016.8" r="6.8"/><circle cx="417.8" cy="966.2" r="6.8"/><circle cx="425.7" cy="900.5" r="6.8"/></g>
<path d="M187.8 1226.6 L193.7 1225.8 L199.7 1224.9 L205.6 1223.9 L211.5 1222.8 L217.5 1221.7 L223.4 1220.4 L229.3 1219 L235.3 1217.5 L241.2 1215.9 L247.2 1214.1 L253.1 1212.2 L259 1210.1 L265 1207.8 L270.9 1205.3 L276.8 1202.6 L282.8 1199.7 L288.7 1196.4 L294.6 1192.9 L300.6 1189.1 L306.5 1185 L312.4 1180.5 L318.4 1175.6 L324.3 1170.2 L330.3 1164.4 L336.2 1158.1 L342.1 1151.2 L348.1 1143.7 L354 1135.5 L359.9 1126.6 L365.9 1116.9 L371.8 1106.4 L377.7 1094.9 L383.7 1082.5 L389.6 1068.9 L395.5 1054.1 L401.5 1038 L407.4 1020.4 L413.4 1001.4 L419.3 980.6 L425.2 958" fill="none" stroke="#209D75" stroke-width="4.5" stroke-linecap="round" stroke-linejoin="round"/>
<g fill="#1FA075" fill-opacity="0.52" stroke="#1FA075" stroke-opacity="0.25" stroke-width="1.0"><circle cx="187.8" cy="1226.6" r="6.8"/><circle cx="195.7" cy="1215.8" r="6.8"/><circle cx="203.7" cy="1206.1" r="6.8"/><circle cx="211.6" cy="1198.5" r="6.8"/><circle cx="219.5" cy="1191.8" r="6.8"/><circle cx="227.5" cy="1185.8" r="6.8"/><circle cx="235.4" cy="1180.2" r="6.8"/><circle cx="243.3" cy="1174.8" r="6.8"/><circle cx="251.2" cy="1169.4" r="6.8"/><circle cx="259.2" cy="1163.6" r="6.8"/><circle cx="267.1" cy="1157.7" r="6.8"/><circle cx="275" cy="1152" r="6.8"/><circle cx="283" cy="1146.2" r="6.8"/><circle cx="290.9" cy="1140.4" r="6.8"/><circle cx="298.8" cy="1134.5" r="6.8"/><circle cx="306.8" cy="1128.4" r="6.8"/><circle cx="314.7" cy="1122.2" r="6.8"/><circle cx="322.6" cy="1116.3" r="6.8"/><circle cx="330.5" cy="1110.3" r="6.8"/><circle cx="338.5" cy="1104" r="6.8"/><circle cx="346.4" cy="1096.8" r="6.8"/><circle cx="354.3" cy="1088.5" r="6.8"/><circle cx="362.3" cy="1077" r="6.8"/><circle cx="370.2" cy="1066.7" r="6.8"/><circle cx="378.1" cy="1050.8" r="6.8"/><circle cx="386.1" cy="1032.6" r="6.8"/><circle cx="394" cy="1006.3" r="6.8"/><circle cx="401.9" cy="972.3" r="6.8"/><circle cx="409.8" cy="926.4" r="6.8"/><circle cx="417.8" cy="865.2" r="6.8"/></g>
<path d="M187.8 1226.6 L193.5 1224.4 L199.3 1222.1 L205 1219.6 L210.7 1217.1 L216.5 1214.3 L222.2 1211.5 L227.9 1208.4 L233.7 1205.2 L239.4 1201.8 L245.1 1198.3 L250.9 1194.5 L256.6 1190.5 L262.3 1186.3 L268.1 1181.9 L273.8 1177.2 L279.5 1172.2 L285.3 1167 L291 1161.5 L296.7 1155.7 L302.5 1149.5 L308.2 1143 L313.9 1136.2 L319.7 1128.9 L325.4 1121.3 L331.1 1113.2 L336.9 1104.7 L342.6 1095.8 L348.3 1086.3 L354.1 1076.3 L359.8 1065.7 L365.5 1054.5 L371.3 1042.7 L377 1030.3 L382.7 1017.2 L388.5 1003.3 L394.2 988.7 L399.9 973.2 L405.7 956.9 L411.4 939.7 L417.1 921.5" fill="none" stroke="#209D75" stroke-width="4.5" stroke-linecap="round" stroke-linejoin="round"/>
<g font-size="36" fill="#000">
<text x="159.2" y="1240.2" text-anchor="end">0</text>
<text x="159.2" y="1121.2" text-anchor="end">30</text>
<text x="159.2" y="1002.1" text-anchor="end">60</text>
<text x="159.2" y="883.1" text-anchor="end">90</text>
<text x="159.2" y="764.1" text-anchor="end">120</text>
<text x="187.8" y="1287.3" text-anchor="middle">0</text>
<text x="425.7" y="1287.3" text-anchor="middle">5</text>
<text x="663.6" y="1287.3" text-anchor="middle">10</text>
<text x="901.5" y="1287.3" text-anchor="middle">15</text>
</g>
<text x="544.6" y="1344.2" font-size="38.8" text-anchor="middle">Time (h)</text>
<text transform="translate(67.2 988.5) rotate(-90)" font-size="38" text-anchor="middle">[Fe(II)] (µM)</text>
<text x="50" y="768.5" font-size="34" font-weight="bold">ii.</text>
<text y="790.1" font-size="32" font-weight="bold"><tspan x="207">pNOR-<tspan font-style="italic">mtrC</tspan>:</tspan>
<tspan x="400" fill="#209D75">–/–</tspan>
<tspan x="471" fill="#22657E">+/–</tspan>
<tspan x="540" fill="#312F79">–/+</tspan>
<tspan x="611" fill="#37004A">+/+</tspan>
</text>
</g>
<g>
<g stroke="#000" stroke-width="4.6" fill="none" stroke-linecap="butt">
<path d="M172.5 1426.5 H906.8 V1923"/>
<path d="M193 1426.5 V1923"/>
<path d="M172.5 1902.5 H906.8"/>
<path d="M172.5 1783.5 H193"/>
<path d="M172.5 1664.5 H193"/>
<path d="M172.5 1545.5 H193"/>
<path d="M181.2 1843 H193"/>
<path d="M181.2 1724 H193"/>
<path d="M181.2 1605 H193"/>
<path d="M181.2 1486 H193"/>
<path d="M430.9 1902.5 V1923"/>
<path d="M668.9 1902.5 V1923"/>
<path d="M312 1902.5 V1914.3"/>
<path d="M549.9 1902.5 V1914.3"/>
<path d="M787.8 1902.5 V1914.3"/>
</g>
<g fill="#3A004E" fill-opacity="0.52" stroke="#3A004E" stroke-opacity="0.25" stroke-width="1.0"><circle cx="193" cy="1902.5" r="6.8"/><circle cx="200.9" cy="1898.6" r="6.8"/><circle cx="208.9" cy="1895.1" r="6.8"/><circle cx="216.8" cy="1892" r="6.8"/><circle cx="224.7" cy="1889.2" r="6.8"/><circle cx="232.7" cy="1886.5" r="6.8"/><circle cx="240.6" cy="1884" r="6.8"/><circle cx="248.5" cy="1881.6" r="6.8"/><circle cx="256.4" cy="1879.2" r="6.8"/><circle cx="264.4" cy="1876.8" r="6.8"/><circle cx="272.3" cy="1874.5" r="6.8"/><circle cx="280.2" cy="1872.1" r="6.8"/><circle cx="288.2" cy="1869.6" r="6.8"/><circle cx="296.1" cy="1867.1" r="6.8"/><circle cx="304" cy="1864.4" r="6.8"/><circle cx="312" cy="1861.5" r="6.8"/><circle cx="319.9" cy="1858.4" r="6.8"/><circle cx="327.8" cy="1855.3" r="6.8"/><circle cx="335.8" cy="1851.6" r="6.8"/><circle cx="343.7" cy="1847" r="6.8"/><circle cx="351.6" cy="1839.4" r="6.8"/><circle cx="359.6" cy="1830.3" r="6.8"/><circle cx="367.5" cy="1818.4" r="6.8"/><circle cx="375.4" cy="1802.9" r="6.8"/><circle cx="383.3" cy="1783.1" r="6.8"/><circle cx="391.3" cy="1759.8" r="6.8"/><circle cx="399.2" cy="1729.5" r="6.8"/><circle cx="407.1" cy="1691.9" r="6.8"/><circle cx="415.1" cy="1643.6" r="6.8"/><circle cx="423" cy="1587.4" r="6.8"/><circle cx="430.9" cy="1540.3" r="6.8"/></g>
<path d="M193 1902.5 L198.9 1902.3 L204.8 1902.1 L210.8 1901.9 L216.7 1901.6 L222.6 1901.3 L228.5 1900.9 L234.4 1900.5 L240.4 1900.1 L246.3 1899.5 L252.2 1898.9 L258.1 1898.1 L264 1897.3 L270 1896.3 L275.9 1895.2 L281.8 1893.9 L287.7 1892.4 L293.6 1890.7 L299.6 1888.7 L305.5 1886.4 L311.4 1883.7 L317.3 1880.6 L323.2 1877.1 L329.2 1873 L335.1 1868.3 L341 1862.9 L346.9 1856.6 L352.8 1849.4 L358.8 1841 L364.7 1831.4 L370.6 1820.3 L376.5 1807.4 L382.4 1792.6 L388.4 1775.6 L394.3 1755.9 L400.2 1733.1 L406.1 1706.9 L412 1676.7 L418 1641.8 L423.9 1601.5 L429.8 1555" fill="none" stroke="#37004A" stroke-width="4.5" stroke-linecap="round" stroke-linejoin="round"/>
<g fill="#3A004E" fill-opacity="0.52" stroke="#3A004E" stroke-opacity="0.25" stroke-width="1.0"><circle cx="193" cy="1902.5" r="6.8"/><circle cx="200.9" cy="1899.2" r="6.8"/><circle cx="208.9" cy="1896.2" r="6.8"/><circle cx="216.8" cy="1893.3" r="6.8"/><circle cx="224.7" cy="1890.7" r="6.8"/><circle cx="232.7" cy="1888.1" r="6.8"/><circle cx="240.6" cy="1885.6" r="6.8"/><circle cx="248.5" cy="1883.2" r="6.8"/><circle cx="256.4" cy="1880.8" r="6.8"/><circle cx="264.4" cy="1878.4" r="6.8"/><circle cx="272.3" cy="1876" r="6.8"/><circle cx="280.2" cy="1873.7" r="6.8"/><circle cx="288.2" cy="1871.2" r="6.8"/><circle cx="296.1" cy="1868.7" r="6.8"/><circle cx="304" cy="1866.2" r="6.8"/><circle cx="312" cy="1863.5" r="6.8"/><circle cx="319.9" cy="1860.4" r="6.8"/><circle cx="327.8" cy="1857.3" r="6.8"/><circle cx="335.8" cy="1853.6" r="6.8"/><circle cx="343.7" cy="1849" r="6.8"/><circle cx="351.6" cy="1841.8" r="6.8"/><circle cx="359.6" cy="1833.1" r="6.8"/><circle cx="367.5" cy="1821.2" r="6.8"/><circle cx="375.4" cy="1806.1" r="6.8"/><circle cx="383.3" cy="1786.3" r="6.8"/><circle cx="391.3" cy="1763.7" r="6.8"/><circle cx="399.2" cy="1733.5" r="6.8"/><circle cx="407.1" cy="1696.2" r="6.8"/><circle cx="415.1" cy="1651.5" r="6.8"/><circle cx="423" cy="1598.9" r="6.8"/><circle cx="430.9" cy="1541.5" r="6.8"/></g>
<path d="M193 1902.5 L198.9 1902.3 L204.9 1902.1 L210.8 1901.9 L216.7 1901.6 L222.7 1901.3 L228.6 1901 L234.6 1900.6 L240.5 1900.1 L246.4 1899.6 L252.4 1898.9 L258.3 1898.2 L264.2 1897.4 L270.2 1896.4 L276.1 1895.3 L282 1894 L288 1892.5 L293.9 1890.8 L299.9 1888.9 L305.8 1886.6 L311.7 1884 L317.7 1880.9 L323.6 1877.4 L329.5 1873.4 L335.5 1868.7 L341.4 1863.4 L347.3 1857.2 L353.3 1850 L359.2 1841.7 L365.2 1832.2 L371.1 1821.1 L377 1808.4 L383 1793.7 L388.9 1776.8 L394.8 1757.2 L400.8 1734.6 L406.7 1708.6 L412.6 1678.5 L418.6 1643.8 L424.5 1603.7 L430.5 1557.4" fill="none" stroke="#37004A" stroke-width="4.5" stroke-linecap="round" stroke-linejoin="round"/>
<g fill="#3A004E" fill-opacity="0.52" stroke="#3A004E" stroke-opacity="0.25" stroke-width="1.0"><circle cx="193" cy="1902.5" r="6.8"/><circle cx="200.9" cy="1901" r="6.8"/><circle cx="208.9" cy="1899.6" r="6.8"/><circle cx="216.8" cy="1898.2" r="6.8"/><circle cx="224.7" cy="1896.9" r="6.8"/><circle cx="232.7" cy="1895.7" r="6.8"/><circle cx="240.6" cy="1894.6" r="6.8"/><circle cx="248.5" cy="1893.6" r="6.8"/><circle cx="256.4" cy="1892.6" r="6.8"/><circle cx="264.4" cy="1891.7" r="6.8"/><circle cx="272.3" cy="1890.9" r="6.8"/><circle cx="280.2" cy="1890.1" r="6.8"/><circle cx="288.2" cy="1889.3" r="6.8"/><circle cx="296.1" cy="1888.5" r="6.8"/><circle cx="304" cy="1887.8" r="6.8"/><circle cx="312" cy="1887" r="6.8"/><circle cx="319.9" cy="1886.2" r="6.8"/><circle cx="327.8" cy="1885.5" r="6.8"/><circle cx="335.8" cy="1884.7" r="6.8"/><circle cx="343.7" cy="1883.9" r="6.8"/><circle cx="351.6" cy="1883.1" r="6.8"/><circle cx="359.6" cy="1882.4" r="6.8"/><circle cx="367.5" cy="1881.7" r="6.8"/><circle cx="375.4" cy="1881.1" r="6.8"/><circle cx="383.3" cy="1880.4" r="6.8"/><circle cx="391.3" cy="1879.6" r="6.8"/><circle cx="399.2" cy="1878.8" r="6.8"/><circle cx="407.1" cy="1878" r="6.8"/><circle cx="415.1" cy="1877" r="6.8"/><circle cx="423" cy="1875.9" r="6.8"/><circle cx="430.9" cy="1874.7" r="6.8"/><circle cx="438.9" cy="1873.2" r="6.8"/><circle cx="446.8" cy="1871.2" r="6.8"/><circle cx="454.7" cy="1868.8" r="6.8"/><circle cx="462.7" cy="1865.5" r="6.8"/><circle cx="470.6" cy="1860.8" r="6.8"/><circle cx="478.5" cy="1852.9" r="6.8"/><circle cx="486.5" cy="1836.7" r="6.8"/><circle cx="494.4" cy="1797.3" r="6.8"/><circle cx="502.3" cy="1747.8" r="6.8"/><circle cx="510.2" cy="1673.8" r="6.8"/><circle cx="518.2" cy="1580.4" r="6.8"/></g>
<path d="M193 1902.5 L201.1 1902.5 L209.2 1902.5 L217.3 1902.5 L225.4 1902.5 L233.5 1902.5 L241.6 1902.5 L249.7 1902.5 L257.8 1902.5 L265.9 1902.5 L274 1902.5 L282.1 1902.5 L290.2 1902.5 L298.3 1902.5 L306.4 1902.5 L314.5 1902.5 L322.6 1902.5 L330.7 1902.4 L338.8 1902.4 L346.9 1902.4 L355 1902.3 L363.1 1902.2 L371.2 1902.1 L379.3 1902 L387.4 1901.7 L395.5 1901.4 L403.6 1900.8 L411.7 1900.1 L419.8 1899 L427.9 1897.4 L436 1895.1 L444.2 1891.8 L452.3 1886.9 L460.4 1879.8 L468.5 1869.5 L476.6 1854.5 L484.7 1832.6 L492.8 1800.9 L500.9 1754.7 L509 1687.6 L517.1 1589.9" fill="none" stroke="#37004A" stroke-width="4.5" stroke-linecap="round" stroke-linejoin="round"/>
<g fill="#30358E" fill-opacity="0.52" stroke="#30358E" stroke-opacity="0.25" stroke-width="1.0"><circle cx="193" cy="1902.5" r="6.8"/><circle cx="200.9" cy="1901.6" r="6.8"/><circle cx="208.9" cy="1900.8" r="6.8"/><circle cx="216.8" cy="1899.9" r="6.8"/><circle cx="224.7" cy="1899.1" r="6.8"/><circle cx="232.7" cy="1898.3" r="6.8"/><circle cx="240.6" cy="1897.4" r="6.8"/><circle cx="248.5" cy="1896.6" r="6.8"/><circle cx="256.4" cy="1895.8" r="6.8"/><circle cx="264.4" cy="1895" r="6.8"/><circle cx="272.3" cy="1894.2" r="6.8"/><circle cx="280.2" cy="1893.4" r="6.8"/><circle cx="288.2" cy="1892.6" r="6.8"/><circle cx="296.1" cy="1891.8" r="6.8"/><circle cx="304" cy="1891.1" r="6.8"/><circle cx="312" cy="1890.3" r="6.8"/><circle cx="319.9" cy="1889.5" r="6.8"/><circle cx="327.8" cy="1888.7" r="6.8"/><circle cx="335.8" cy="1887.9" r="6.8"/><circle cx="343.7" cy="1887.1" r="6.8"/><circle cx="351.6" cy="1886.2" r="6.8"/><circle cx="359.6" cy="1885.3" r="6.8"/><circle cx="367.5" cy="1884.3" r="6.8"/><circle cx="375.4" cy="1883.3" r="6.8"/><circle cx="383.3" cy="1882.3" r="6.8"/><circle cx="391.3" cy="1881.2" r="6.8"/><circle cx="399.2" cy="1880.2" r="6.8"/><circle cx="407.1" cy="1879.1" r="6.8"/><circle cx="415.1" cy="1878" r="6.8"/><circle cx="423" cy="1876.9" r="6.8"/><circle cx="430.9" cy="1875.7" r="6.8"/><circle cx="438.9" cy="1874.5" r="6.8"/><circle cx="446.8" cy="1873.1" r="6.8"/><circle cx="454.7" cy="1871.7" r="6.8"/><circle cx="462.7" cy="1870.1" r="6.8"/><circle cx="470.6" cy="1868.4" r="6.8"/><circle cx="478.5" cy="1866.4" r="6.8"/><circle cx="486.5" cy="1864.4" r="6.8"/><circle cx="494.4" cy="1862.3" r="6.8"/><circle cx="502.3" cy="1860.1" r="6.8"/><circle cx="510.2" cy="1857.9" r="6.8"/><circle cx="518.2" cy="1855.5" r="6.8"/><circle cx="526.1" cy="1853.1" r="6.8"/><circle cx="534" cy="1850.6" r="6.8"/><circle cx="542" cy="1848.1" r="6.8"/><circle cx="549.9" cy="1845.4" r="6.8"/><circle cx="557.8" cy="1842.7" r="6.8"/><circle cx="565.8" cy="1839.8" r="6.8"/><circle cx="573.7" cy="1836.9" r="6.8"/><circle cx="581.6" cy="1833.7" r="6.8"/><circle cx="589.6" cy="1830.1" r="6.8"/><circle cx="597.5" cy="1826.3" r="6.8"/><circle cx="605.4" cy="1822.1" r="6.8"/><circle cx="613.3" cy="1817.5" r="6.8"/><circle cx="621.3" cy="1812.8" r="6.8"/><circle cx="629.2" cy="1807.7" r="6.8"/><circle cx="637.1" cy="1802.5" r="6.8"/><circle cx="645.1" cy="1795.7" r="6.8"/><circle cx="653" cy="1788.7" r="6.8"/><circle cx="660.9" cy="1784.5" r="6.8"/><circle cx="668.9" cy="1780.3" r="6.8"/><circle cx="676.8" cy="1775.9" r="6.8"/><circle cx="684.7" cy="1771" r="6.8"/><circle cx="692.7" cy="1765.4" r="6.8"/><circle cx="700.6" cy="1759.8" r="6.8"/><circle cx="708.5" cy="1754.7" r="6.8"/><circle cx="716.5" cy="1749.5" r="6.8"/><circle cx="724.4" cy="1744.2" r="6.8"/><circle cx="732.3" cy="1738.8" r="6.8"/><circle cx="740.2" cy="1733.3" r="6.8"/><circle cx="748.2" cy="1727.6" r="6.8"/><circle cx="756.1" cy="1721.7" r="6.8"/><circle cx="764" cy="1715.9" r="6.8"/><circle cx="772" cy="1710.1" r="6.8"/><circle cx="779.9" cy="1704.2" r="6.8"/><circle cx="787.8" cy="1698.1" r="6.8"/><circle cx="795.8" cy="1691.6" r="6.8"/><circle cx="803.7" cy="1684.6" r="6.8"/><circle cx="811.6" cy="1676.8" r="6.8"/><circle cx="819.6" cy="1668.6" r="6.8"/><circle cx="827.5" cy="1660" r="6.8"/><circle cx="835.4" cy="1651.2" r="6.8"/><circle cx="843.4" cy="1642.1" r="6.8"/><circle cx="851.3" cy="1632.6" r="6.8"/><circle cx="859.2" cy="1622.8" r="6.8"/></g>
<path d="M193 1902.5 L209.7 1901.2 L226.3 1899.8 L243 1898.3 L259.6 1896.6 L276.3 1894.9 L292.9 1893 L309.6 1891.1 L326.2 1888.9 L342.9 1886.6 L359.6 1884.1 L376.2 1881.5 L392.9 1878.7 L409.5 1875.6 L426.2 1872.4 L442.8 1868.9 L459.5 1865.1 L476.1 1861.1 L492.8 1856.8 L509.5 1852.1 L526.1 1847.2 L542.8 1841.9 L559.4 1836.1 L576.1 1830 L592.7 1823.5 L609.4 1816.4 L626 1808.9 L642.7 1800.8 L659.3 1792.1 L676 1782.7 L692.7 1772.7 L709.3 1762 L726 1750.5 L742.6 1738.2 L759.3 1725 L775.9 1710.8 L792.6 1695.6 L809.2 1679.2 L825.9 1661.7 L842.6 1643 L859.2 1622.8" fill="none" stroke="#312F79" stroke-width="4.5" stroke-linecap="round" stroke-linejoin="round"/>
<g fill="#30358E" fill-opacity="0.52" stroke="#30358E" stroke-opacity="0.25" stroke-width="1.0"><circle cx="193" cy="1902.5" r="6.8"/><circle cx="200.9" cy="1901.7" r="6.8"/><circle cx="208.9" cy="1900.8" r="6.8"/><circle cx="216.8" cy="1900" r="6.8"/><circle cx="224.7" cy="1899.2" r="6.8"/><circle cx="232.7" cy="1898.4" r="6.8"/><circle cx="240.6" cy="1897.5" r="6.8"/><circle cx="248.5" cy="1896.7" r="6.8"/><circle cx="256.4" cy="1895.9" r="6.8"/><circle cx="264.4" cy="1895.2" r="6.8"/><circle cx="272.3" cy="1894.4" r="6.8"/><circle cx="280.2" cy="1893.6" r="6.8"/><circle cx="288.2" cy="1892.8" r="6.8"/><circle cx="296.1" cy="1892.1" r="6.8"/><circle cx="304" cy="1891.3" r="6.8"/><circle cx="312" cy="1890.6" r="6.8"/><circle cx="319.9" cy="1889.8" r="6.8"/><circle cx="327.8" cy="1889" r="6.8"/><circle cx="335.8" cy="1888.3" r="6.8"/><circle cx="343.7" cy="1887.4" r="6.8"/><circle cx="351.6" cy="1886.6" r="6.8"/><circle cx="359.6" cy="1885.7" r="6.8"/><circle cx="367.5" cy="1884.8" r="6.8"/><circle cx="375.4" cy="1883.9" r="6.8"/><circle cx="383.3" cy="1882.9" r="6.8"/><circle cx="391.3" cy="1882" r="6.8"/><circle cx="399.2" cy="1881.1" r="6.8"/><circle cx="407.1" cy="1880.2" r="6.8"/><circle cx="415.1" cy="1879.4" r="6.8"/><circle cx="423" cy="1878.6" r="6.8"/><circle cx="430.9" cy="1877.7" r="6.8"/><circle cx="438.9" cy="1876.7" r="6.8"/><circle cx="446.8" cy="1875.6" r="6.8"/><circle cx="454.7" cy="1874.4" r="6.8"/><circle cx="462.7" cy="1873" r="6.8"/><circle cx="470.6" cy="1871.4" r="6.8"/><circle cx="478.5" cy="1869.6" r="6.8"/><circle cx="486.5" cy="1867.6" r="6.8"/><circle cx="494.4" cy="1865.6" r="6.8"/><circle cx="502.3" cy="1863.5" r="6.8"/><circle cx="510.2" cy="1861.3" r="6.8"/><circle cx="518.2" cy="1859" r="6.8"/><circle cx="526.1" cy="1856.7" r="6.8"/><circle cx="534" cy="1854.3" r="6.8"/><circle cx="542" cy="1851.8" r="6.8"/><circle cx="549.9" cy="1849.2" r="6.8"/><circle cx="557.8" cy="1846.5" r="6.8"/><circle cx="565.8" cy="1843.7" r="6.8"/><circle cx="573.7" cy="1840.9" r="6.8"/><circle cx="581.6" cy="1837.8" r="6.8"/><circle cx="589.6" cy="1834.3" r="6.8"/><circle cx="597.5" cy="1830.5" r="6.8"/><circle cx="605.4" cy="1826.4" r="6.8"/><circle cx="613.3" cy="1822" r="6.8"/><circle cx="621.3" cy="1817.3" r="6.8"/><circle cx="629.2" cy="1812.3" r="6.8"/><circle cx="637.1" cy="1807.2" r="6.8"/><circle cx="645.1" cy="1801.8" r="6.8"/><circle cx="653" cy="1795.3" r="6.8"/><circle cx="660.9" cy="1788" r="6.8"/><circle cx="668.9" cy="1783.3" r="6.8"/><circle cx="676.8" cy="1779.1" r="6.8"/><circle cx="684.7" cy="1774.8" r="6.8"/><circle cx="692.7" cy="1769.9" r="6.8"/><circle cx="700.6" cy="1764.3" r="6.8"/><circle cx="708.5" cy="1758.7" r="6.8"/><circle cx="716.5" cy="1753.4" r="6.8"/><circle cx="724.4" cy="1748.2" r="6.8"/><circle cx="732.3" cy="1742.8" r="6.8"/><circle cx="740.2" cy="1737.4" r="6.8"/><circle cx="748.2" cy="1731.8" r="6.8"/><circle cx="756.1" cy="1726.1" r="6.8"/><circle cx="764" cy="1720.2" r="6.8"/><circle cx="772" cy="1714.4" r="6.8"/><circle cx="779.9" cy="1708.8" r="6.8"/><circle cx="787.8" cy="1703.1" r="6.8"/><circle cx="795.8" cy="1697.2" r="6.8"/><circle cx="803.7" cy="1690.6" r="6.8"/><circle cx="811.6" cy="1683.2" r="6.8"/><circle cx="819.6" cy="1675.2" r="6.8"/><circle cx="827.5" cy="1666.9" r="6.8"/><circle cx="835.4" cy="1658.3" r="6.8"/><circle cx="843.4" cy="1649.4" r="6.8"/><circle cx="851.3" cy="1640.3" r="6.8"/><circle cx="859.2" cy="1630.8" r="6.8"/></g>
<path d="M193 1902.5 L209.7 1901.2 L226.3 1899.9 L243 1898.4 L259.6 1896.8 L276.3 1895.1 L292.9 1893.3 L309.6 1891.4 L326.2 1889.3 L342.9 1887.1 L359.6 1884.7 L376.2 1882.1 L392.9 1879.3 L409.5 1876.4 L426.2 1873.2 L442.8 1869.8 L459.5 1866.2 L476.1 1862.3 L492.8 1858.1 L509.5 1853.6 L526.1 1848.8 L542.8 1843.6 L559.4 1838 L576.1 1832.1 L592.7 1825.7 L609.4 1818.9 L626 1811.5 L642.7 1803.6 L659.3 1795.2 L676 1786.1 L692.7 1776.4 L709.3 1766 L726 1754.8 L742.6 1742.9 L759.3 1730 L775.9 1716.2 L792.6 1701.4 L809.2 1685.6 L825.9 1668.6 L842.6 1650.3 L859.2 1630.8" fill="none" stroke="#312F79" stroke-width="4.5" stroke-linecap="round" stroke-linejoin="round"/>
<g fill="#30358E" fill-opacity="0.52" stroke="#30358E" stroke-opacity="0.25" stroke-width="1.0"><circle cx="193" cy="1902.5" r="6.8"/><circle cx="200.9" cy="1901.8" r="6.8"/><circle cx="208.9" cy="1901" r="6.8"/><circle cx="216.8" cy="1900.3" r="6.8"/><circle cx="224.7" cy="1899.6" r="6.8"/><circle cx="232.7" cy="1898.9" r="6.8"/><circle cx="240.6" cy="1898.2" r="6.8"/><circle cx="248.5" cy="1897.5" r="6.8"/><circle cx="256.4" cy="1896.8" r="6.8"/><circle cx="264.4" cy="1896.2" r="6.8"/><circle cx="272.3" cy="1895.5" r="6.8"/><circle cx="280.2" cy="1894.9" r="6.8"/><circle cx="288.2" cy="1894.2" r="6.8"/><circle cx="296.1" cy="1893.6" r="6.8"/><circle cx="304" cy="1893" r="6.8"/><circle cx="312" cy="1892.4" r="6.8"/><circle cx="319.9" cy="1891.7" r="6.8"/><circle cx="327.8" cy="1891.1" r="6.8"/><circle cx="335.8" cy="1890.5" r="6.8"/><circle cx="343.7" cy="1889.8" r="6.8"/><circle cx="351.6" cy="1889.1" r="6.8"/><circle cx="359.6" cy="1888.4" r="6.8"/><circle cx="367.5" cy="1887.7" r="6.8"/><circle cx="375.4" cy="1887" r="6.8"/><circle cx="383.3" cy="1886.2" r="6.8"/><circle cx="391.3" cy="1885.5" r="6.8"/><circle cx="399.2" cy="1884.9" r="6.8"/><circle cx="407.1" cy="1884.4" r="6.8"/><circle cx="415.1" cy="1884" r="6.8"/><circle cx="423" cy="1883.6" r="6.8"/><circle cx="430.9" cy="1883.1" r="6.8"/><circle cx="438.9" cy="1882.6" r="6.8"/><circle cx="446.8" cy="1881.9" r="6.8"/><circle cx="454.7" cy="1881.1" r="6.8"/><circle cx="462.7" cy="1880.1" r="6.8"/><circle cx="470.6" cy="1878.9" r="6.8"/><circle cx="478.5" cy="1877.3" r="6.8"/><circle cx="486.5" cy="1875.6" r="6.8"/><circle cx="494.4" cy="1873.7" r="6.8"/><circle cx="502.3" cy="1871.9" r="6.8"/><circle cx="510.2" cy="1869.9" r="6.8"/><circle cx="518.2" cy="1867.9" r="6.8"/><circle cx="526.1" cy="1865.8" r="6.8"/><circle cx="534" cy="1863.7" r="6.8"/><circle cx="542" cy="1861.5" r="6.8"/><circle cx="549.9" cy="1859.2" r="6.8"/><circle cx="557.8" cy="1856.8" r="6.8"/><circle cx="565.8" cy="1854.3" r="6.8"/><circle cx="573.7" cy="1851.7" r="6.8"/><circle cx="581.6" cy="1848.9" r="6.8"/><circle cx="589.6" cy="1845.8" r="6.8"/><circle cx="597.5" cy="1842.4" r="6.8"/><circle cx="605.4" cy="1838.6" r="6.8"/><circle cx="613.3" cy="1834.6" r="6.8"/><circle cx="621.3" cy="1830.3" r="6.8"/><circle cx="629.2" cy="1825.6" r="6.8"/><circle cx="637.1" cy="1820.8" r="6.8"/><circle cx="645.1" cy="1815.6" r="6.8"/><circle cx="653" cy="1810.3" r="6.8"/><circle cx="660.9" cy="1804" r="6.8"/><circle cx="668.9" cy="1795.6" r="6.8"/><circle cx="676.8" cy="1790.3" r="6.8"/><circle cx="684.7" cy="1786.4" r="6.8"/><circle cx="692.7" cy="1782.3" r="6.8"/><circle cx="700.6" cy="1777.9" r="6.8"/><circle cx="708.5" cy="1773.2" r="6.8"/><circle cx="716.5" cy="1768.4" r="6.8"/><circle cx="724.4" cy="1763.4" r="6.8"/><circle cx="732.3" cy="1758.3" r="6.8"/><circle cx="740.2" cy="1753.2" r="6.8"/><circle cx="748.2" cy="1748" r="6.8"/><circle cx="756.1" cy="1742.6" r="6.8"/><circle cx="764" cy="1737.1" r="6.8"/><circle cx="772" cy="1731.4" r="6.8"/><circle cx="779.9" cy="1725.8" r="6.8"/><circle cx="787.8" cy="1720.7" r="6.8"/><circle cx="795.8" cy="1715.6" r="6.8"/><circle cx="803.7" cy="1710" r="6.8"/><circle cx="811.6" cy="1703.2" r="6.8"/><circle cx="819.6" cy="1695.6" r="6.8"/><circle cx="827.5" cy="1687.8" r="6.8"/><circle cx="835.4" cy="1679.6" r="6.8"/><circle cx="843.4" cy="1671.2" r="6.8"/><circle cx="851.3" cy="1662.4" r="6.8"/><circle cx="859.2" cy="1653.4" r="6.8"/></g>
<path d="M193 1902.5 L209.7 1901.4 L226.3 1900.3 L243 1899.1 L259.6 1897.7 L276.3 1896.3 L292.9 1894.8 L309.6 1893.1 L326.2 1891.4 L342.9 1889.5 L359.6 1887.4 L376.2 1885.2 L392.9 1882.8 L409.5 1880.3 L426.2 1877.5 L442.8 1874.5 L459.5 1871.3 L476.1 1867.9 L492.8 1864.2 L509.5 1860.2 L526.1 1855.9 L542.8 1851.3 L559.4 1846.4 L576.1 1841 L592.7 1835.3 L609.4 1829.1 L626 1822.4 L642.7 1815.2 L659.3 1807.5 L676 1799.2 L692.7 1790.3 L709.3 1780.7 L726 1770.3 L742.6 1759.2 L759.3 1747.2 L775.9 1734.3 L792.6 1720.4 L809.2 1705.4 L825.9 1689.3 L842.6 1672 L859.2 1653.4" fill="none" stroke="#312F79" stroke-width="4.5" stroke-linecap="round" stroke-linejoin="round"/>
<g fill="#1F6E8C" fill-opacity="0.52" stroke="#1F6E8C" stroke-opacity="0.25" stroke-width="1.0"><circle cx="193" cy="1902.5" r="6.8"/><circle cx="200.9" cy="1901.9" r="6.8"/><circle cx="208.9" cy="1901.3" r="6.8"/><circle cx="216.8" cy="1900.6" r="6.8"/><circle cx="224.7" cy="1899.9" r="6.8"/><circle cx="232.7" cy="1899.1" r="6.8"/><circle cx="240.6" cy="1898.2" r="6.8"/><circle cx="248.5" cy="1897.3" r="6.8"/><circle cx="256.4" cy="1896.4" r="6.8"/><circle cx="264.4" cy="1895.3" r="6.8"/><circle cx="272.3" cy="1894.2" r="6.8"/><circle cx="280.2" cy="1893.1" r="6.8"/><circle cx="288.2" cy="1891.8" r="6.8"/><circle cx="296.1" cy="1890.5" r="6.8"/><circle cx="304" cy="1889.1" r="6.8"/><circle cx="312" cy="1887.6" r="6.8"/><circle cx="319.9" cy="1886.1" r="6.8"/><circle cx="327.8" cy="1884.4" r="6.8"/><circle cx="335.8" cy="1882.6" r="6.8"/><circle cx="343.7" cy="1880.7" r="6.8"/><circle cx="351.6" cy="1878.6" r="6.8"/><circle cx="359.6" cy="1876.4" r="6.8"/><circle cx="367.5" cy="1874" r="6.8"/><circle cx="375.4" cy="1871.4" r="6.8"/><circle cx="383.3" cy="1868.6" r="6.8"/><circle cx="391.3" cy="1865.6" r="6.8"/><circle cx="399.2" cy="1862.4" r="6.8"/><circle cx="407.1" cy="1859" r="6.8"/><circle cx="415.1" cy="1855.5" r="6.8"/><circle cx="423" cy="1851.7" r="6.8"/><circle cx="430.9" cy="1847.7" r="6.8"/><circle cx="438.9" cy="1843.4" r="6.8"/><circle cx="446.8" cy="1839" r="6.8"/><circle cx="454.7" cy="1834.2" r="6.8"/><circle cx="462.7" cy="1827.7" r="6.8"/><circle cx="470.6" cy="1819.2" r="6.8"/><circle cx="478.5" cy="1810.3" r="6.8"/><circle cx="486.5" cy="1801.2" r="6.8"/><circle cx="494.4" cy="1791.8" r="6.8"/><circle cx="502.3" cy="1783.3" r="6.8"/><circle cx="510.2" cy="1775.6" r="6.8"/><circle cx="518.2" cy="1767.6" r="6.8"/><circle cx="526.1" cy="1759.3" r="6.8"/><circle cx="534" cy="1750.5" r="6.8"/><circle cx="542" cy="1741.4" r="6.8"/><circle cx="549.9" cy="1731.9" r="6.8"/><circle cx="557.8" cy="1721.9" r="6.8"/><circle cx="565.8" cy="1711.5" r="6.8"/><circle cx="573.7" cy="1700.5" r="6.8"/><circle cx="581.6" cy="1689" r="6.8"/><circle cx="589.6" cy="1676.9" r="6.8"/><circle cx="597.5" cy="1664.1" r="6.8"/><circle cx="605.4" cy="1651" r="6.8"/><circle cx="613.3" cy="1638.1" r="6.8"/><circle cx="621.3" cy="1625" r="6.8"/><circle cx="629.2" cy="1611.3" r="6.8"/><circle cx="637.1" cy="1597" r="6.8"/><circle cx="645.1" cy="1582.5" r="6.8"/><circle cx="653" cy="1568" r="6.8"/><circle cx="660.9" cy="1553.1" r="6.8"/><circle cx="668.9" cy="1537.6" r="6.8"/></g>
<path d="M193 1902.5 L204.9 1901.4 L216.7 1900.1 L228.6 1898.7 L240.5 1897.3 L252.4 1895.6 L264.2 1893.9 L276.1 1892 L288 1889.9 L299.9 1887.6 L311.7 1885.1 L323.6 1882.4 L335.5 1879.4 L347.3 1876.2 L359.2 1872.7 L371.1 1868.9 L383 1864.7 L394.8 1860.2 L406.7 1855.2 L418.6 1849.8 L430.5 1844 L442.3 1837.6 L454.2 1830.6 L466.1 1823 L477.9 1814.7 L489.8 1805.6 L501.7 1795.8 L513.6 1785 L525.4 1773.3 L537.3 1760.6 L549.2 1746.7 L561.1 1731.5 L572.9 1715 L584.8 1697 L596.7 1677.4 L608.6 1656 L620.4 1632.7 L632.3 1607.3 L644.2 1579.6 L656 1549.4 L667.9 1516.5" fill="none" stroke="#22657E" stroke-width="4.5" stroke-linecap="round" stroke-linejoin="round"/>
<g fill="#1F6E8C" fill-opacity="0.52" stroke="#1F6E8C" stroke-opacity="0.25" stroke-width="1.0"><circle cx="193" cy="1902.5" r="6.8"/><circle cx="200.9" cy="1902.1" r="6.8"/><circle cx="208.9" cy="1901.6" r="6.8"/><circle cx="216.8" cy="1901.1" r="6.8"/><circle cx="224.7" cy="1900.5" r="6.8"/><circle cx="232.7" cy="1899.9" r="6.8"/><circle cx="240.6" cy="1899.3" r="6.8"/><circle cx="248.5" cy="1898.6" r="6.8"/><circle cx="256.4" cy="1897.8" r="6.8"/><circle cx="264.4" cy="1897" r="6.8"/><circle cx="272.3" cy="1896.1" r="6.8"/><circle cx="280.2" cy="1895.2" r="6.8"/><circle cx="288.2" cy="1894.2" r="6.8"/><circle cx="296.1" cy="1893.1" r="6.8"/><circle cx="304" cy="1891.9" r="6.8"/><circle cx="312" cy="1890.7" r="6.8"/><circle cx="319.9" cy="1889.4" r="6.8"/><circle cx="327.8" cy="1888" r="6.8"/><circle cx="335.8" cy="1886.5" r="6.8"/><circle cx="343.7" cy="1884.9" r="6.8"/><circle cx="351.6" cy="1883.1" r="6.8"/><circle cx="359.6" cy="1881.2" r="6.8"/><circle cx="367.5" cy="1879.1" r="6.8"/><circle cx="375.4" cy="1876.8" r="6.8"/><circle cx="383.3" cy="1874.3" r="6.8"/><circle cx="391.3" cy="1871.7" r="6.8"/><circle cx="399.2" cy="1868.8" r="6.8"/><circle cx="407.1" cy="1865.8" r="6.8"/><circle cx="415.1" cy="1862.6" r="6.8"/><circle cx="423" cy="1859.1" r="6.8"/><circle cx="430.9" cy="1855.5" r="6.8"/><circle cx="438.9" cy="1851.6" r="6.8"/><circle cx="446.8" cy="1847.5" r="6.8"/><circle cx="454.7" cy="1843.1" r="6.8"/><circle cx="462.7" cy="1837.4" r="6.8"/><circle cx="470.6" cy="1830" r="6.8"/><circle cx="478.5" cy="1822.2" r="6.8"/><circle cx="486.5" cy="1813.6" r="6.8"/><circle cx="494.4" cy="1804.4" r="6.8"/><circle cx="502.3" cy="1796.2" r="6.8"/><circle cx="510.2" cy="1788.7" r="6.8"/><circle cx="518.2" cy="1781" r="6.8"/><circle cx="526.1" cy="1772.9" r="6.8"/><circle cx="534" cy="1764.4" r="6.8"/><circle cx="542" cy="1755.5" r="6.8"/><circle cx="549.9" cy="1746.1" r="6.8"/><circle cx="557.8" cy="1736.2" r="6.8"/><circle cx="565.8" cy="1725.6" r="6.8"/><circle cx="573.7" cy="1714.4" r="6.8"/><circle cx="581.6" cy="1702.4" r="6.8"/><circle cx="589.6" cy="1689.7" r="6.8"/><circle cx="597.5" cy="1676.1" r="6.8"/><circle cx="605.4" cy="1662.6" r="6.8"/><circle cx="613.3" cy="1649.4" r="6.8"/><circle cx="621.3" cy="1636" r="6.8"/><circle cx="629.2" cy="1622" r="6.8"/><circle cx="637.1" cy="1606.6" r="6.8"/><circle cx="645.1" cy="1590.3" r="6.8"/><circle cx="653" cy="1573.1" r="6.8"/><circle cx="660.9" cy="1554.8" r="6.8"/></g>
<path d="M193 1902.5 L204.8 1901.6 L216.6 1900.6 L228.3 1899.5 L240.1 1898.3 L251.9 1897 L263.7 1895.6 L275.4 1894.1 L287.2 1892.3 L299 1890.4 L310.8 1888.4 L322.6 1886.1 L334.3 1883.6 L346.1 1880.9 L357.9 1877.9 L369.7 1874.6 L381.4 1871 L393.2 1867 L405 1862.7 L416.8 1857.9 L428.6 1852.6 L440.3 1846.9 L452.1 1840.6 L463.9 1833.7 L475.7 1826.1 L487.4 1817.8 L499.2 1808.6 L511 1798.6 L522.8 1787.6 L534.6 1775.5 L546.3 1762.3 L558.1 1747.7 L569.9 1731.8 L581.7 1714.3 L593.4 1695.1 L605.2 1674 L617 1650.9 L628.8 1625.5 L640.6 1597.7 L652.3 1567.1 L664.1 1533.6" fill="none" stroke="#22657E" stroke-width="4.5" stroke-linecap="round" stroke-linejoin="round"/>
<g fill="#1F6E8C" fill-opacity="0.52" stroke="#1F6E8C" stroke-opacity="0.25" stroke-width="1.0"><circle cx="193" cy="1902.5" r="6.8"/><circle cx="200.9" cy="1902.1" r="6.8"/><circle cx="208.9" cy="1901.7" r="6.8"/><circle cx="216.8" cy="1901.2" r="6.8"/><circle cx="224.7" cy="1900.7" r="6.8"/><circle cx="232.7" cy="1900.2" r="6.8"/><circle cx="240.6" cy="1899.7" r="6.8"/><circle cx="248.5" cy="1899.1" r="6.8"/><circle cx="256.4" cy="1898.6" r="6.8"/><circle cx="264.4" cy="1897.9" r="6.8"/><circle cx="272.3" cy="1897.2" r="6.8"/><circle cx="280.2" cy="1896.5" r="6.8"/><circle cx="288.2" cy="1895.7" r="6.8"/><circle cx="296.1" cy="1894.9" r="6.8"/><circle cx="304" cy="1894.1" r="6.8"/><circle cx="312" cy="1893.3" r="6.8"/><circle cx="319.9" cy="1892.4" r="6.8"/><circle cx="327.8" cy="1891.5" r="6.8"/><circle cx="335.8" cy="1890.4" r="6.8"/><circle cx="343.7" cy="1889.3" r="6.8"/><circle cx="351.6" cy="1888" r="6.8"/><circle cx="359.6" cy="1886.6" r="6.8"/><circle cx="367.5" cy="1885" r="6.8"/><circle cx="375.4" cy="1883.1" r="6.8"/><circle cx="383.3" cy="1881.1" r="6.8"/><circle cx="391.3" cy="1878.8" r="6.8"/><circle cx="399.2" cy="1876.4" r="6.8"/><circle cx="407.1" cy="1873.8" r="6.8"/><circle cx="415.1" cy="1871.1" r="6.8"/><circle cx="423" cy="1868.1" r="6.8"/><circle cx="430.9" cy="1865" r="6.8"/><circle cx="438.9" cy="1861.7" r="6.8"/><circle cx="446.8" cy="1858.2" r="6.8"/><circle cx="454.7" cy="1854.5" r="6.8"/><circle cx="462.7" cy="1850.2" r="6.8"/><circle cx="470.6" cy="1845" r="6.8"/><circle cx="478.5" cy="1839.3" r="6.8"/><circle cx="486.5" cy="1833.2" r="6.8"/><circle cx="494.4" cy="1826.8" r="6.8"/><circle cx="502.3" cy="1820.4" r="6.8"/><circle cx="510.2" cy="1813.8" r="6.8"/><circle cx="518.2" cy="1807" r="6.8"/><circle cx="526.1" cy="1799.7" r="6.8"/><circle cx="534" cy="1792.1" r="6.8"/><circle cx="542" cy="1784.1" r="6.8"/><circle cx="549.9" cy="1775.5" r="6.8"/><circle cx="557.8" cy="1766.3" r="6.8"/><circle cx="565.8" cy="1756.4" r="6.8"/><circle cx="573.7" cy="1746" r="6.8"/><circle cx="581.6" cy="1735.1" r="6.8"/><circle cx="589.6" cy="1723.7" r="6.8"/><circle cx="597.5" cy="1711.9" r="6.8"/><circle cx="605.4" cy="1700" r="6.8"/><circle cx="613.3" cy="1687.7" r="6.8"/><circle cx="621.3" cy="1675.1" r="6.8"/><circle cx="629.2" cy="1661.9" r="6.8"/><circle cx="637.1" cy="1648" r="6.8"/><circle cx="645.1" cy="1633.2" r="6.8"/><circle cx="653" cy="1618" r="6.8"/><circle cx="660.9" cy="1602.9" r="6.8"/><circle cx="668.9" cy="1587.4" r="6.8"/><circle cx="676.8" cy="1571.4" r="6.8"/><circle cx="684.7" cy="1554.7" r="6.8"/><circle cx="692.7" cy="1536.9" r="6.8"/></g>
<path d="M193 1902.5 L205.5 1901.7 L218 1900.8 L230.4 1899.8 L242.9 1898.7 L255.4 1897.5 L267.9 1896.2 L280.4 1894.7 L292.8 1893.1 L305.3 1891.3 L317.8 1889.3 L330.3 1887.2 L342.8 1884.8 L355.2 1882.1 L367.7 1879.2 L380.2 1876 L392.7 1872.4 L405.2 1868.5 L417.6 1864.2 L430.1 1859.4 L442.6 1854.2 L455.1 1848.4 L467.6 1841.9 L480 1834.9 L492.5 1827.1 L505 1818.5 L517.5 1809 L529.9 1798.5 L542.4 1786.9 L554.9 1774.2 L567.4 1760.1 L579.9 1744.6 L592.3 1727.4 L604.8 1708.5 L617.3 1687.7 L629.8 1664.7 L642.3 1639.3 L654.7 1611.3 L667.2 1580.3 L679.7 1546.2 L692.2 1508.6" fill="none" stroke="#22657E" stroke-width="4.5" stroke-linecap="round" stroke-linejoin="round"/>
<g fill="#1FA075" fill-opacity="0.52" stroke="#1FA075" stroke-opacity="0.25" stroke-width="1.0"><circle cx="193" cy="1902.5" r="6.8"/><circle cx="200.9" cy="1901.1" r="6.8"/><circle cx="208.9" cy="1899.6" r="6.8"/><circle cx="216.8" cy="1898.2" r="6.8"/><circle cx="224.7" cy="1896.9" r="6.8"/><circle cx="232.7" cy="1895.5" r="6.8"/><circle cx="240.6" cy="1894.3" r="6.8"/><circle cx="248.5" cy="1893.1" r="6.8"/><circle cx="256.4" cy="1892" r="6.8"/><circle cx="264.4" cy="1891" r="6.8"/><circle cx="272.3" cy="1890" r="6.8"/><circle cx="280.2" cy="1889.1" r="6.8"/><circle cx="288.2" cy="1888.3" r="6.8"/><circle cx="296.1" cy="1887.4" r="6.8"/><circle cx="304" cy="1886.6" r="6.8"/><circle cx="312" cy="1885.7" r="6.8"/><circle cx="319.9" cy="1884.9" r="6.8"/><circle cx="327.8" cy="1884" r="6.8"/><circle cx="335.8" cy="1883.1" r="6.8"/><circle cx="343.7" cy="1882.2" r="6.8"/><circle cx="351.6" cy="1881.2" r="6.8"/><circle cx="359.6" cy="1880.2" r="6.8"/><circle cx="367.5" cy="1879.1" r="6.8"/><circle cx="375.4" cy="1877.9" r="6.8"/><circle cx="383.3" cy="1876.6" r="6.8"/><circle cx="391.3" cy="1875.2" r="6.8"/><circle cx="399.2" cy="1873.9" r="6.8"/><circle cx="407.1" cy="1872.4" r="6.8"/><circle cx="415.1" cy="1871" r="6.8"/><circle cx="423" cy="1869.4" r="6.8"/><circle cx="430.9" cy="1867.8" r="6.8"/><circle cx="438.9" cy="1866.1" r="6.8"/><circle cx="446.8" cy="1864.4" r="6.8"/><circle cx="454.7" cy="1862.5" r="6.8"/><circle cx="462.7" cy="1860.6" r="6.8"/><circle cx="470.6" cy="1858.5" r="6.8"/><circle cx="478.5" cy="1856.4" r="6.8"/><circle cx="486.5" cy="1854" r="6.8"/><circle cx="494.4" cy="1851.5" r="6.8"/><circle cx="502.3" cy="1848.6" r="6.8"/><circle cx="510.2" cy="1845.6" r="6.8"/><circle cx="518.2" cy="1842.1" r="6.8"/><circle cx="526.1" cy="1835.2" r="6.8"/><circle cx="534" cy="1828.5" r="6.8"/><circle cx="542" cy="1826.1" r="6.8"/><circle cx="549.9" cy="1824.6" r="6.8"/><circle cx="557.8" cy="1823.2" r="6.8"/><circle cx="565.8" cy="1822.3" r="6.8"/><circle cx="573.7" cy="1820.3" r="6.8"/><circle cx="581.6" cy="1813.6" r="6.8"/><circle cx="589.6" cy="1805.2" r="6.8"/><circle cx="597.5" cy="1801.2" r="6.8"/><circle cx="605.4" cy="1797.9" r="6.8"/><circle cx="613.3" cy="1794.8" r="6.8"/><circle cx="621.3" cy="1792" r="6.8"/><circle cx="629.2" cy="1790.5" r="6.8"/><circle cx="637.1" cy="1788.7" r="6.8"/><circle cx="645.1" cy="1785.6" r="6.8"/><circle cx="653" cy="1782" r="6.8"/><circle cx="660.9" cy="1778.1" r="6.8"/><circle cx="668.9" cy="1773.8" r="6.8"/><circle cx="676.8" cy="1769.1" r="6.8"/><circle cx="684.7" cy="1764.2" r="6.8"/><circle cx="692.7" cy="1759.2" r="6.8"/><circle cx="700.6" cy="1754" r="6.8"/><circle cx="708.5" cy="1748.7" r="6.8"/><circle cx="716.5" cy="1743.2" r="6.8"/><circle cx="724.4" cy="1737.6" r="6.8"/><circle cx="732.3" cy="1731.7" r="6.8"/><circle cx="740.2" cy="1725.7" r="6.8"/><circle cx="748.2" cy="1719.5" r="6.8"/><circle cx="756.1" cy="1713.1" r="6.8"/><circle cx="764" cy="1706.4" r="6.8"/><circle cx="772" cy="1699.6" r="6.8"/><circle cx="779.9" cy="1692.5" r="6.8"/><circle cx="787.8" cy="1685.2" r="6.8"/><circle cx="795.8" cy="1677.6" r="6.8"/><circle cx="803.7" cy="1669.7" r="6.8"/><circle cx="811.6" cy="1661.6" r="6.8"/><circle cx="819.6" cy="1653.2" r="6.8"/><circle cx="827.5" cy="1644.5" r="6.8"/><circle cx="835.4" cy="1635.6" r="6.8"/><circle cx="843.4" cy="1626.3" r="6.8"/><circle cx="851.3" cy="1616.8" r="6.8"/><circle cx="859.2" cy="1607" r="6.8"/></g>
<path d="M193 1902.5 L209.7 1900.9 L226.3 1899.2 L243 1897.4 L259.6 1895.5 L276.3 1893.5 L292.9 1891.3 L309.6 1888.9 L326.2 1886.5 L342.9 1883.8 L359.6 1881 L376.2 1877.9 L392.9 1874.7 L409.5 1871.3 L426.2 1867.6 L442.8 1863.7 L459.5 1859.5 L476.1 1855.1 L492.8 1850.3 L509.5 1845.2 L526.1 1839.8 L542.8 1834 L559.4 1827.9 L576.1 1821.3 L592.7 1814.3 L609.4 1806.8 L626 1798.8 L642.7 1790.3 L659.3 1781.2 L676 1771.5 L692.7 1761.2 L709.3 1750.2 L726 1738.4 L742.6 1725.8 L759.3 1712.4 L775.9 1698.1 L792.6 1682.9 L809.2 1666.6 L825.9 1649.2 L842.6 1630.7 L859.2 1611" fill="none" stroke="#209D75" stroke-width="4.5" stroke-linecap="round" stroke-linejoin="round"/>
<g fill="#1FA075" fill-opacity="0.52" stroke="#1FA075" stroke-opacity="0.25" stroke-width="1.0"><circle cx="193" cy="1902.5" r="6.8"/><circle cx="200.9" cy="1901.1" r="6.8"/><circle cx="208.9" cy="1899.7" r="6.8"/><circle cx="216.8" cy="1898.3" r="6.8"/><circle cx="224.7" cy="1896.9" r="6.8"/><circle cx="232.7" cy="1895.6" r="6.8"/><circle cx="240.6" cy="1894.4" r="6.8"/><circle cx="248.5" cy="1893.2" r="6.8"/><circle cx="256.4" cy="1892.1" r="6.8"/><circle cx="264.4" cy="1891.1" r="6.8"/><circle cx="272.3" cy="1890.2" r="6.8"/><circle cx="280.2" cy="1889.3" r="6.8"/><circle cx="288.2" cy="1888.5" r="6.8"/><circle cx="296.1" cy="1887.7" r="6.8"/><circle cx="304" cy="1886.8" r="6.8"/><circle cx="312" cy="1886" r="6.8"/><circle cx="319.9" cy="1885.2" r="6.8"/><circle cx="327.8" cy="1884.4" r="6.8"/><circle cx="335.8" cy="1883.5" r="6.8"/><circle cx="343.7" cy="1882.6" r="6.8"/><circle cx="351.6" cy="1881.6" r="6.8"/><circle cx="359.6" cy="1880.6" r="6.8"/><circle cx="367.5" cy="1879.5" r="6.8"/><circle cx="375.4" cy="1878.4" r="6.8"/><circle cx="383.3" cy="1877.1" r="6.8"/><circle cx="391.3" cy="1875.8" r="6.8"/><circle cx="399.2" cy="1874.5" r="6.8"/><circle cx="407.1" cy="1873.1" r="6.8"/><circle cx="415.1" cy="1871.6" r="6.8"/><circle cx="423" cy="1870.1" r="6.8"/><circle cx="430.9" cy="1868.5" r="6.8"/><circle cx="438.9" cy="1866.9" r="6.8"/><circle cx="446.8" cy="1865.2" r="6.8"/><circle cx="454.7" cy="1863.4" r="6.8"/><circle cx="462.7" cy="1861.5" r="6.8"/><circle cx="470.6" cy="1859.5" r="6.8"/><circle cx="478.5" cy="1857.4" r="6.8"/><circle cx="486.5" cy="1855.1" r="6.8"/><circle cx="494.4" cy="1852.7" r="6.8"/><circle cx="502.3" cy="1850.1" r="6.8"/><circle cx="510.2" cy="1847.3" r="6.8"/><circle cx="518.2" cy="1844.3" r="6.8"/><circle cx="526.1" cy="1841.1" r="6.8"/><circle cx="534" cy="1835.5" r="6.8"/><circle cx="542" cy="1829.1" r="6.8"/><circle cx="549.9" cy="1826" r="6.8"/><circle cx="557.8" cy="1824.2" r="6.8"/><circle cx="565.8" cy="1822.5" r="6.8"/><circle cx="573.7" cy="1821.3" r="6.8"/><circle cx="581.6" cy="1819.5" r="6.8"/><circle cx="589.6" cy="1814.2" r="6.8"/><circle cx="597.5" cy="1806.2" r="6.8"/><circle cx="605.4" cy="1801.5" r="6.8"/><circle cx="613.3" cy="1798.1" r="6.8"/><circle cx="621.3" cy="1794.9" r="6.8"/><circle cx="629.2" cy="1791.8" r="6.8"/><circle cx="637.1" cy="1789.6" r="6.8"/><circle cx="645.1" cy="1787.4" r="6.8"/><circle cx="653" cy="1784.3" r="6.8"/><circle cx="660.9" cy="1780.7" r="6.8"/><circle cx="668.9" cy="1776.9" r="6.8"/><circle cx="676.8" cy="1772.5" r="6.8"/><circle cx="684.7" cy="1767.8" r="6.8"/><circle cx="692.7" cy="1762.9" r="6.8"/><circle cx="700.6" cy="1757.8" r="6.8"/><circle cx="708.5" cy="1752.6" r="6.8"/><circle cx="716.5" cy="1747.2" r="6.8"/><circle cx="724.4" cy="1741.7" r="6.8"/><circle cx="732.3" cy="1735.9" r="6.8"/><circle cx="740.2" cy="1730" r="6.8"/><circle cx="748.2" cy="1724" r="6.8"/><circle cx="756.1" cy="1717.7" r="6.8"/><circle cx="764" cy="1711.2" r="6.8"/><circle cx="772" cy="1704.5" r="6.8"/><circle cx="779.9" cy="1697.7" r="6.8"/><circle cx="787.8" cy="1690.6" r="6.8"/><circle cx="795.8" cy="1683.4" r="6.8"/><circle cx="803.7" cy="1675.9" r="6.8"/><circle cx="811.6" cy="1668.2" r="6.8"/><circle cx="819.6" cy="1660.3" r="6.8"/><circle cx="827.5" cy="1652.1" r="6.8"/><circle cx="835.4" cy="1643.7" r="6.8"/><circle cx="843.4" cy="1635.1" r="6.8"/><circle cx="851.3" cy="1626.1" r="6.8"/><circle cx="859.2" cy="1616.9" r="6.8"/></g>
<path d="M193 1902.5 L209.7 1901 L226.3 1899.3 L243 1897.5 L259.6 1895.7 L276.3 1893.6 L292.9 1891.5 L309.6 1889.2 L326.2 1886.8 L342.9 1884.2 L359.6 1881.4 L376.2 1878.4 L392.9 1875.3 L409.5 1871.9 L426.2 1868.3 L442.8 1864.5 L459.5 1860.4 L476.1 1856 L492.8 1851.4 L509.5 1846.4 L526.1 1841.1 L542.8 1835.4 L559.4 1829.4 L576.1 1823 L592.7 1816.1 L609.4 1808.8 L626 1800.9 L642.7 1792.6 L659.3 1783.7 L676 1774.2 L692.7 1764.1 L709.3 1753.3 L726 1741.7 L742.6 1729.4 L759.3 1716.3 L775.9 1702.3 L792.6 1687.4 L809.2 1671.4 L825.9 1654.4 L842.6 1636.3 L859.2 1616.9" fill="none" stroke="#209D75" stroke-width="4.5" stroke-linecap="round" stroke-linejoin="round"/>
<g fill="#1FA075" fill-opacity="0.52" stroke="#1FA075" stroke-opacity="0.25" stroke-width="1.0"><circle cx="193" cy="1902.5" r="6.8"/><circle cx="200.9" cy="1901.4" r="6.8"/><circle cx="208.9" cy="1900.3" r="6.8"/><circle cx="216.8" cy="1899.3" r="6.8"/><circle cx="224.7" cy="1898.2" r="6.8"/><circle cx="232.7" cy="1897.2" r="6.8"/><circle cx="240.6" cy="1896.2" r="6.8"/><circle cx="248.5" cy="1895.2" r="6.8"/><circle cx="256.4" cy="1894.2" r="6.8"/><circle cx="264.4" cy="1893.3" r="6.8"/><circle cx="272.3" cy="1892.4" r="6.8"/><circle cx="280.2" cy="1891.5" r="6.8"/><circle cx="288.2" cy="1890.7" r="6.8"/><circle cx="296.1" cy="1889.9" r="6.8"/><circle cx="304" cy="1889.1" r="6.8"/><circle cx="312" cy="1888.3" r="6.8"/><circle cx="319.9" cy="1887.5" r="6.8"/><circle cx="327.8" cy="1886.7" r="6.8"/><circle cx="335.8" cy="1885.8" r="6.8"/><circle cx="343.7" cy="1884.9" r="6.8"/><circle cx="351.6" cy="1884" r="6.8"/><circle cx="359.6" cy="1883" r="6.8"/><circle cx="367.5" cy="1882" r="6.8"/><circle cx="375.4" cy="1880.8" r="6.8"/><circle cx="383.3" cy="1879.6" r="6.8"/><circle cx="391.3" cy="1878.3" r="6.8"/><circle cx="399.2" cy="1877" r="6.8"/><circle cx="407.1" cy="1875.7" r="6.8"/><circle cx="415.1" cy="1874.3" r="6.8"/><circle cx="423" cy="1872.8" r="6.8"/><circle cx="430.9" cy="1871.3" r="6.8"/><circle cx="438.9" cy="1869.7" r="6.8"/><circle cx="446.8" cy="1868" r="6.8"/><circle cx="454.7" cy="1866.2" r="6.8"/><circle cx="462.7" cy="1864.4" r="6.8"/><circle cx="470.6" cy="1862.4" r="6.8"/><circle cx="478.5" cy="1860.3" r="6.8"/><circle cx="486.5" cy="1858.1" r="6.8"/><circle cx="494.4" cy="1855.8" r="6.8"/><circle cx="502.3" cy="1853.3" r="6.8"/><circle cx="510.2" cy="1850.7" r="6.8"/><circle cx="518.2" cy="1847.9" r="6.8"/><circle cx="526.1" cy="1845" r="6.8"/><circle cx="534" cy="1841.9" r="6.8"/><circle cx="542" cy="1837.1" r="6.8"/><circle cx="549.9" cy="1830.6" r="6.8"/><circle cx="557.8" cy="1826.8" r="6.8"/><circle cx="565.8" cy="1824.5" r="6.8"/><circle cx="573.7" cy="1822.4" r="6.8"/><circle cx="581.6" cy="1820.7" r="6.8"/><circle cx="589.6" cy="1819" r="6.8"/><circle cx="597.5" cy="1814.8" r="6.8"/><circle cx="605.4" cy="1807.2" r="6.8"/><circle cx="613.3" cy="1801.8" r="6.8"/><circle cx="621.3" cy="1798.4" r="6.8"/><circle cx="629.2" cy="1795.1" r="6.8"/><circle cx="637.1" cy="1791.9" r="6.8"/><circle cx="645.1" cy="1789.2" r="6.8"/><circle cx="653" cy="1786.6" r="6.8"/><circle cx="660.9" cy="1783.5" r="6.8"/><circle cx="668.9" cy="1779.9" r="6.8"/><circle cx="676.8" cy="1776" r="6.8"/><circle cx="684.7" cy="1771.7" r="6.8"/><circle cx="692.7" cy="1767" r="6.8"/><circle cx="700.6" cy="1762" r="6.8"/><circle cx="708.5" cy="1756.9" r="6.8"/><circle cx="716.5" cy="1751.6" r="6.8"/><circle cx="724.4" cy="1746.2" r="6.8"/><circle cx="732.3" cy="1740.6" r="6.8"/><circle cx="740.2" cy="1734.8" r="6.8"/><circle cx="748.2" cy="1728.8" r="6.8"/><circle cx="756.1" cy="1722.7" r="6.8"/><circle cx="764" cy="1716.4" r="6.8"/><circle cx="772" cy="1709.9" r="6.8"/><circle cx="779.9" cy="1703.2" r="6.8"/><circle cx="787.8" cy="1696.4" r="6.8"/><circle cx="795.8" cy="1689.5" r="6.8"/><circle cx="803.7" cy="1682.4" r="6.8"/><circle cx="811.6" cy="1675.1" r="6.8"/><circle cx="819.6" cy="1667.6" r="6.8"/><circle cx="827.5" cy="1660" r="6.8"/><circle cx="835.4" cy="1652" r="6.8"/><circle cx="843.4" cy="1643.9" r="6.8"/><circle cx="851.3" cy="1635.5" r="6.8"/><circle cx="859.2" cy="1626.8" r="6.8"/></g>
<path d="M193 1902.5 L209.7 1901 L226.3 1899.4 L243 1897.6 L259.6 1895.8 L276.3 1893.8 L292.9 1891.7 L309.6 1889.5 L326.2 1887.1 L342.9 1884.6 L359.6 1881.8 L376.2 1878.9 L392.9 1875.9 L409.5 1872.6 L426.2 1869 L442.8 1865.3 L459.5 1861.3 L476.1 1857 L492.8 1852.4 L509.5 1847.6 L526.1 1842.4 L542.8 1836.8 L559.4 1830.9 L576.1 1824.6 L592.7 1817.9 L609.4 1810.7 L626 1803.1 L642.7 1794.9 L659.3 1786.2 L676 1776.9 L692.7 1767 L709.3 1756.4 L726 1745.1 L742.6 1733 L759.3 1720.2 L775.9 1706.5 L792.6 1691.8 L809.2 1676.2 L825.9 1659.6 L842.6 1641.8 L859.2 1622.8" fill="none" stroke="#209D75" stroke-width="4.5" stroke-linecap="round" stroke-linejoin="round"/>
<g font-size="36" fill="#000">
<text x="164.4" y="1916.1" text-anchor="end">0</text>
<text x="164.4" y="1797.1" text-anchor="end">30</text>
<text x="164.4" y="1678.1" text-anchor="end">60</text>
<text x="164.4" y="1559.1" text-anchor="end">90</text>
<text x="164.4" y="1440.1" text-anchor="end">120</text>
<text x="193" y="1963.2" text-anchor="middle">0</text>
<text x="430.9" y="1963.2" text-anchor="middle">5</text>
<text x="668.9" y="1963.2" text-anchor="middle">10</text>
<text x="906.8" y="1963.2" text-anchor="middle">15</text>
</g>
<text x="549.9" y="2019.3" font-size="38.8" text-anchor="middle">Time (h)</text>
<text transform="translate(72.4 1664.5) rotate(-90)" font-size="38" text-anchor="middle">[Fe(II)] (µM)</text>
<text x="50" y="1452" font-size="34" font-weight="bold">iii.</text>
<text y="1466.7" font-size="32" font-weight="bold"><tspan x="213">pAND-<tspan font-style="italic">mtrC</tspan>:</tspan>
<tspan x="406" fill="#209D75">–/–</tspan>
<tspan x="477" fill="#22657E">+/–</tspan>
<tspan x="546" fill="#312F79">–/+</tspan>
<tspan x="617" fill="#37004A">+/+</tspan>
</text>
</g>
<g>
<g stroke="#000" stroke-width="4.6" fill="none" stroke-linecap="butt">
<path d="M167.5 2101.6 H901.3 V2597.7"/>
<path d="M188 2101.6 V2597.7"/>
<path d="M167.5 2577.2 H901.3"/>
<path d="M167.5 2458.3 H188"/>
<path d="M167.5 2339.4 H188"/>
<path d="M167.5 2220.5 H188"/>
<path d="M176.2 2517.8 H188"/>
<path d="M176.2 2398.8 H188"/>
<path d="M176.2 2279.9 H188"/>
<path d="M176.2 2161 H188"/>
<path d="M425.8 2577.2 V2597.7"/>
<path d="M663.5 2577.2 V2597.7"/>
<path d="M306.9 2577.2 V2589"/>
<path d="M544.6 2577.2 V2589"/>
<path d="M782.4 2577.2 V2589"/>
</g>
<g fill="#3A004E" fill-opacity="0.52" stroke="#3A004E" stroke-opacity="0.25" stroke-width="1.0"><circle cx="188" cy="2577.2" r="6.8"/><circle cx="195.9" cy="2575.9" r="6.8"/><circle cx="203.9" cy="2574.5" r="6.8"/><circle cx="211.8" cy="2573.2" r="6.8"/><circle cx="219.7" cy="2571.9" r="6.8"/><circle cx="227.6" cy="2570.6" r="6.8"/><circle cx="235.6" cy="2569.4" r="6.8"/><circle cx="243.5" cy="2568.2" r="6.8"/><circle cx="251.4" cy="2567.2" r="6.8"/><circle cx="259.3" cy="2566.2" r="6.8"/><circle cx="267.3" cy="2565.3" r="6.8"/><circle cx="275.2" cy="2564.4" r="6.8"/><circle cx="283.1" cy="2563.5" r="6.8"/><circle cx="291" cy="2562.5" r="6.8"/><circle cx="299" cy="2561.6" r="6.8"/><circle cx="306.9" cy="2560.6" r="6.8"/><circle cx="314.8" cy="2559.6" r="6.8"/><circle cx="322.7" cy="2558.6" r="6.8"/><circle cx="330.7" cy="2557.6" r="6.8"/><circle cx="338.6" cy="2556.5" r="6.8"/><circle cx="346.5" cy="2555.4" r="6.8"/><circle cx="354.4" cy="2554.3" r="6.8"/><circle cx="362.4" cy="2553.1" r="6.8"/><circle cx="370.3" cy="2551.9" r="6.8"/><circle cx="378.2" cy="2550.6" r="6.8"/><circle cx="386.1" cy="2549.4" r="6.8"/><circle cx="394.1" cy="2548.1" r="6.8"/><circle cx="402" cy="2546.9" r="6.8"/><circle cx="409.9" cy="2545.7" r="6.8"/><circle cx="417.8" cy="2544.5" r="6.8"/><circle cx="425.8" cy="2543.3" r="6.8"/><circle cx="433.7" cy="2542" r="6.8"/><circle cx="441.6" cy="2540.6" r="6.8"/><circle cx="449.5" cy="2539.1" r="6.8"/><circle cx="457.5" cy="2537.6" r="6.8"/><circle cx="465.4" cy="2535.9" r="6.8"/><circle cx="473.3" cy="2534.1" r="6.8"/><circle cx="481.2" cy="2532.1" r="6.8"/><circle cx="489.2" cy="2529.9" r="6.8"/><circle cx="497.1" cy="2527.6" r="6.8"/><circle cx="505" cy="2525" r="6.8"/><circle cx="512.9" cy="2522.2" r="6.8"/><circle cx="520.9" cy="2519.2" r="6.8"/><circle cx="528.8" cy="2515.9" r="6.8"/><circle cx="536.7" cy="2512.3" r="6.8"/><circle cx="544.6" cy="2508.5" r="6.8"/><circle cx="552.6" cy="2504.5" r="6.8"/><circle cx="560.5" cy="2498.2" r="6.8"/><circle cx="568.4" cy="2488.6" r="6.8"/><circle cx="576.4" cy="2480.8" r="6.8"/><circle cx="584.3" cy="2477.5" r="6.8"/><circle cx="592.2" cy="2474.8" r="6.8"/><circle cx="600.1" cy="2471.8" r="6.8"/><circle cx="608.1" cy="2468" r="6.8"/><circle cx="616" cy="2464" r="6.8"/><circle cx="623.9" cy="2459.9" r="6.8"/><circle cx="631.8" cy="2455.1" r="6.8"/><circle cx="639.8" cy="2449.5" r="6.8"/><circle cx="647.7" cy="2444.7" r="6.8"/><circle cx="655.6" cy="2440.2" r="6.8"/><circle cx="663.5" cy="2435.7" r="6.8"/><circle cx="671.5" cy="2431.2" r="6.8"/><circle cx="679.4" cy="2426.6" r="6.8"/><circle cx="687.3" cy="2422.4" r="6.8"/><circle cx="695.2" cy="2419.4" r="6.8"/><circle cx="703.2" cy="2416.5" r="6.8"/><circle cx="711.1" cy="2412.2" r="6.8"/><circle cx="719" cy="2406.5" r="6.8"/><circle cx="726.9" cy="2400.5" r="6.8"/><circle cx="734.9" cy="2394.3" r="6.8"/><circle cx="742.8" cy="2387.8" r="6.8"/><circle cx="750.7" cy="2381" r="6.8"/><circle cx="758.6" cy="2373.9" r="6.8"/><circle cx="766.6" cy="2366.5" r="6.8"/><circle cx="774.5" cy="2358.8" r="6.8"/><circle cx="782.4" cy="2350.8" r="6.8"/><circle cx="790.3" cy="2342.5" r="6.8"/><circle cx="798.3" cy="2334" r="6.8"/><circle cx="806.2" cy="2325.1" r="6.8"/><circle cx="814.1" cy="2315.9" r="6.8"/><circle cx="822" cy="2306.5" r="6.8"/><circle cx="830" cy="2296.7" r="6.8"/><circle cx="837.9" cy="2286.6" r="6.8"/><circle cx="845.8" cy="2276.1" r="6.8"/><circle cx="853.7" cy="2265.3" r="6.8"/></g>
<path d="M188 2577.2 L204.6 2575.7 L221.3 2574.2 L237.9 2572.5 L254.6 2570.7 L271.2 2568.8 L287.9 2566.7 L304.5 2564.5 L321.1 2562.1 L337.8 2559.6 L354.4 2556.9 L371.1 2553.9 L387.7 2550.8 L404.4 2547.4 L421 2543.8 L437.7 2539.9 L454.3 2535.8 L470.9 2531.3 L487.6 2526.5 L504.2 2521.4 L520.9 2515.9 L537.5 2510 L554.2 2503.7 L570.8 2496.9 L587.4 2489.6 L604.1 2481.8 L620.7 2473.4 L637.4 2464.4 L654 2454.8 L670.7 2444.5 L687.3 2433.4 L704 2421.5 L720.6 2408.8 L737.2 2395.1 L753.9 2380.4 L770.5 2364.7 L787.2 2347.9 L803.8 2329.8 L820.5 2310.4 L837.1 2289.6 L853.7 2267.3" fill="none" stroke="#37004A" stroke-width="4.5" stroke-linecap="round" stroke-linejoin="round"/>
<g fill="#3A004E" fill-opacity="0.52" stroke="#3A004E" stroke-opacity="0.25" stroke-width="1.0"><circle cx="188" cy="2577.2" r="6.8"/><circle cx="195.9" cy="2576.3" r="6.8"/><circle cx="203.9" cy="2575.4" r="6.8"/><circle cx="211.8" cy="2574.5" r="6.8"/><circle cx="219.7" cy="2573.6" r="6.8"/><circle cx="227.6" cy="2572.8" r="6.8"/><circle cx="235.6" cy="2571.9" r="6.8"/><circle cx="243.5" cy="2571.1" r="6.8"/><circle cx="251.4" cy="2570.3" r="6.8"/><circle cx="259.3" cy="2569.5" r="6.8"/><circle cx="267.3" cy="2568.8" r="6.8"/><circle cx="275.2" cy="2568.1" r="6.8"/><circle cx="283.1" cy="2567.3" r="6.8"/><circle cx="291" cy="2566.5" r="6.8"/><circle cx="299" cy="2565.8" r="6.8"/><circle cx="306.9" cy="2565" r="6.8"/><circle cx="314.8" cy="2564.2" r="6.8"/><circle cx="322.7" cy="2563.3" r="6.8"/><circle cx="330.7" cy="2562.5" r="6.8"/><circle cx="338.6" cy="2561.6" r="6.8"/><circle cx="346.5" cy="2560.7" r="6.8"/><circle cx="354.4" cy="2559.7" r="6.8"/><circle cx="362.4" cy="2558.7" r="6.8"/><circle cx="370.3" cy="2557.7" r="6.8"/><circle cx="378.2" cy="2556.6" r="6.8"/><circle cx="386.1" cy="2555.6" r="6.8"/><circle cx="394.1" cy="2554.6" r="6.8"/><circle cx="402" cy="2553.5" r="6.8"/><circle cx="409.9" cy="2552.5" r="6.8"/><circle cx="417.8" cy="2551.5" r="6.8"/><circle cx="425.8" cy="2550.5" r="6.8"/><circle cx="433.7" cy="2549.4" r="6.8"/><circle cx="441.6" cy="2548.2" r="6.8"/><circle cx="449.5" cy="2547" r="6.8"/><circle cx="457.5" cy="2545.6" r="6.8"/><circle cx="465.4" cy="2544.2" r="6.8"/><circle cx="473.3" cy="2542.6" r="6.8"/><circle cx="481.2" cy="2540.8" r="6.8"/><circle cx="489.2" cy="2538.8" r="6.8"/><circle cx="497.1" cy="2536.7" r="6.8"/><circle cx="505" cy="2534.3" r="6.8"/><circle cx="512.9" cy="2531.6" r="6.8"/><circle cx="520.9" cy="2528.7" r="6.8"/><circle cx="528.8" cy="2525.5" r="6.8"/><circle cx="536.7" cy="2522" r="6.8"/><circle cx="544.6" cy="2518.4" r="6.8"/><circle cx="552.6" cy="2514.4" r="6.8"/><circle cx="560.5" cy="2510.3" r="6.8"/><circle cx="568.4" cy="2505.3" r="6.8"/><circle cx="576.4" cy="2497.9" r="6.8"/><circle cx="584.3" cy="2490.3" r="6.8"/><circle cx="592.2" cy="2484.8" r="6.8"/><circle cx="600.1" cy="2481.8" r="6.8"/><circle cx="608.1" cy="2479" r="6.8"/><circle cx="616" cy="2475.7" r="6.8"/><circle cx="623.9" cy="2471.4" r="6.8"/><circle cx="631.8" cy="2466.6" r="6.8"/><circle cx="639.8" cy="2461.7" r="6.8"/><circle cx="647.7" cy="2456.8" r="6.8"/><circle cx="655.6" cy="2452.3" r="6.8"/><circle cx="663.5" cy="2447.7" r="6.8"/><circle cx="671.5" cy="2443.2" r="6.8"/><circle cx="679.4" cy="2438.6" r="6.8"/><circle cx="687.3" cy="2433.8" r="6.8"/><circle cx="695.2" cy="2429.4" r="6.8"/><circle cx="703.2" cy="2425.4" r="6.8"/><circle cx="711.1" cy="2421.1" r="6.8"/><circle cx="719" cy="2416.1" r="6.8"/><circle cx="726.9" cy="2410.1" r="6.8"/><circle cx="734.9" cy="2403.7" r="6.8"/><circle cx="742.8" cy="2397" r="6.8"/><circle cx="750.7" cy="2390" r="6.8"/><circle cx="758.6" cy="2382.7" r="6.8"/><circle cx="766.6" cy="2375.2" r="6.8"/><circle cx="774.5" cy="2367.3" r="6.8"/><circle cx="782.4" cy="2359.1" r="6.8"/><circle cx="790.3" cy="2350.7" r="6.8"/><circle cx="798.3" cy="2341.9" r="6.8"/><circle cx="806.2" cy="2332.8" r="6.8"/><circle cx="814.1" cy="2323.3" r="6.8"/><circle cx="822" cy="2313.4" r="6.8"/><circle cx="830" cy="2303.2" r="6.8"/><circle cx="837.9" cy="2292.6" r="6.8"/><circle cx="845.8" cy="2281.5" r="6.8"/><circle cx="853.7" cy="2270" r="6.8"/></g>
<path d="M188 2577.2 L204.6 2576 L221.3 2574.8 L237.9 2573.4 L254.6 2572 L271.2 2570.4 L287.9 2568.7 L304.5 2566.8 L321.1 2564.8 L337.8 2562.7 L354.4 2560.3 L371.1 2557.8 L387.7 2555.1 L404.4 2552.1 L421 2548.9 L437.7 2545.5 L454.3 2541.8 L470.9 2537.7 L487.6 2533.4 L504.2 2528.7 L520.9 2523.6 L537.5 2518.1 L554.2 2512.2 L570.8 2505.8 L587.4 2498.8 L604.1 2491.3 L620.7 2483.2 L637.4 2474.5 L654 2465 L670.7 2454.8 L687.3 2443.7 L704 2431.8 L720.6 2418.9 L737.2 2404.9 L753.9 2389.8 L770.5 2373.5 L787.2 2355.9 L803.8 2336.9 L820.5 2316.3 L837.1 2294.1 L853.7 2270" fill="none" stroke="#37004A" stroke-width="4.5" stroke-linecap="round" stroke-linejoin="round"/>
<g fill="#3A004E" fill-opacity="0.52" stroke="#3A004E" stroke-opacity="0.25" stroke-width="1.0"><circle cx="188" cy="2577.2" r="6.8"/><circle cx="195.9" cy="2576.3" r="6.8"/><circle cx="203.9" cy="2575.4" r="6.8"/><circle cx="211.8" cy="2574.5" r="6.8"/><circle cx="219.7" cy="2573.7" r="6.8"/><circle cx="227.6" cy="2572.8" r="6.8"/><circle cx="235.6" cy="2572" r="6.8"/><circle cx="243.5" cy="2571.2" r="6.8"/><circle cx="251.4" cy="2570.4" r="6.8"/><circle cx="259.3" cy="2569.7" r="6.8"/><circle cx="267.3" cy="2569" r="6.8"/><circle cx="275.2" cy="2568.2" r="6.8"/><circle cx="283.1" cy="2567.5" r="6.8"/><circle cx="291" cy="2566.8" r="6.8"/><circle cx="299" cy="2566.1" r="6.8"/><circle cx="306.9" cy="2565.3" r="6.8"/><circle cx="314.8" cy="2564.6" r="6.8"/><circle cx="322.7" cy="2563.8" r="6.8"/><circle cx="330.7" cy="2563" r="6.8"/><circle cx="338.6" cy="2562.2" r="6.8"/><circle cx="346.5" cy="2561.4" r="6.8"/><circle cx="354.4" cy="2560.5" r="6.8"/><circle cx="362.4" cy="2559.6" r="6.8"/><circle cx="370.3" cy="2558.7" r="6.8"/><circle cx="378.2" cy="2557.8" r="6.8"/><circle cx="386.1" cy="2556.9" r="6.8"/><circle cx="394.1" cy="2556" r="6.8"/><circle cx="402" cy="2555.3" r="6.8"/><circle cx="409.9" cy="2554.6" r="6.8"/><circle cx="417.8" cy="2553.9" r="6.8"/><circle cx="425.8" cy="2553.2" r="6.8"/><circle cx="433.7" cy="2552.5" r="6.8"/><circle cx="441.6" cy="2551.7" r="6.8"/><circle cx="449.5" cy="2550.9" r="6.8"/><circle cx="457.5" cy="2549.9" r="6.8"/><circle cx="465.4" cy="2548.8" r="6.8"/><circle cx="473.3" cy="2547.6" r="6.8"/><circle cx="481.2" cy="2546.2" r="6.8"/><circle cx="489.2" cy="2544.6" r="6.8"/><circle cx="497.1" cy="2542.8" r="6.8"/><circle cx="505" cy="2540.8" r="6.8"/><circle cx="512.9" cy="2538.6" r="6.8"/><circle cx="520.9" cy="2536.3" r="6.8"/><circle cx="528.8" cy="2533.9" r="6.8"/><circle cx="536.7" cy="2531.4" r="6.8"/><circle cx="544.6" cy="2528.7" r="6.8"/><circle cx="552.6" cy="2525.9" r="6.8"/><circle cx="560.5" cy="2523" r="6.8"/><circle cx="568.4" cy="2519.9" r="6.8"/><circle cx="576.4" cy="2516.2" r="6.8"/><circle cx="584.3" cy="2512.3" r="6.8"/><circle cx="592.2" cy="2508.2" r="6.8"/><circle cx="600.1" cy="2504.1" r="6.8"/><circle cx="608.1" cy="2500.1" r="6.8"/><circle cx="616" cy="2496.1" r="6.8"/><circle cx="623.9" cy="2492" r="6.8"/><circle cx="631.8" cy="2487.9" r="6.8"/><circle cx="639.8" cy="2483.6" r="6.8"/><circle cx="647.7" cy="2479.1" r="6.8"/><circle cx="655.6" cy="2474.2" r="6.8"/><circle cx="663.5" cy="2469" r="6.8"/><circle cx="671.5" cy="2463.8" r="6.8"/><circle cx="679.4" cy="2458.7" r="6.8"/><circle cx="687.3" cy="2453.8" r="6.8"/><circle cx="695.2" cy="2449.3" r="6.8"/><circle cx="703.2" cy="2444.7" r="6.8"/><circle cx="711.1" cy="2440" r="6.8"/><circle cx="719" cy="2435.3" r="6.8"/><circle cx="726.9" cy="2431.4" r="6.8"/><circle cx="734.9" cy="2428.1" r="6.8"/><circle cx="742.8" cy="2424.6" r="6.8"/><circle cx="750.7" cy="2420.2" r="6.8"/><circle cx="758.6" cy="2415.2" r="6.8"/><circle cx="766.6" cy="2409.9" r="6.8"/><circle cx="774.5" cy="2404.4" r="6.8"/><circle cx="782.4" cy="2398.6" r="6.8"/><circle cx="790.3" cy="2392.5" r="6.8"/><circle cx="798.3" cy="2386.1" r="6.8"/><circle cx="806.2" cy="2379.5" r="6.8"/><circle cx="814.1" cy="2372.7" r="6.8"/><circle cx="822" cy="2365.6" r="6.8"/><circle cx="830" cy="2358.2" r="6.8"/><circle cx="837.9" cy="2350.5" r="6.8"/><circle cx="845.8" cy="2342.5" r="6.8"/><circle cx="853.7" cy="2334.2" r="6.8"/></g>
<path d="M188 2577.2 L204.6 2576.1 L221.3 2574.8 L237.9 2573.5 L254.6 2572.1 L271.2 2570.6 L287.9 2568.9 L304.5 2567.2 L321.1 2565.3 L337.8 2563.3 L354.4 2561.1 L371.1 2558.8 L387.7 2556.3 L404.4 2553.7 L421 2550.8 L437.7 2547.7 L454.3 2544.5 L470.9 2540.9 L487.6 2537.1 L504.2 2533.1 L520.9 2528.7 L537.5 2524.1 L554.2 2519.1 L570.8 2513.7 L587.4 2508 L604.1 2501.8 L620.7 2495.2 L637.4 2488.1 L654 2480.5 L670.7 2472.3 L687.3 2463.6 L704 2454.2 L720.6 2444.1 L737.2 2433.3 L753.9 2421.7 L770.5 2409.3 L787.2 2396 L803.8 2381.7 L820.5 2366.3 L837.1 2349.9 L853.7 2332.3" fill="none" stroke="#37004A" stroke-width="4.5" stroke-linecap="round" stroke-linejoin="round"/>
<g fill="#30358E" fill-opacity="0.52" stroke="#30358E" stroke-opacity="0.25" stroke-width="1.0"><circle cx="188" cy="2577.2" r="6.8"/><circle cx="195.9" cy="2573.6" r="6.8"/><circle cx="203.9" cy="2570" r="6.8"/><circle cx="211.8" cy="2566.2" r="6.8"/><circle cx="219.7" cy="2562.5" r="6.8"/><circle cx="227.6" cy="2558.7" r="6.8"/><circle cx="235.6" cy="2554.8" r="6.8"/><circle cx="243.5" cy="2550.7" r="6.8"/><circle cx="251.4" cy="2546.6" r="6.8"/><circle cx="259.3" cy="2542.8" r="6.8"/><circle cx="267.3" cy="2539.7" r="6.8"/><circle cx="275.2" cy="2536.7" r="6.8"/><circle cx="283.1" cy="2533.5" r="6.8"/><circle cx="291" cy="2529.5" r="6.8"/><circle cx="299" cy="2524.9" r="6.8"/><circle cx="306.9" cy="2519.7" r="6.8"/><circle cx="314.8" cy="2513.7" r="6.8"/><circle cx="322.7" cy="2506.4" r="6.8"/><circle cx="330.7" cy="2498.7" r="6.8"/><circle cx="338.6" cy="2491.2" r="6.8"/><circle cx="346.5" cy="2480.5" r="6.8"/><circle cx="354.4" cy="2467.4" r="6.8"/><circle cx="362.4" cy="2452" r="6.8"/><circle cx="370.3" cy="2430.9" r="6.8"/><circle cx="378.2" cy="2402.4" r="6.8"/><circle cx="386.1" cy="2368.4" r="6.8"/><circle cx="394.1" cy="2321.5" r="6.8"/><circle cx="402" cy="2264.1" r="6.8"/></g>
<path d="M188 2577.2 L193.3 2576.9 L198.7 2576.6 L204 2576.3 L209.4 2575.9 L214.7 2575.5 L220 2575 L225.4 2574.4 L230.7 2573.8 L236 2573.1 L241.4 2572.3 L246.7 2571.4 L252.1 2570.4 L257.4 2569.2 L262.7 2567.9 L268.1 2566.4 L273.4 2564.7 L278.7 2562.8 L284.1 2560.6 L289.4 2558.2 L294.8 2555.4 L300.1 2552.3 L305.4 2548.8 L310.8 2544.8 L316.1 2540.2 L321.4 2535.1 L326.8 2529.3 L332.1 2522.8 L337.5 2515.3 L342.8 2507 L348.1 2497.5 L353.5 2486.7 L358.8 2474.6 L364.1 2460.8 L369.5 2445.2 L374.8 2427.6 L380.2 2407.7 L385.5 2385.2 L390.8 2359.7 L396.2 2330.8 L401.5 2298.2" fill="none" stroke="#312F79" stroke-width="4.5" stroke-linecap="round" stroke-linejoin="round"/>
<g fill="#30358E" fill-opacity="0.52" stroke="#30358E" stroke-opacity="0.25" stroke-width="1.0"><circle cx="188" cy="2577.2" r="6.8"/><circle cx="195.9" cy="2574.3" r="6.8"/><circle cx="203.9" cy="2571.6" r="6.8"/><circle cx="211.8" cy="2569" r="6.8"/><circle cx="219.7" cy="2566.6" r="6.8"/><circle cx="227.6" cy="2564.2" r="6.8"/><circle cx="235.6" cy="2562" r="6.8"/><circle cx="243.5" cy="2559.9" r="6.8"/><circle cx="251.4" cy="2557.9" r="6.8"/><circle cx="259.3" cy="2556" r="6.8"/><circle cx="267.3" cy="2554.4" r="6.8"/><circle cx="275.2" cy="2553" r="6.8"/><circle cx="283.1" cy="2551.4" r="6.8"/><circle cx="291" cy="2549.4" r="6.8"/><circle cx="299" cy="2547.2" r="6.8"/><circle cx="306.9" cy="2544.5" r="6.8"/><circle cx="314.8" cy="2541.4" r="6.8"/><circle cx="322.7" cy="2537.4" r="6.8"/><circle cx="330.7" cy="2532.9" r="6.8"/><circle cx="338.6" cy="2527.9" r="6.8"/><circle cx="346.5" cy="2522.5" r="6.8"/><circle cx="354.4" cy="2518.5" r="6.8"/><circle cx="362.4" cy="2511.8" r="6.8"/><circle cx="370.3" cy="2503.9" r="6.8"/><circle cx="378.2" cy="2491.2" r="6.8"/><circle cx="386.1" cy="2475.4" r="6.8"/><circle cx="394.1" cy="2451.9" r="6.8"/><circle cx="402" cy="2416.7" r="6.8"/><circle cx="409.9" cy="2373.6" r="6.8"/><circle cx="417.8" cy="2315.9" r="6.8"/><circle cx="425.8" cy="2245.9" r="6.8"/></g>
<path d="M188 2577.2 L193.9 2577.2 L199.9 2577.1 L205.8 2577.1 L211.7 2577 L217.6 2576.9 L223.6 2576.8 L229.5 2576.7 L235.4 2576.6 L241.3 2576.4 L247.3 2576.2 L253.2 2576 L259.1 2575.7 L265.1 2575.4 L271 2575 L276.9 2574.5 L282.8 2573.9 L288.8 2573.2 L294.7 2572.3 L300.6 2571.3 L306.6 2570.1 L312.5 2568.5 L318.4 2566.7 L324.3 2564.5 L330.3 2561.9 L336.2 2558.7 L342.1 2554.9 L348 2550.3 L354 2544.7 L359.9 2538 L365.8 2529.9 L371.8 2520.1 L377.7 2508.3 L383.6 2494.1 L389.5 2477 L395.5 2456.4 L401.4 2431.5 L407.3 2401.5 L413.2 2365.4 L419.2 2321.8 L425.1 2269.2" fill="none" stroke="#312F79" stroke-width="4.5" stroke-linecap="round" stroke-linejoin="round"/>
<g fill="#30358E" fill-opacity="0.52" stroke="#30358E" stroke-opacity="0.25" stroke-width="1.0"><circle cx="188" cy="2577.2" r="6.8"/><circle cx="195.9" cy="2575.3" r="6.8"/><circle cx="203.9" cy="2573.4" r="6.8"/><circle cx="211.8" cy="2571.7" r="6.8"/><circle cx="219.7" cy="2570.1" r="6.8"/><circle cx="227.6" cy="2568.6" r="6.8"/><circle cx="235.6" cy="2567.3" r="6.8"/><circle cx="243.5" cy="2566.1" r="6.8"/><circle cx="251.4" cy="2565.1" r="6.8"/><circle cx="259.3" cy="2564.1" r="6.8"/><circle cx="267.3" cy="2563.2" r="6.8"/><circle cx="275.2" cy="2562.3" r="6.8"/><circle cx="283.1" cy="2561.3" r="6.8"/><circle cx="291" cy="2560.4" r="6.8"/><circle cx="299" cy="2559.4" r="6.8"/><circle cx="306.9" cy="2558.4" r="6.8"/><circle cx="314.8" cy="2557.4" r="6.8"/><circle cx="322.7" cy="2556.4" r="6.8"/><circle cx="330.7" cy="2555.4" r="6.8"/><circle cx="338.6" cy="2554.5" r="6.8"/><circle cx="346.5" cy="2553.6" r="6.8"/><circle cx="354.4" cy="2552.7" r="6.8"/><circle cx="362.4" cy="2551.8" r="6.8"/><circle cx="370.3" cy="2550.7" r="6.8"/><circle cx="378.2" cy="2549.5" r="6.8"/><circle cx="386.1" cy="2548" r="6.8"/><circle cx="394.1" cy="2546.2" r="6.8"/><circle cx="402" cy="2543.5" r="6.8"/><circle cx="409.9" cy="2538" r="6.8"/><circle cx="417.8" cy="2526" r="6.8"/><circle cx="425.8" cy="2509.4" r="6.8"/><circle cx="433.7" cy="2483.3" r="6.8"/><circle cx="441.6" cy="2453.1" r="6.8"/><circle cx="449.5" cy="2409.9" r="6.8"/><circle cx="457.5" cy="2358.1" r="6.8"/><circle cx="465.4" cy="2295.3" r="6.8"/><circle cx="473.3" cy="2213" r="6.8"/></g>
<path d="M188 2577.2 L195.1 2577.2 L202.3 2577.2 L209.4 2577.2 L216.5 2577.2 L223.6 2577.2 L230.8 2577.2 L237.9 2577.1 L245 2577.1 L252.2 2577.1 L259.3 2577.1 L266.4 2577 L273.5 2577 L280.7 2576.9 L287.8 2576.8 L294.9 2576.7 L302.1 2576.5 L309.2 2576.3 L316.3 2576.1 L323.4 2575.7 L330.6 2575.3 L337.7 2574.7 L344.8 2574 L351.9 2573 L359.1 2571.8 L366.2 2570.2 L373.3 2568 L380.5 2565.3 L387.6 2561.7 L394.7 2557.1 L401.8 2551 L409 2543.2 L416.1 2533 L423.2 2519.7 L430.4 2502.5 L437.5 2480.1 L444.6 2450.9 L451.7 2413 L458.9 2363.8 L466 2299.8 L473.1 2216.5" fill="none" stroke="#312F79" stroke-width="4.5" stroke-linecap="round" stroke-linejoin="round"/>
<g fill="#1F6E8C" fill-opacity="0.52" stroke="#1F6E8C" stroke-opacity="0.25" stroke-width="1.0"><circle cx="188" cy="2577.2" r="6.8"/><circle cx="195.9" cy="2567.5" r="6.8"/><circle cx="203.9" cy="2558.2" r="6.8"/><circle cx="211.8" cy="2549.5" r="6.8"/><circle cx="219.7" cy="2541.2" r="6.8"/><circle cx="227.6" cy="2533.3" r="6.8"/><circle cx="235.6" cy="2525.7" r="6.8"/><circle cx="243.5" cy="2518.4" r="6.8"/><circle cx="251.4" cy="2511.4" r="6.8"/><circle cx="259.3" cy="2503.5" r="6.8"/><circle cx="267.3" cy="2494.7" r="6.8"/><circle cx="275.2" cy="2485.1" r="6.8"/><circle cx="283.1" cy="2474.6" r="6.8"/><circle cx="291" cy="2463.1" r="6.8"/><circle cx="299" cy="2449.8" r="6.8"/><circle cx="306.9" cy="2434.5" r="6.8"/><circle cx="314.8" cy="2417.6" r="6.8"/><circle cx="322.7" cy="2398.3" r="6.8"/><circle cx="330.7" cy="2375.1" r="6.8"/><circle cx="338.6" cy="2342.2" r="6.8"/><circle cx="346.5" cy="2305.6" r="6.8"/><circle cx="354.4" cy="2258.5" r="6.8"/><circle cx="362.4" cy="2210.7" r="6.8"/></g>
<path d="M188 2577.2 L192.3 2575.7 L196.7 2574.1 L201 2572.4 L205.4 2570.5 L209.7 2568.6 L214.1 2566.4 L218.4 2564.1 L222.7 2561.6 L227.1 2559 L231.4 2556.1 L235.8 2553 L240.1 2549.7 L244.5 2546.1 L248.8 2542.3 L253.1 2538.1 L257.5 2533.7 L261.8 2528.9 L266.2 2523.8 L270.5 2518.2 L274.9 2512.3 L279.2 2505.9 L283.5 2499 L287.9 2491.6 L292.2 2483.6 L296.6 2475 L300.9 2465.8 L305.3 2455.8 L309.6 2445.2 L313.9 2433.7 L318.3 2421.3 L322.6 2408 L327 2393.7 L331.3 2378.3 L335.7 2361.7 L340 2343.9 L344.3 2324.7 L348.7 2304.1 L353 2281.9 L357.4 2258.1 L361.7 2232.4" fill="none" stroke="#22657E" stroke-width="4.5" stroke-linecap="round" stroke-linejoin="round"/>
<g fill="#1F6E8C" fill-opacity="0.52" stroke="#1F6E8C" stroke-opacity="0.25" stroke-width="1.0"><circle cx="188" cy="2577.2" r="6.8"/><circle cx="195.9" cy="2568.4" r="6.8"/><circle cx="203.9" cy="2559.8" r="6.8"/><circle cx="211.8" cy="2551.4" r="6.8"/><circle cx="219.7" cy="2543.2" r="6.8"/><circle cx="227.6" cy="2535.2" r="6.8"/><circle cx="235.6" cy="2527.7" r="6.8"/><circle cx="243.5" cy="2520.9" r="6.8"/><circle cx="251.4" cy="2514.4" r="6.8"/><circle cx="259.3" cy="2507.1" r="6.8"/><circle cx="267.3" cy="2498.8" r="6.8"/><circle cx="275.2" cy="2489.6" r="6.8"/><circle cx="283.1" cy="2479.5" r="6.8"/><circle cx="291" cy="2468.3" r="6.8"/><circle cx="299" cy="2455.4" r="6.8"/><circle cx="306.9" cy="2440.5" r="6.8"/><circle cx="314.8" cy="2423.9" r="6.8"/><circle cx="322.7" cy="2405.2" r="6.8"/><circle cx="330.7" cy="2383" r="6.8"/><circle cx="338.6" cy="2352.9" r="6.8"/><circle cx="346.5" cy="2317.5" r="6.8"/><circle cx="354.4" cy="2274.4" r="6.8"/><circle cx="362.4" cy="2216.7" r="6.8"/></g>
<path d="M188 2577.2 L192.4 2575.8 L196.7 2574.2 L201.1 2572.6 L205.4 2570.8 L209.8 2568.9 L214.1 2566.9 L218.5 2564.7 L222.8 2562.3 L227.2 2559.7 L231.5 2557 L235.9 2554 L240.2 2550.8 L244.6 2547.4 L248.9 2543.7 L253.3 2539.8 L257.6 2535.5 L262 2530.9 L266.3 2526 L270.7 2520.7 L275 2515 L279.4 2508.8 L283.7 2502.2 L288.1 2495.1 L292.4 2487.4 L296.8 2479.2 L301.1 2470.3 L305.5 2460.8 L309.8 2450.5 L314.2 2439.5 L318.5 2427.6 L322.9 2414.8 L327.2 2401 L331.6 2386.2 L335.9 2370.3 L340.3 2353.2 L344.6 2334.7 L349 2314.9 L353.3 2293.5 L357.7 2270.6 L362 2245.9" fill="none" stroke="#22657E" stroke-width="4.5" stroke-linecap="round" stroke-linejoin="round"/>
<g fill="#1F6E8C" fill-opacity="0.52" stroke="#1F6E8C" stroke-opacity="0.25" stroke-width="1.0"><circle cx="188" cy="2577.2" r="6.8"/><circle cx="195.9" cy="2573.9" r="6.8"/><circle cx="203.9" cy="2570.6" r="6.8"/><circle cx="211.8" cy="2567.3" r="6.8"/><circle cx="219.7" cy="2564" r="6.8"/><circle cx="227.6" cy="2560.7" r="6.8"/><circle cx="235.6" cy="2557.4" r="6.8"/><circle cx="243.5" cy="2554.2" r="6.8"/><circle cx="251.4" cy="2551.1" r="6.8"/><circle cx="259.3" cy="2548" r="6.8"/><circle cx="267.3" cy="2544.8" r="6.8"/><circle cx="275.2" cy="2541.4" r="6.8"/><circle cx="283.1" cy="2537.6" r="6.8"/><circle cx="291" cy="2533.5" r="6.8"/><circle cx="299" cy="2529.1" r="6.8"/><circle cx="306.9" cy="2524.4" r="6.8"/><circle cx="314.8" cy="2519.1" r="6.8"/><circle cx="322.7" cy="2513" r="6.8"/><circle cx="330.7" cy="2505.9" r="6.8"/><circle cx="338.6" cy="2496.9" r="6.8"/><circle cx="346.5" cy="2485.2" r="6.8"/><circle cx="354.4" cy="2470.2" r="6.8"/><circle cx="362.4" cy="2448.2" r="6.8"/><circle cx="370.3" cy="2418.6" r="6.8"/><circle cx="378.2" cy="2379" r="6.8"/><circle cx="386.1" cy="2326.8" r="6.8"/><circle cx="394.1" cy="2274.3" r="6.8"/><circle cx="402" cy="2210.6" r="6.8"/></g>
<path d="M188 2577.2 L193.3 2577 L198.7 2576.9 L204 2576.6 L209.4 2576.4 L214.7 2576.1 L220 2575.8 L225.4 2575.4 L230.7 2574.9 L236 2574.4 L241.4 2573.8 L246.7 2573.2 L252.1 2572.4 L257.4 2571.4 L262.7 2570.4 L268.1 2569.1 L273.4 2567.7 L278.7 2566.1 L284.1 2564.2 L289.4 2561.9 L294.8 2559.4 L300.1 2556.4 L305.4 2553 L310.8 2549 L316.1 2544.5 L321.4 2539.2 L326.8 2533 L332.1 2525.9 L337.5 2517.7 L342.8 2508.2 L348.1 2497.2 L353.5 2484.5 L358.8 2469.7 L364.1 2452.7 L369.5 2433 L374.8 2410.2 L380.2 2383.8 L385.5 2353.2 L390.8 2317.9 L396.2 2276.9 L401.5 2229.6" fill="none" stroke="#22657E" stroke-width="4.5" stroke-linecap="round" stroke-linejoin="round"/>
<g fill="#1FA075" fill-opacity="0.52" stroke="#1FA075" stroke-opacity="0.25" stroke-width="1.0"><circle cx="188" cy="2577.2" r="6.8"/><circle cx="195.9" cy="2571.3" r="6.8"/><circle cx="203.9" cy="2565.5" r="6.8"/><circle cx="211.8" cy="2559.9" r="6.8"/><circle cx="219.7" cy="2554.5" r="6.8"/><circle cx="227.6" cy="2549.2" r="6.8"/><circle cx="235.6" cy="2544" r="6.8"/><circle cx="243.5" cy="2539" r="6.8"/><circle cx="251.4" cy="2534.2" r="6.8"/><circle cx="259.3" cy="2529.6" r="6.8"/><circle cx="267.3" cy="2525.6" r="6.8"/><circle cx="275.2" cy="2521.7" r="6.8"/><circle cx="283.1" cy="2517.7" r="6.8"/><circle cx="291" cy="2513.5" r="6.8"/><circle cx="299" cy="2509.2" r="6.8"/><circle cx="306.9" cy="2504.3" r="6.8"/><circle cx="314.8" cy="2498.1" r="6.8"/><circle cx="322.7" cy="2490.1" r="6.8"/><circle cx="330.7" cy="2480.7" r="6.8"/><circle cx="338.6" cy="2470.2" r="6.8"/><circle cx="346.5" cy="2457.1" r="6.8"/><circle cx="354.4" cy="2441.3" r="6.8"/><circle cx="362.4" cy="2420.7" r="6.8"/><circle cx="370.3" cy="2391.7" r="6.8"/><circle cx="378.2" cy="2358" r="6.8"/><circle cx="386.1" cy="2311" r="6.8"/><circle cx="394.1" cy="2247.1" r="6.8"/></g>
<path d="M188 2577.2 L193.2 2576.8 L198.3 2576.4 L203.5 2576 L208.6 2575.4 L213.8 2574.9 L219 2574.2 L224.1 2573.5 L229.3 2572.6 L234.4 2571.7 L239.6 2570.7 L244.8 2569.5 L249.9 2568.3 L255.1 2566.8 L260.2 2565.2 L265.4 2563.4 L270.6 2561.3 L275.7 2559 L280.9 2556.5 L286 2553.6 L291.2 2550.4 L296.4 2546.8 L301.5 2542.7 L306.7 2538.2 L311.8 2533.1 L317 2527.5 L322.1 2521.1 L327.3 2514 L332.5 2505.9 L337.6 2497 L342.8 2486.9 L347.9 2475.7 L353.1 2463.1 L358.3 2448.9 L363.4 2433.1 L368.6 2415.3 L373.7 2395.4 L378.9 2373.1 L384.1 2348.1 L389.2 2320.1 L394.4 2288.7" fill="none" stroke="#209D75" stroke-width="4.5" stroke-linecap="round" stroke-linejoin="round"/>
<g fill="#1FA075" fill-opacity="0.52" stroke="#1FA075" stroke-opacity="0.25" stroke-width="1.0"><circle cx="188" cy="2577.2" r="6.8"/><circle cx="195.9" cy="2566.4" r="6.8"/><circle cx="203.9" cy="2556.8" r="6.8"/><circle cx="211.8" cy="2548.6" r="6.8"/><circle cx="219.7" cy="2541.6" r="6.8"/><circle cx="227.6" cy="2534.9" r="6.8"/><circle cx="235.6" cy="2527.8" r="6.8"/><circle cx="243.5" cy="2520.6" r="6.8"/><circle cx="251.4" cy="2513.3" r="6.8"/><circle cx="259.3" cy="2506" r="6.8"/><circle cx="267.3" cy="2499.1" r="6.8"/><circle cx="275.2" cy="2492.2" r="6.8"/><circle cx="283.1" cy="2484.7" r="6.8"/><circle cx="291" cy="2476.1" r="6.8"/><circle cx="299" cy="2466.4" r="6.8"/><circle cx="306.9" cy="2455.9" r="6.8"/><circle cx="314.8" cy="2444.1" r="6.8"/><circle cx="322.7" cy="2430.9" r="6.8"/><circle cx="330.7" cy="2413.9" r="6.8"/><circle cx="338.6" cy="2391.8" r="6.8"/><circle cx="346.5" cy="2365.5" r="6.8"/><circle cx="354.4" cy="2329.1" r="6.8"/><circle cx="362.4" cy="2284.8" r="6.8"/><circle cx="370.3" cy="2233.6" r="6.8"/></g>
<path d="M188 2577.2 L192.6 2576 L197.1 2574.7 L201.7 2573.3 L206.2 2571.8 L210.8 2570.2 L215.3 2568.4 L219.9 2566.5 L224.4 2564.4 L229 2562.2 L233.5 2559.8 L238.1 2557.2 L242.6 2554.4 L247.2 2551.4 L251.7 2548.2 L256.3 2544.6 L260.9 2540.9 L265.4 2536.8 L270 2532.3 L274.5 2527.6 L279.1 2522.4 L283.6 2516.8 L288.2 2510.8 L292.7 2504.3 L297.3 2497.3 L301.8 2489.8 L306.4 2481.6 L310.9 2472.8 L315.5 2463.3 L320 2453 L324.6 2441.9 L329.2 2430 L333.7 2417 L338.3 2403.1 L342.8 2388 L347.4 2371.8 L351.9 2354.2 L356.5 2335.3 L361 2314.8 L365.6 2292.7 L370.1 2268.9" fill="none" stroke="#209D75" stroke-width="4.5" stroke-linecap="round" stroke-linejoin="round"/>
<g fill="#1FA075" fill-opacity="0.52" stroke="#1FA075" stroke-opacity="0.25" stroke-width="1.0"><circle cx="188" cy="2577.2" r="6.8"/><circle cx="195.9" cy="2548.3" r="6.8"/><circle cx="203.9" cy="2530" r="6.8"/><circle cx="211.8" cy="2506.7" r="6.8"/><circle cx="219.7" cy="2487.3" r="6.8"/><circle cx="227.6" cy="2466.2" r="6.8"/><circle cx="235.6" cy="2445.2" r="6.8"/><circle cx="243.5" cy="2423.1" r="6.8"/><circle cx="251.4" cy="2400.8" r="6.8"/><circle cx="259.3" cy="2377.4" r="6.8"/><circle cx="267.3" cy="2351.3" r="6.8"/><circle cx="275.2" cy="2325.9" r="6.8"/><circle cx="283.1" cy="2299.4" r="6.8"/><circle cx="291" cy="2273.3" r="6.8"/><circle cx="299" cy="2241.9" r="6.8"/></g>
<path d="M188 2577.2 L190.8 2570 L193.6 2562.7 L196.3 2555.4 L199.1 2548.1 L201.9 2540.7 L204.7 2533.2 L207.4 2525.7 L210.2 2518.1 L213 2510.5 L215.8 2502.9 L218.5 2495.1 L221.3 2487.4 L224.1 2479.5 L226.9 2471.6 L229.6 2463.7 L232.4 2455.7 L235.2 2447.6 L238 2439.5 L240.7 2431.3 L243.5 2423.1 L246.3 2414.8 L249.1 2406.5 L251.8 2398.1 L254.6 2389.6 L257.4 2381.1 L260.2 2372.5 L262.9 2363.9 L265.7 2355.2 L268.5 2346.4 L271.3 2337.6 L274.1 2328.7 L276.8 2319.8 L279.6 2310.7 L282.4 2301.7 L285.2 2292.5 L287.9 2283.3 L290.7 2274.1 L293.5 2264.7 L296.3 2255.3 L299 2245.9" fill="none" stroke="#209D75" stroke-width="4.5" stroke-linecap="round" stroke-linejoin="round"/>
<g font-size="36" fill="#000">
<text x="159.4" y="2590.8" text-anchor="end">0</text>
<text x="159.4" y="2471.9" text-anchor="end">30</text>
<text x="159.4" y="2353" text-anchor="end">60</text>
<text x="159.4" y="2234.1" text-anchor="end">90</text>
<text x="159.4" y="2115.2" text-anchor="end">120</text>
<text x="188" y="2637.9" text-anchor="middle">0</text>
<text x="425.8" y="2637.9" text-anchor="middle">5</text>
<text x="663.5" y="2637.9" text-anchor="middle">10</text>
<text x="901.3" y="2637.9" text-anchor="middle">15</text>
</g>
<text x="544.6" y="2694" font-size="38.8" text-anchor="middle">Time (h)</text>
<text transform="translate(67.4 2339.4) rotate(-90)" font-size="38" text-anchor="middle">[Fe(II)] (µM)</text>
<text x="55" y="2140" font-size="34" font-weight="bold">iv.</text>
<text y="2141.2" font-size="32" font-weight="bold"><tspan x="207">pNAND-<tspan font-style="italic">mtrC</tspan>:</tspan>
<tspan x="422.5" fill="#209D75">–/–</tspan>
<tspan x="493.5" fill="#22657E">+/–</tspan>
<tspan x="562.5" fill="#312F79">–/+</tspan>
<tspan x="633.5" fill="#37004A">+/+</tspan>
</text>
</g>
<g>
<g fill="#1FA075" fill-opacity="0.55" stroke="#1FA075" stroke-opacity="0.25" stroke-width="1.0"><circle cx="1244" cy="492.2" r="11"/><circle cx="1255" cy="486.3" r="11"/><circle cx="1266" cy="491" r="11"/><circle cx="1314.2" cy="493.4" r="9.7"/><circle cx="1339.2" cy="486.3" r="9.7"/><circle cx="1328.2" cy="292.9" r="9.7"/><circle cx="1401.4" cy="481.5" r="9.7"/><circle cx="1401.4" cy="383.6" r="9.7"/><circle cx="1401.4" cy="97.2" r="9.7"/><circle cx="1462.6" cy="448.1" r="9.7"/><circle cx="1486.6" cy="436.1" r="9.7"/><circle cx="1474.6" cy="383.6" r="9.7"/></g>
<g stroke="#209D75" stroke-width="7.0" fill="none">
<path d="M1234.5 553.1 V491 H1275.5 V553.1" stroke-linejoin="miter"/>
<path d="M1255 493.4 V488.7 M1242 488.7 H1268 M1242 493.4 H1268" stroke-linecap="round" stroke-width="7.2"/>
<path d="M1307.7 553.1 V426.6 H1348.7 V553.1" stroke-linejoin="miter"/>
<path d="M1328.2 491 V359.8 M1315.2 359.8 H1341.2 M1315.2 491 H1341.2" stroke-linecap="round" stroke-width="7.2"/>
<path d="M1380.9 553.1 V323.9 H1421.9 V553.1" stroke-linejoin="miter"/>
<path d="M1401.4 436.1 V204.6 M1388.4 204.6 H1414.4 M1388.4 436.1 H1414.4" stroke-linecap="round" stroke-width="7.2"/>
<path d="M1454.1 553.1 V426.6 H1495.1 V553.1" stroke-linejoin="miter"/>
<path d="M1474.6 443.3 V402.7 M1461.6 402.7 H1487.6 M1461.6 443.3 H1487.6" stroke-linecap="round" stroke-width="7.2"/>
</g>
<g stroke="#000" stroke-width="4.9" fill="none">
<path d="M1204.5 75.7 H1523.8 V553.1"/>
<path d="M1206.9 75.7 V553.1"/>
<path d="M1186.4 553.1 H1526.2" stroke-width="6.6"/>
<path d="M1186.4 433.8 H1206.9"/>
<path d="M1186.4 314.4 H1206.9"/>
<path d="M1186.4 195.1 H1206.9"/>
<path d="M1186.4 75.7 H1206.9"/>
<path d="M1195.1 493.4 H1206.9"/>
<path d="M1195.1 374.1 H1206.9"/>
<path d="M1195.1 254.7 H1206.9"/>
<path d="M1195.1 135.4 H1206.9"/>
<path d="M1255 553.1 V573.6"/>
<path d="M1328.2 553.1 V573.6"/>
<path d="M1401.4 553.1 V573.6"/>
<path d="M1474.6 553.1 V573.6"/>
</g>
<g font-size="36" fill="#000">
<text x="1178.3" y="566.7" text-anchor="end">0.0</text>
<text x="1178.3" y="447.4" text-anchor="end">0.5</text>
<text x="1178.3" y="328" text-anchor="end">1.0</text>
<text x="1178.3" y="208.7" text-anchor="end">1.5</text>
<text x="1178.3" y="89.3" text-anchor="end">2.0</text>
<text x="1255" y="612.1" text-anchor="middle">–/–</text>
<text x="1328.2" y="612.1" text-anchor="middle">+/–</text>
<text x="1401.4" y="612.1" text-anchor="middle">–/+</text>
<text x="1474.6" y="612.1" text-anchor="middle">+/+</text>
</g>
<text transform="translate(1089.4 525.2) rotate(-90)" font-size="38.3">Fitted Rate Constant (h<tspan font-size="30" dy="-13" dx="-1" letter-spacing="1.5">-1</tspan><tspan dy="13" dx="-1.5">)</tspan></text>
<text x="1009" y="102.4" font-size="34" font-weight="bold">i.</text>
<text x="1365" y="121" font-size="32" font-weight="bold" text-anchor="middle">OC6 / aTc</text>
</g>
<g>
<g fill="#1F6E8C" fill-opacity="0.55" stroke="#1F6E8C" stroke-opacity="0.25" stroke-width="1.0"><circle cx="1255" cy="1127.6" r="12"/><circle cx="1255" cy="1093" r="12"/><circle cx="1255" cy="791.1" r="12"/><circle cx="1315.2" cy="1163.5" r="10"/><circle cx="1328.2" cy="1161.1" r="10"/><circle cx="1341.2" cy="1162.3" r="10"/><circle cx="1388.4" cy="1162.3" r="10"/><circle cx="1401.4" cy="1159.9" r="10"/><circle cx="1414.4" cy="1162.3" r="10"/><circle cx="1461.6" cy="1170.6" r="10"/><circle cx="1474.6" cy="1169.4" r="10"/><circle cx="1487.6" cy="1169.4" r="10"/></g>
<g stroke="#22657E" stroke-width="7.0" fill="none">
<path d="M1234.5 1227.9 V1005.9 H1275.5 V1227.9" stroke-linejoin="miter"/>
<path d="M1255 1110.9 V897.3 M1242 897.3 H1268 M1242 1110.9 H1268" stroke-linecap="round" stroke-width="7.2"/>
<path d="M1307.7 1227.9 V1164.2 H1348.7 V1227.9" stroke-linejoin="miter"/>
<path d="M1328.2 1165.8 V1162.3 M1315.2 1162.3 H1341.2 M1315.2 1165.8 H1341.2" stroke-linecap="round" stroke-width="7.2"/>
<path d="M1380.9 1227.9 V1164.2 H1421.9 V1227.9" stroke-linejoin="miter"/>
<path d="M1401.4 1165.8 V1162.3 M1388.4 1162.3 H1414.4 M1388.4 1165.8 H1414.4" stroke-linecap="round" stroke-width="7.2"/>
<path d="M1454.1 1227.9 V1171.8 H1495.1 V1227.9" stroke-linejoin="miter"/>
<path d="M1474.6 1173.5 V1170.1 M1461.6 1170.1 H1487.6 M1461.6 1173.5 H1487.6" stroke-linecap="round" stroke-width="7.2"/>
</g>
<g stroke="#000" stroke-width="4.9" fill="none">
<path d="M1203.8 750.5 H1523.8 V1227.9"/>
<path d="M1206.3 750.5 V1227.9"/>
<path d="M1185.8 1227.9 H1526.2" stroke-width="6.6"/>
<path d="M1185.8 1108.6 H1206.3"/>
<path d="M1185.8 989.2 H1206.3"/>
<path d="M1185.8 869.9 H1206.3"/>
<path d="M1185.8 750.5 H1206.3"/>
<path d="M1194.5 1168.2 H1206.3"/>
<path d="M1194.5 1048.9 H1206.3"/>
<path d="M1194.5 929.5 H1206.3"/>
<path d="M1194.5 810.2 H1206.3"/>
<path d="M1255 1227.9 V1248.4"/>
<path d="M1328.2 1227.9 V1248.4"/>
<path d="M1401.4 1227.9 V1248.4"/>
<path d="M1474.6 1227.9 V1248.4"/>
</g>
<g font-size="36" fill="#000">
<text x="1177.7" y="1241.5" text-anchor="end">0.0</text>
<text x="1177.7" y="1122.2" text-anchor="end">0.5</text>
<text x="1177.7" y="1002.8" text-anchor="end">1.0</text>
<text x="1177.7" y="883.5" text-anchor="end">1.5</text>
<text x="1177.7" y="764.1" text-anchor="end">2.0</text>
<text x="1255" y="1290.4" text-anchor="middle">–/–</text>
<text x="1328.2" y="1290.4" text-anchor="middle">+/–</text>
<text x="1401.4" y="1290.4" text-anchor="middle">–/+</text>
<text x="1474.6" y="1290.4" text-anchor="middle">+/+</text>
</g>
<text transform="translate(1088.8 1200) rotate(-90)" font-size="38.3">Fitted Rate Constant (h<tspan font-size="30" dy="-13" dx="-1" letter-spacing="1.5">-1</tspan><tspan dy="13" dx="-1.5">)</tspan></text>
<text x="1009" y="767" font-size="34" font-weight="bold">ii.</text>
<text x="1365" y="797" font-size="32" font-weight="bold" text-anchor="middle">OC6 / aTc</text>
</g>
<g>
<g fill="#30358E" fill-opacity="0.55" stroke="#30358E" stroke-opacity="0.25" stroke-width="1.0"><circle cx="1242" cy="1865.3" r="11"/><circle cx="1255" cy="1863.2" r="11"/><circle cx="1268" cy="1865.3" r="11"/><circle cx="1314.2" cy="1830.6" r="10.5"/><circle cx="1328.2" cy="1819.8" r="10.5"/><circle cx="1342.2" cy="1821.9" r="10.5"/><circle cx="1388.4" cy="1861" r="10.5"/><circle cx="1401.4" cy="1856.6" r="10.5"/><circle cx="1414.4" cy="1859.9" r="10.5"/><circle cx="1462.6" cy="1696.1" r="10.5"/><circle cx="1486.6" cy="1690.6" r="10.5"/><circle cx="1474.6" cy="1449.8" r="10.5"/></g>
<g stroke="#312F79" stroke-width="7.0" fill="none">
<path d="M1234.5 1903.3 V1867.5 H1275.5 V1903.3" stroke-linejoin="miter"/>
<path d="M1255 1869 V1866 M1242 1866 H1268 M1242 1869 H1268" stroke-linecap="round" stroke-width="7.2"/>
<path d="M1307.7 1903.3 V1824.7 H1348.7 V1903.3" stroke-linejoin="miter"/>
<path d="M1328.2 1826.3 V1823 M1315.2 1823 H1341.2 M1315.2 1826.3 H1341.2" stroke-linecap="round" stroke-width="7.2"/>
<path d="M1380.9 1903.3 V1861 H1421.9 V1903.3" stroke-linejoin="miter"/>
<path d="M1401.4 1862.5 V1859.5 M1388.4 1859.5 H1414.4 M1388.4 1862.5 H1414.4" stroke-linecap="round" stroke-width="7.2"/>
<path d="M1454.1 1903.3 V1615.8 H1495.1 V1903.3" stroke-linejoin="miter"/>
<path d="M1474.6 1692.8 V1531.1 M1461.6 1531.1 H1487.6 M1461.6 1692.8 H1487.6" stroke-linecap="round" stroke-width="7.2"/>
</g>
<g stroke="#000" stroke-width="4.9" fill="none">
<path d="M1203.8 1426.4 H1523.8 V1903.3"/>
<path d="M1206.3 1426.4 V1903.3"/>
<path d="M1185.8 1903.3 H1526.2" stroke-width="6.6"/>
<path d="M1185.8 1794.8 H1206.3"/>
<path d="M1185.8 1686.3 H1206.3"/>
<path d="M1185.8 1577.8 H1206.3"/>
<path d="M1185.8 1469.3 H1206.3"/>
<path d="M1194.5 1849 H1206.3"/>
<path d="M1194.5 1740.5 H1206.3"/>
<path d="M1194.5 1632 H1206.3"/>
<path d="M1194.5 1523.5 H1206.3"/>
<path d="M1255 1903.3 V1923.8"/>
<path d="M1328.2 1903.3 V1923.8"/>
<path d="M1401.4 1903.3 V1923.8"/>
<path d="M1474.6 1903.3 V1923.8"/>
</g>
<g font-size="36" fill="#000">
<text x="1177.7" y="1916.9" text-anchor="end">0.0</text>
<text x="1177.7" y="1808.4" text-anchor="end">0.5</text>
<text x="1177.7" y="1699.9" text-anchor="end">1.0</text>
<text x="1177.7" y="1591.4" text-anchor="end">1.5</text>
<text x="1177.7" y="1482.9" text-anchor="end">2.0</text>
<text x="1255" y="1963.3" text-anchor="middle">–/–</text>
<text x="1328.2" y="1963.3" text-anchor="middle">+/–</text>
<text x="1401.4" y="1963.3" text-anchor="middle">–/+</text>
<text x="1474.6" y="1963.3" text-anchor="middle">+/+</text>
</g>
<text transform="translate(1088.8 1875.4) rotate(-90)" font-size="38.3">Fitted Rate Constant (h<tspan font-size="30" dy="-13" dx="-1" letter-spacing="1.5">-1</tspan><tspan dy="13" dx="-1.5">)</tspan></text>
<text x="1009" y="1449" font-size="34" font-weight="bold">iii.</text>
<text x="1362.7" y="1469.3" font-size="32" font-weight="bold" text-anchor="middle">IPTG / aTc</text>
</g>
<g>
<g fill="#3A004E" fill-opacity="0.55" stroke="#3A004E" stroke-opacity="0.25" stroke-width="1.0"><circle cx="1255" cy="2550.6" r="12"/><circle cx="1255" cy="2455.1" r="12"/><circle cx="1255" cy="2420.1" r="12"/><circle cx="1315.2" cy="2437.5" r="9.7"/><circle cx="1341.2" cy="2434.9" r="9.7"/><circle cx="1328.2" cy="2350.4" r="9.7"/><circle cx="1401.4" cy="2408.4" r="9.7"/><circle cx="1401.4" cy="2302.7" r="9.7"/><circle cx="1401.4" cy="2208.5" r="9.7"/><circle cx="1461.6" cy="2531" r="9.7"/><circle cx="1474.6" cy="2528.6" r="9.7"/><circle cx="1487.6" cy="2531" r="9.7"/></g>
<g stroke="#37004A" stroke-width="7.0" fill="none">
<path d="M1234.5 2578.7 V2478.5 H1275.5 V2578.7" stroke-linejoin="miter"/>
<path d="M1255 2515.5 V2436.8 M1242 2436.8 H1268 M1242 2515.5 H1268" stroke-linecap="round" stroke-width="7.2"/>
<path d="M1307.7 2578.7 V2411.7 H1348.7 V2578.7" stroke-linejoin="miter"/>
<path d="M1328.2 2437.5 V2378.3 M1315.2 2378.3 H1341.2 M1315.2 2437.5 H1341.2" stroke-linecap="round" stroke-width="7.2"/>
<path d="M1380.9 2578.7 V2310.3 H1421.9 V2578.7" stroke-linejoin="miter"/>
<path d="M1401.4 2364 V2248.3 M1388.4 2248.3 H1414.4 M1388.4 2364 H1414.4" stroke-linecap="round" stroke-width="7.2"/>
<path d="M1454.1 2578.7 V2533.4 H1495.1 V2578.7" stroke-linejoin="miter"/>
<path d="M1474.6 2535 V2531.7 M1461.6 2531.7 H1487.6 M1461.6 2535 H1487.6" stroke-linecap="round" stroke-width="7.2"/>
</g>
<g stroke="#000" stroke-width="4.9" fill="none">
<path d="M1203.8 2101.6 H1523.8 V2578.7"/>
<path d="M1206.3 2101.6 V2578.7"/>
<path d="M1185.8 2578.7 H1526.2" stroke-width="6.6"/>
<path d="M1185.8 2459.4 H1206.3"/>
<path d="M1185.8 2340.1 H1206.3"/>
<path d="M1185.8 2220.9 H1206.3"/>
<path d="M1185.8 2101.6 H1206.3"/>
<path d="M1194.5 2519.1 H1206.3"/>
<path d="M1194.5 2399.8 H1206.3"/>
<path d="M1194.5 2280.5 H1206.3"/>
<path d="M1194.5 2161.2 H1206.3"/>
<path d="M1255 2578.7 V2599.2"/>
<path d="M1328.2 2578.7 V2599.2"/>
<path d="M1401.4 2578.7 V2599.2"/>
<path d="M1474.6 2578.7 V2599.2"/>
</g>
<g font-size="36" fill="#000">
<text x="1177.7" y="2592.3" text-anchor="end">0.0</text>
<text x="1177.7" y="2473" text-anchor="end">0.5</text>
<text x="1177.7" y="2353.7" text-anchor="end">1.0</text>
<text x="1177.7" y="2234.5" text-anchor="end">1.5</text>
<text x="1177.7" y="2115.2" text-anchor="end">2.0</text>
<text x="1255" y="2633.7" text-anchor="middle">–/–</text>
<text x="1328.2" y="2633.7" text-anchor="middle">+/–</text>
<text x="1401.4" y="2633.7" text-anchor="middle">–/+</text>
<text x="1474.6" y="2633.7" text-anchor="middle">+/+</text>
</g>
<text transform="translate(1088.8 2550.8) rotate(-90)" font-size="38.3">Fitted Rate Constant (h<tspan font-size="30" dy="-13" dx="-1" letter-spacing="1.5">-1</tspan><tspan dy="13" dx="-1.5">)</tspan></text>
<text x="1004" y="2140" font-size="34" font-weight="bold">iv.</text>
<text x="1365" y="2143.3" font-size="32" font-weight="bold" text-anchor="middle">IPTG / OC6</text>
</g>
</svg></body></html>
